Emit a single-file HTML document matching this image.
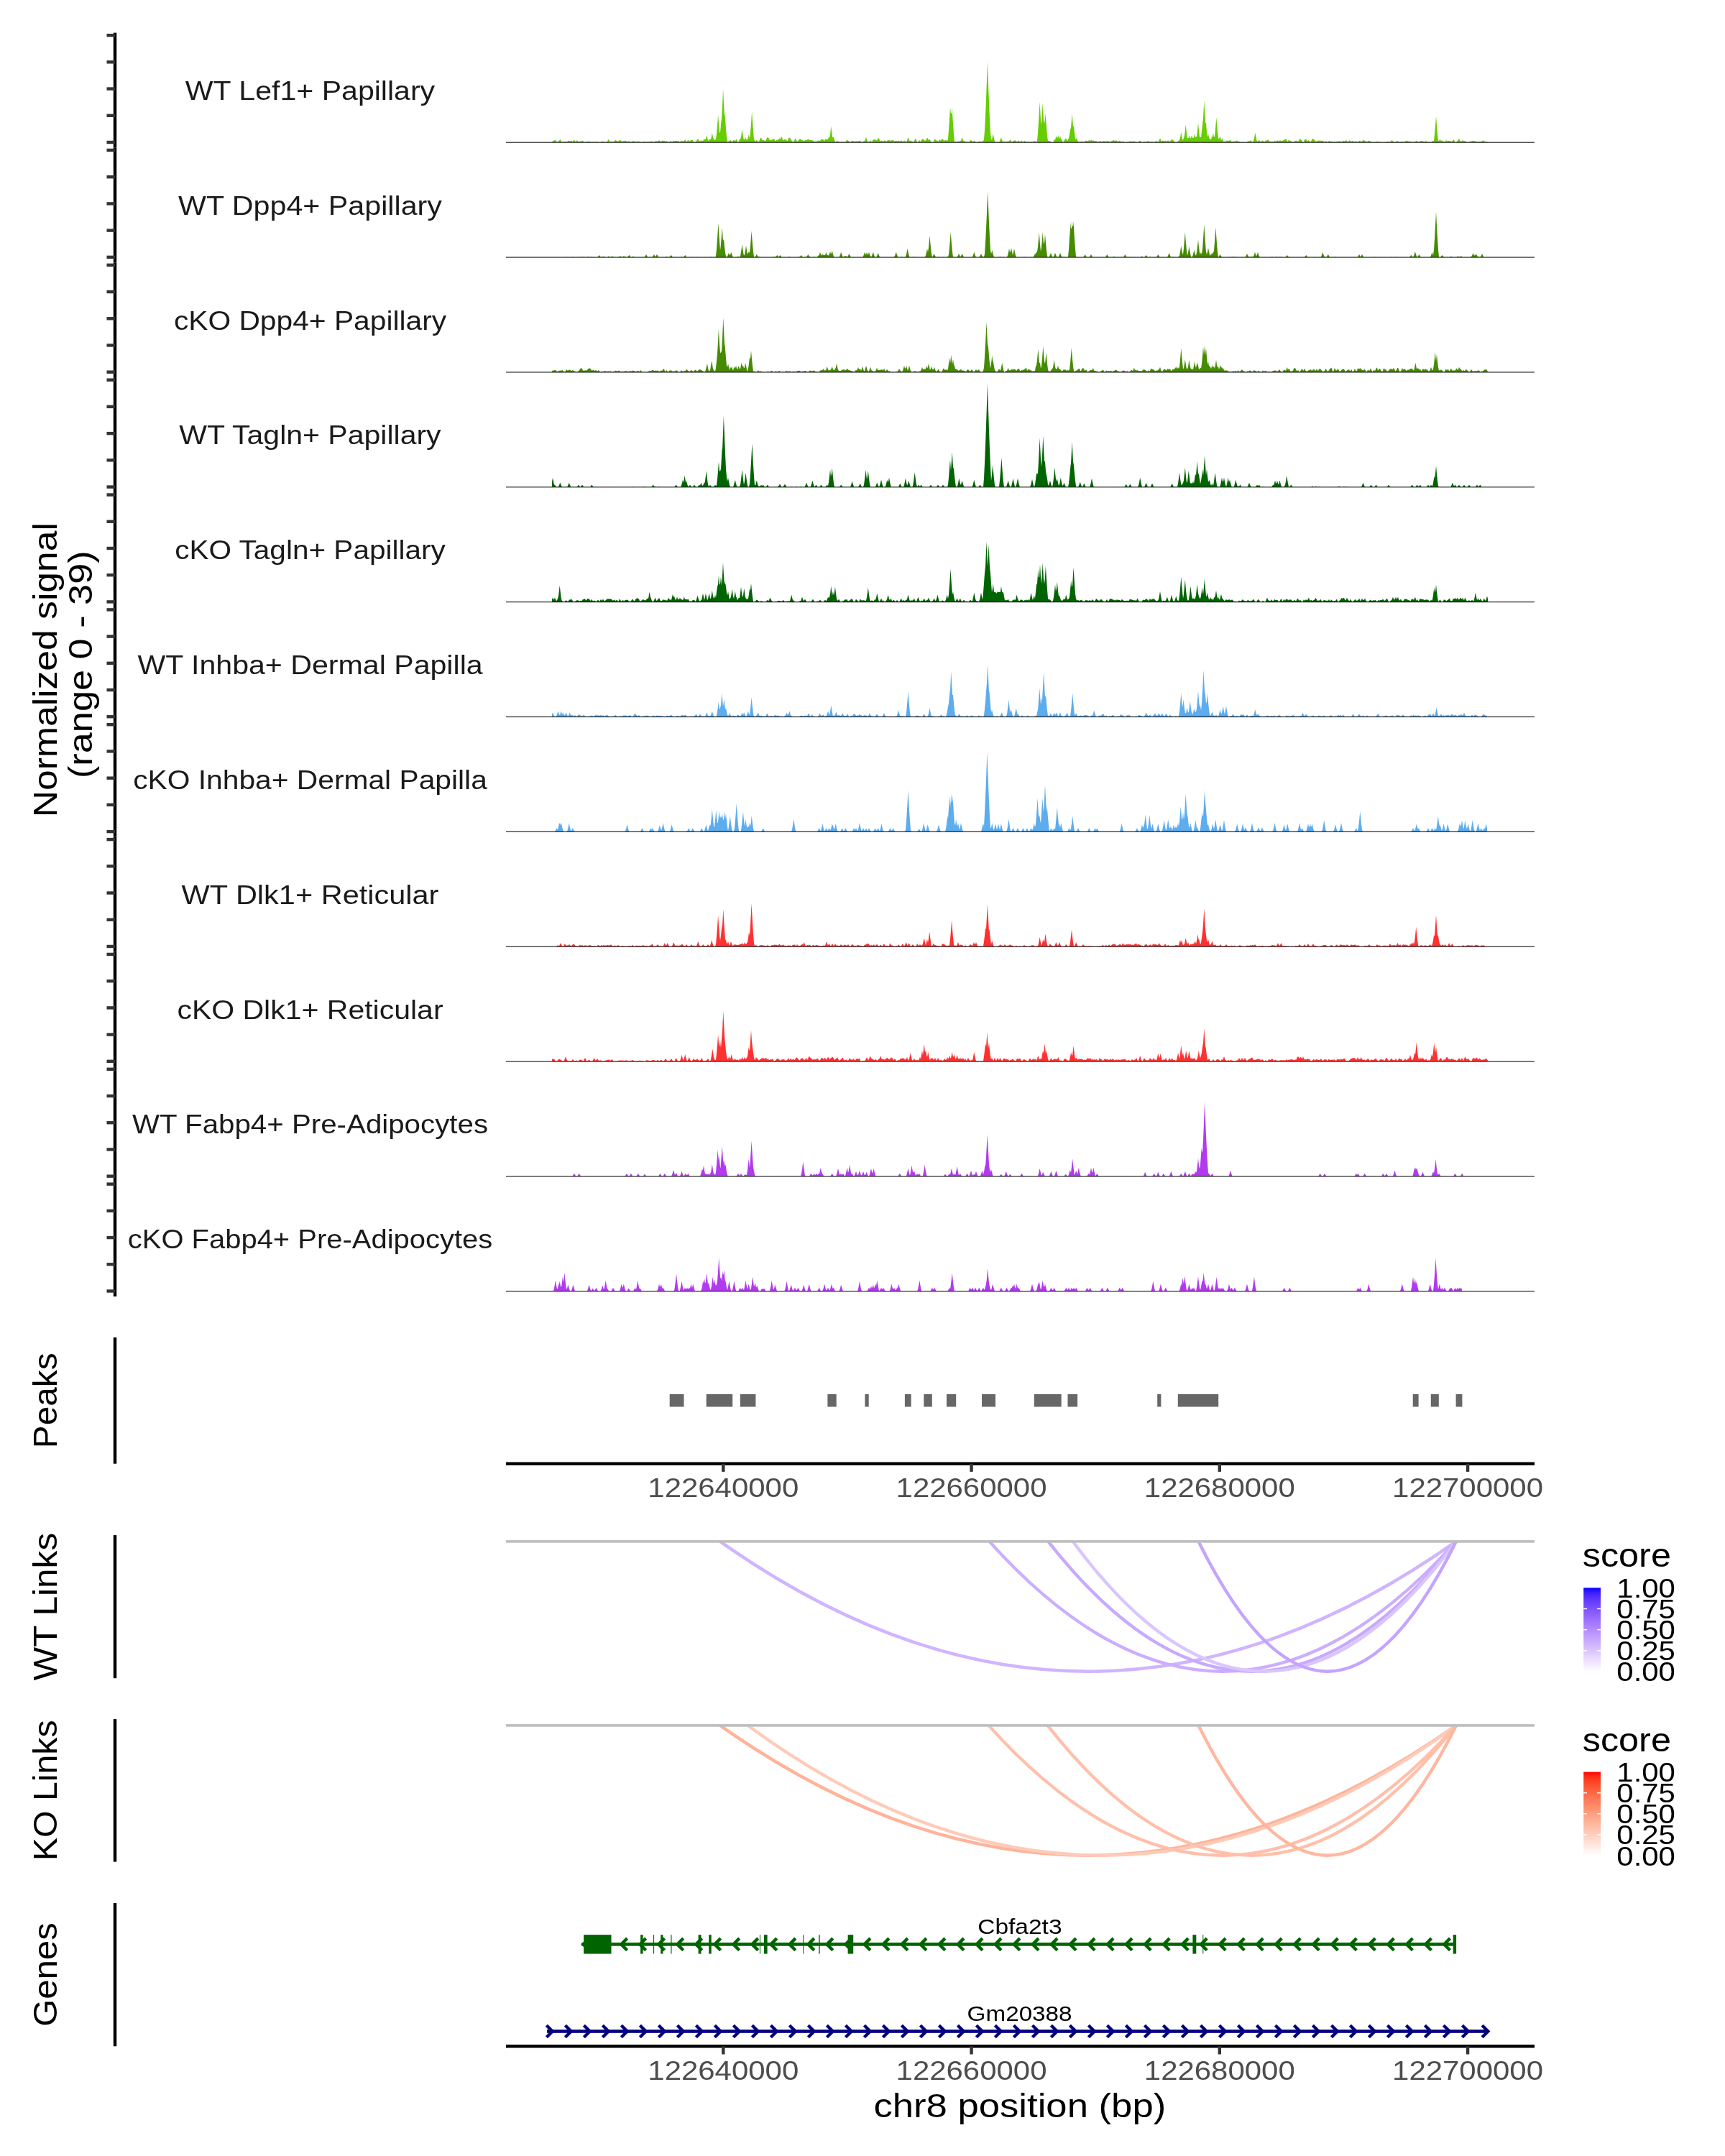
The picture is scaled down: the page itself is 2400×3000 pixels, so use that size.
<!DOCTYPE html><html><head><meta charset="utf-8"><style>html,body{margin:0;padding:0;background:#fff}svg{display:block;will-change:transform}text{font-family:"Liberation Sans", sans-serif}</style></head><body>
<svg width="2400" height="3000" viewBox="0 0 2400 3000">
<rect width="2400" height="3000" fill="#fff"/>
<defs>
<linearGradient id="gb" x1="0" y1="1" x2="0" y2="0">
<stop offset="0.000" stop-color="#FFFFFF"/>
<stop offset="0.050" stop-color="#F8F3FF"/>
<stop offset="0.100" stop-color="#F2E7FF"/>
<stop offset="0.150" stop-color="#EBDCFF"/>
<stop offset="0.200" stop-color="#E3D0FF"/>
<stop offset="0.250" stop-color="#DCC4FF"/>
<stop offset="0.300" stop-color="#D4B9FF"/>
<stop offset="0.350" stop-color="#CCADFF"/>
<stop offset="0.400" stop-color="#C4A2FF"/>
<stop offset="0.450" stop-color="#BC97FF"/>
<stop offset="0.500" stop-color="#B38BFF"/>
<stop offset="0.550" stop-color="#AA80FF"/>
<stop offset="0.600" stop-color="#A074FF"/>
<stop offset="0.650" stop-color="#9569FF"/>
<stop offset="0.700" stop-color="#8A5DFF"/>
<stop offset="0.750" stop-color="#7E52FF"/>
<stop offset="0.800" stop-color="#7145FF"/>
<stop offset="0.850" stop-color="#6239FF"/>
<stop offset="0.900" stop-color="#502BFF"/>
<stop offset="0.950" stop-color="#381BFF"/>
<stop offset="1.000" stop-color="#0000FF"/>
</linearGradient>
<linearGradient id="gr" x1="0" y1="1" x2="0" y2="0">
<stop offset="0.000" stop-color="#FFFFFF"/>
<stop offset="0.050" stop-color="#FFF5F2"/>
<stop offset="0.100" stop-color="#FFECE5"/>
<stop offset="0.150" stop-color="#FFE2D8"/>
<stop offset="0.200" stop-color="#FFD9CB"/>
<stop offset="0.250" stop-color="#FFCFBF"/>
<stop offset="0.300" stop-color="#FFC6B2"/>
<stop offset="0.350" stop-color="#FFBCA6"/>
<stop offset="0.400" stop-color="#FFB299"/>
<stop offset="0.450" stop-color="#FFA88D"/>
<stop offset="0.500" stop-color="#FF9E81"/>
<stop offset="0.550" stop-color="#FF9475"/>
<stop offset="0.600" stop-color="#FF8969"/>
<stop offset="0.650" stop-color="#FF7E5E"/>
<stop offset="0.700" stop-color="#FF7352"/>
<stop offset="0.750" stop-color="#FF6846"/>
<stop offset="0.800" stop-color="#FF5B3A"/>
<stop offset="0.850" stop-color="#FF4D2E"/>
<stop offset="0.900" stop-color="#FF3E22"/>
<stop offset="0.950" stop-color="#FF2913"/>
<stop offset="1.000" stop-color="#FF0000"/>
</linearGradient>
</defs>
<rect x="157.80" y="45.60" width="4.4" height="159.90" fill="#000"/>
<rect x="148.5" y="195.80" width="11.50" height="4.4" fill="#333333"/>
<rect x="148.5" y="158.58" width="11.50" height="4.4" fill="#333333"/>
<rect x="148.5" y="121.36" width="11.50" height="4.4" fill="#333333"/>
<rect x="148.5" y="84.14" width="11.50" height="4.4" fill="#333333"/>
<rect x="148.5" y="46.92" width="11.50" height="4.4" fill="#333333"/>
<text x="431.50" y="138.80" font-size="37.40" fill="#1A1A1A" text-anchor="middle" textLength="347.31" lengthAdjust="spacingAndGlyphs">WT Lef1+ Papillary</text>
<path d="M768.0,198.00 L768.0,197.70 L769.0,196.60 L770.0,195.70 L771.0,195.80 L772.0,194.40 L773.0,194.90 L774.0,197.00 L775.0,197.50 L776.0,197.40 L777.0,196.40 L778.0,196.10 L779.0,194.10 L779.3,193.50 L780.0,195.00 L781.0,196.80 L782.0,197.50 L783.0,197.20 L784.0,196.40 L785.0,197.40 L786.0,197.50 L787.0,196.60 L788.0,197.30 L789.0,197.20 L790.0,196.20 L791.0,195.60 L791.8,195.90 L792.0,195.90 L793.0,196.30 L794.0,196.30 L795.0,195.50 L796.0,196.70 L797.0,197.00 L798.0,195.00 L799.0,194.70 L800.0,196.60 L801.0,197.10 L802.0,195.70 L803.0,195.30 L804.0,196.50 L805.0,197.30 L806.0,196.90 L807.0,196.60 L808.0,196.50 L809.0,196.50 L810.0,195.70 L811.0,195.80 L812.0,197.30 L813.0,197.60 L814.0,197.40 L815.0,197.20 L816.0,197.00 L817.0,196.80 L818.0,197.00 L819.0,196.90 L820.0,196.50 L821.0,196.80 L822.0,197.40 L823.0,197.40 L824.0,197.20 L825.0,197.60 L826.0,197.40 L827.0,197.00 L828.0,197.50 L829.0,197.40 L830.0,196.70 L831.0,197.30 L832.0,197.60 L833.0,198.00 L834.0,198.00 L835.0,197.70 L836.0,197.60 L837.0,196.90 L838.0,196.50 L839.0,196.90 L840.0,197.00 L841.0,197.50 L842.0,197.60 L843.0,197.60 L844.0,197.50 L845.0,196.90 L846.0,194.60 L847.0,194.10 L848.0,196.50 L849.0,197.40 L850.0,196.60 L851.0,196.80 L852.0,197.70 L853.0,197.50 L854.0,196.60 L855.0,196.30 L856.0,195.10 L857.0,195.20 L858.0,196.00 L859.0,196.00 L860.0,196.70 L861.0,195.90 L862.0,195.30 L863.0,195.00 L864.0,195.50 L865.0,196.90 L866.0,197.00 L867.0,196.00 L868.0,196.40 L869.0,196.00 L870.0,195.60 L871.0,196.20 L872.0,196.50 L873.0,197.20 L874.0,196.80 L875.0,196.20 L876.0,196.50 L877.0,197.40 L878.0,197.50 L879.0,196.90 L880.0,196.50 L881.0,196.10 L882.0,196.40 L883.0,196.50 L884.0,197.00 L885.0,197.50 L886.0,197.10 L887.0,196.20 L888.0,196.60 L889.0,197.10 L890.0,196.70 L891.0,197.30 L892.0,198.00 L893.0,198.00 L894.0,197.60 L895.0,196.90 L896.0,197.10 L897.0,196.80 L898.0,197.20 L899.0,197.50 L900.0,197.60 L901.0,197.00 L902.0,197.00 L903.0,197.20 L904.0,196.90 L905.0,197.00 L906.0,196.60 L907.0,196.70 L908.0,197.00 L909.0,197.20 L910.0,197.40 L911.0,197.10 L912.0,196.30 L913.0,196.40 L914.0,196.60 L915.0,196.20 L916.0,195.90 L917.0,195.40 L918.0,195.60 L919.0,197.00 L920.0,196.70 L921.0,195.50 L922.0,195.80 L923.0,196.20 L924.0,195.50 L925.0,196.60 L926.0,197.00 L927.0,195.70 L928.0,196.30 L929.0,197.60 L930.0,197.70 L931.0,197.20 L932.0,197.10 L933.0,196.20 L934.0,196.60 L935.0,197.20 L936.0,196.80 L937.0,195.50 L938.0,196.00 L939.0,196.50 L940.0,195.80 L941.0,195.80 L942.0,196.00 L943.0,196.20 L944.0,195.80 L945.0,197.20 L946.0,197.40 L947.0,196.20 L948.0,196.20 L949.0,196.30 L950.0,196.20 L951.0,196.20 L952.0,196.10 L953.0,194.40 L953.2,194.00 L954.0,195.50 L955.0,197.10 L956.0,196.90 L957.0,194.50 L958.0,195.20 L959.0,196.70 L960.0,196.20 L961.0,195.10 L962.0,195.10 L963.0,194.70 L964.0,195.30 L965.0,197.20 L966.0,198.00 L967.0,197.60 L968.0,197.00 L969.0,196.30 L970.0,194.30 L971.0,193.70 L971.3,193.00 L972.0,194.60 L973.0,196.60 L974.0,196.70 L975.0,194.90 L976.0,195.70 L977.0,196.30 L978.0,195.80 L979.0,194.90 L980.0,193.30 L981.0,194.00 L982.0,193.50 L983.0,189.40 L983.3,188.00 L984.0,191.10 L985.0,195.00 L986.0,195.90 L987.0,194.40 L988.0,192.70 L989.0,194.20 L990.0,189.20 L990.8,184.60 L991.0,185.80 L992.0,191.30 L993.0,192.90 L994.0,194.80 L995.0,195.00 L996.0,192.90 L997.0,186.70 L998.0,174.70 L999.0,161.00 L999.1,159.60 L1000.0,172.10 L1001.0,184.50 L1002.0,184.50 L1003.0,173.80 L1003.5,168.00 L1004.0,165.50 L1005.0,147.50 L1006.0,125.70 L1006.1,123.40 L1007.0,143.30 L1008.0,161.90 L1008.5,158.00 L1009.0,165.30 L1010.0,178.80 L1011.0,190.30 L1012.0,197.50 L1013.0,197.00 L1014.0,196.50 L1015.0,196.10 L1016.0,194.80 L1017.0,195.60 L1018.0,197.20 L1019.0,196.80 L1020.0,195.50 L1021.0,194.70 L1022.0,195.60 L1023.0,196.30 L1024.0,194.10 L1025.0,193.90 L1026.0,196.80 L1027.0,198.00 L1028.0,196.80 L1029.0,193.50 L1030.0,193.80 L1031.0,190.70 L1032.0,183.80 L1032.5,180.00 L1033.0,183.80 L1034.0,190.70 L1035.0,194.60 L1036.0,193.80 L1037.0,192.60 L1037.5,191.00 L1038.0,192.60 L1039.0,195.30 L1040.0,193.80 L1041.0,190.40 L1041.7,187.00 L1042.0,188.50 L1043.0,193.00 L1044.0,184.80 L1045.0,171.80 L1046.0,157.00 L1046.1,155.40 L1047.0,168.90 L1048.0,182.40 L1049.0,193.40 L1050.0,195.80 L1051.0,197.10 L1052.0,196.10 L1053.0,194.30 L1054.0,196.60 L1055.0,198.00 L1056.0,197.10 L1057.0,194.60 L1058.0,192.20 L1059.0,191.30 L1060.0,193.80 L1061.0,195.40 L1062.0,194.60 L1063.0,195.00 L1064.0,196.20 L1065.0,196.00 L1066.0,194.00 L1067.0,191.90 L1068.0,191.30 L1069.0,191.50 L1070.0,192.80 L1071.0,195.30 L1072.0,195.10 L1073.0,195.30 L1074.0,193.70 L1075.0,194.60 L1076.0,193.70 L1077.0,192.60 L1078.0,195.20 L1079.0,196.50 L1080.0,195.40 L1081.0,193.80 L1082.0,195.50 L1083.0,194.20 L1084.0,192.30 L1085.0,192.90 L1086.0,192.90 L1087.0,190.40 L1088.0,190.80 L1089.0,194.60 L1090.0,195.70 L1091.0,193.60 L1092.0,194.80 L1093.0,193.50 L1094.0,194.30 L1095.0,196.20 L1096.0,195.70 L1097.0,192.40 L1098.0,191.00 L1099.0,192.10 L1100.0,193.00 L1101.0,194.60 L1102.0,196.50 L1103.0,197.30 L1104.0,197.00 L1105.0,196.30 L1106.0,193.20 L1107.0,192.40 L1108.0,195.30 L1109.0,197.00 L1110.0,196.20 L1111.0,195.30 L1112.0,193.70 L1113.0,193.40 L1114.0,193.40 L1115.0,193.80 L1116.0,195.60 L1117.0,194.80 L1118.0,195.90 L1119.0,196.60 L1120.0,194.50 L1121.0,194.70 L1122.0,195.60 L1123.0,194.20 L1124.0,194.00 L1125.0,193.60 L1126.0,194.40 L1127.0,195.20 L1128.0,194.30 L1129.0,195.30 L1130.0,195.30 L1131.0,195.50 L1132.0,195.90 L1133.0,197.20 L1134.0,196.90 L1135.0,196.20 L1136.0,197.00 L1137.0,196.60 L1138.0,195.30 L1138.2,195.00 L1139.0,196.00 L1140.0,196.10 L1141.0,195.70 L1142.0,194.60 L1143.0,193.20 L1144.0,194.40 L1145.0,193.20 L1146.0,195.20 L1147.0,196.50 L1148.0,193.10 L1149.0,193.60 L1150.0,194.30 L1151.0,193.80 L1152.0,193.50 L1153.0,190.00 L1154.0,192.40 L1155.0,186.90 L1156.0,178.30 L1156.3,175.50 L1157.0,181.90 L1158.0,190.00 L1159.0,191.80 L1159.5,190.00 L1160.0,191.80 L1161.0,195.10 L1162.0,197.20 L1163.0,197.00 L1164.0,197.00 L1165.0,196.60 L1166.0,196.20 L1167.0,196.60 L1168.0,197.60 L1169.0,198.00 L1170.0,197.50 L1171.0,196.70 L1172.0,197.40 L1173.0,197.50 L1174.0,197.00 L1175.0,197.50 L1176.0,197.50 L1177.0,196.40 L1178.0,195.10 L1179.0,195.00 L1180.0,196.20 L1181.0,196.30 L1182.0,196.90 L1183.0,197.40 L1184.0,197.30 L1185.0,196.10 L1186.0,195.70 L1187.0,196.30 L1188.0,196.40 L1189.0,196.90 L1190.0,196.50 L1191.0,196.50 L1192.0,196.40 L1193.0,196.50 L1194.0,196.50 L1195.0,196.30 L1196.0,195.90 L1197.0,195.80 L1198.0,197.20 L1199.0,197.70 L1200.0,197.60 L1201.0,196.90 L1202.0,196.30 L1203.0,196.20 L1204.0,194.10 L1205.0,191.00 L1206.0,194.10 L1207.0,196.70 L1208.0,197.30 L1209.0,197.50 L1210.0,196.20 L1211.0,195.20 L1212.0,196.70 L1213.0,197.50 L1214.0,196.00 L1215.0,194.20 L1216.0,194.30 L1217.0,193.90 L1218.0,194.00 L1219.0,195.10 L1220.0,195.70 L1221.0,193.50 L1221.2,193.00 L1222.0,192.20 L1223.0,192.60 L1224.0,195.40 L1225.0,196.80 L1226.0,195.80 L1227.0,195.60 L1228.0,196.40 L1229.0,197.00 L1230.0,195.80 L1231.0,195.30 L1232.0,196.30 L1233.0,196.70 L1234.0,196.20 L1235.0,195.00 L1236.0,195.30 L1237.0,195.20 L1238.0,195.30 L1239.0,196.10 L1240.0,195.20 L1241.0,195.30 L1242.0,195.30 L1243.0,194.80 L1244.0,196.60 L1245.0,196.50 L1246.0,195.50 L1247.0,196.10 L1248.0,196.20 L1249.0,196.20 L1250.0,195.40 L1251.0,196.30 L1252.0,196.80 L1253.0,196.00 L1254.0,194.90 L1255.0,196.60 L1256.0,197.00 L1257.0,196.60 L1258.0,195.80 L1259.0,195.70 L1260.0,197.30 L1261.0,197.50 L1262.0,195.50 L1263.0,192.60 L1263.5,191.00 L1264.0,192.60 L1265.0,195.20 L1266.0,196.30 L1267.0,195.60 L1268.0,195.90 L1269.0,196.70 L1270.0,197.10 L1271.0,197.50 L1272.0,196.30 L1273.0,193.50 L1274.0,193.10 L1275.0,195.30 L1276.0,197.40 L1277.0,198.00 L1278.0,196.60 L1279.0,194.40 L1280.0,196.60 L1281.0,197.20 L1282.0,195.10 L1283.0,193.80 L1284.0,193.10 L1285.0,194.20 L1286.0,194.80 L1287.0,195.90 L1288.0,195.30 L1289.0,193.40 L1290.0,191.70 L1291.0,192.40 L1292.0,195.30 L1293.0,194.60 L1293.5,193.50 L1294.0,194.60 L1295.0,196.40 L1296.0,197.70 L1297.0,197.40 L1298.0,197.70 L1299.0,197.10 L1300.0,194.20 L1301.0,193.00 L1302.0,195.20 L1303.0,195.80 L1304.0,195.10 L1305.0,197.00 L1306.0,196.70 L1307.0,194.00 L1308.0,195.00 L1309.0,195.60 L1310.0,193.80 L1311.0,193.30 L1312.0,193.40 L1313.0,195.70 L1314.0,195.70 L1315.0,194.50 L1316.0,195.50 L1317.0,194.90 L1318.0,196.30 L1319.0,192.90 L1320.0,180.90 L1321.0,166.10 L1322.0,150.00 L1323.0,158.40 L1324.0,157.00 L1324.5,148.50 L1325.0,157.00 L1326.0,172.20 L1327.0,186.60 L1328.0,197.00 L1329.0,197.30 L1330.0,197.00 L1331.0,197.40 L1332.0,196.80 L1333.0,196.60 L1334.0,197.00 L1335.0,196.20 L1336.0,196.30 L1337.0,195.70 L1338.0,192.90 L1338.6,191.00 L1339.0,192.30 L1340.0,195.20 L1341.0,196.00 L1342.0,196.30 L1343.0,197.10 L1344.0,197.00 L1345.0,196.90 L1346.0,197.50 L1347.0,197.60 L1348.0,197.50 L1349.0,197.00 L1350.0,195.10 L1351.0,195.10 L1352.0,196.20 L1353.0,196.70 L1354.0,196.90 L1355.0,195.80 L1356.0,196.00 L1357.0,197.20 L1358.0,198.00 L1359.0,198.00 L1360.0,197.60 L1361.0,197.20 L1362.0,196.60 L1363.0,196.70 L1364.0,197.00 L1365.0,197.20 L1366.0,196.90 L1367.0,196.50 L1368.0,196.70 L1369.0,193.50 L1370.0,181.40 L1371.0,160.90 L1371.5,149.40 L1372.0,137.20 L1373.0,111.20 L1373.9,86.00 L1374.0,88.90 L1375.0,116.50 L1376.0,142.20 L1376.5,154.10 L1377.0,165.30 L1378.0,184.50 L1379.0,193.50 L1380.0,194.30 L1381.0,189.70 L1381.7,186.00 L1382.0,187.60 L1383.0,192.50 L1384.0,196.50 L1385.0,197.30 L1386.0,197.50 L1387.0,197.70 L1388.0,198.00 L1389.0,197.60 L1390.0,197.50 L1391.0,196.50 L1392.0,193.80 L1392.9,191.00 L1393.0,191.30 L1394.0,194.40 L1395.0,196.90 L1396.0,197.20 L1397.0,196.60 L1398.0,197.30 L1399.0,197.20 L1400.0,197.00 L1401.0,196.90 L1402.0,196.30 L1403.0,196.70 L1404.0,196.50 L1405.0,194.80 L1405.4,194.00 L1406.0,195.10 L1407.0,196.80 L1408.0,197.60 L1409.0,197.00 L1410.0,195.80 L1411.0,195.90 L1412.0,195.20 L1413.0,195.60 L1414.0,196.70 L1415.0,197.10 L1416.0,196.80 L1417.0,195.30 L1418.0,196.20 L1419.0,197.50 L1420.0,196.80 L1421.0,195.60 L1422.0,196.60 L1423.0,198.00 L1424.0,197.30 L1425.0,195.80 L1426.0,196.20 L1427.0,197.20 L1428.0,197.40 L1429.0,197.10 L1430.0,197.10 L1431.0,197.60 L1432.0,197.40 L1433.0,196.90 L1434.0,197.40 L1435.0,197.30 L1436.0,197.30 L1437.0,197.40 L1438.0,196.80 L1439.0,196.10 L1440.0,196.50 L1441.0,196.80 L1442.0,196.90 L1443.0,196.40 L1444.0,185.00 L1445.0,169.90 L1446.0,152.70 L1446.6,141.50 L1447.0,149.00 L1448.0,166.60 L1448.5,173.00 L1449.0,170.60 L1450.0,155.80 L1450.7,143.00 L1451.0,148.60 L1452.0,166.00 L1453.0,172.60 L1454.0,165.90 L1454.6,157.00 L1455.0,163.00 L1456.0,176.90 L1457.0,188.90 L1458.0,196.10 L1459.0,196.00 L1460.0,196.20 L1461.0,196.40 L1462.0,197.10 L1463.0,198.00 L1465.0,198.00 L1466.0,196.40 L1467.0,193.70 L1468.0,194.70 L1469.0,191.00 L1469.5,189.00 L1470.0,191.00 L1471.0,192.60 L1472.0,188.90 L1472.2,188.00 L1473.0,191.50 L1474.0,192.90 L1475.0,189.00 L1476.0,192.70 L1477.0,194.00 L1478.0,196.40 L1479.0,197.20 L1480.0,197.40 L1481.0,194.80 L1482.0,193.80 L1483.0,192.20 L1484.0,194.10 L1485.0,196.50 L1486.0,193.00 L1487.0,192.80 L1488.0,187.40 L1489.0,180.00 L1490.0,178.10 L1491.0,166.50 L1491.6,157.70 L1492.0,163.60 L1493.0,175.70 L1494.0,175.60 L1495.0,184.70 L1496.0,193.70 L1497.0,193.20 L1498.0,191.80 L1499.0,195.70 L1500.0,196.80 L1501.0,196.90 L1502.0,197.20 L1503.0,197.40 L1504.0,196.70 L1505.0,196.50 L1506.0,196.90 L1507.0,197.20 L1508.0,197.50 L1509.0,197.10 L1510.0,195.80 L1511.0,195.80 L1512.0,196.00 L1513.0,196.50 L1514.0,195.90 L1515.0,195.20 L1516.0,195.60 L1517.0,196.10 L1518.0,194.50 L1519.0,195.30 L1520.0,196.10 L1521.0,195.40 L1522.0,195.70 L1523.0,196.20 L1524.0,196.50 L1525.0,195.60 L1526.0,196.90 L1527.0,197.20 L1528.0,196.50 L1529.0,197.00 L1530.0,196.90 L1531.0,196.00 L1532.0,196.60 L1533.0,197.40 L1534.0,197.20 L1535.0,196.00 L1536.0,195.90 L1537.0,196.80 L1538.0,196.60 L1539.0,196.80 L1540.0,196.30 L1541.0,196.10 L1542.0,196.50 L1543.0,196.80 L1544.0,197.20 L1545.0,197.20 L1546.0,196.40 L1547.0,195.90 L1548.0,195.90 L1549.0,194.90 L1550.0,194.90 L1551.0,196.30 L1552.0,195.80 L1553.0,195.00 L1554.0,196.10 L1555.0,197.10 L1556.0,196.90 L1557.0,195.80 L1558.0,196.10 L1559.0,196.50 L1560.0,196.80 L1561.0,197.20 L1562.0,196.50 L1563.0,196.60 L1564.0,197.40 L1565.0,198.00 L1566.0,198.00 L1567.0,197.70 L1568.0,197.20 L1569.0,197.20 L1570.0,197.40 L1571.0,196.90 L1572.0,196.00 L1573.0,196.70 L1574.0,197.00 L1575.0,196.70 L1576.0,196.40 L1577.0,196.60 L1578.0,196.80 L1579.0,196.60 L1580.0,197.50 L1581.0,198.00 L1582.0,197.60 L1583.0,198.00 L1584.0,197.40 L1585.0,195.90 L1586.0,195.40 L1587.0,196.40 L1588.0,197.50 L1589.0,198.00 L1590.0,197.40 L1591.0,197.00 L1592.0,197.40 L1593.0,197.10 L1594.0,197.30 L1595.0,197.30 L1596.0,196.50 L1597.0,196.20 L1598.0,196.70 L1599.0,197.00 L1600.0,196.80 L1601.0,197.40 L1602.0,197.30 L1603.0,196.80 L1604.0,197.40 L1605.0,198.00 L1606.0,197.60 L1607.0,196.70 L1608.0,196.60 L1609.0,196.10 L1610.0,196.90 L1611.0,197.40 L1612.0,196.70 L1613.0,194.70 L1614.0,192.00 L1615.0,194.70 L1616.0,196.70 L1617.0,195.90 L1618.0,195.40 L1619.0,196.60 L1620.0,196.20 L1621.0,195.60 L1622.0,196.10 L1623.0,197.10 L1624.0,196.20 L1625.0,195.00 L1626.0,196.20 L1627.0,197.10 L1628.0,196.60 L1629.0,195.30 L1630.0,194.60 L1630.7,193.00 L1631.0,193.70 L1632.0,195.40 L1633.0,195.60 L1634.0,197.30 L1635.0,198.00 L1636.0,197.70 L1637.0,198.00 L1638.0,197.50 L1639.0,196.20 L1640.0,196.00 L1641.0,194.80 L1642.0,191.50 L1643.0,185.80 L1643.3,184.00 L1644.0,188.20 L1645.0,193.50 L1646.0,195.10 L1647.0,191.50 L1648.0,188.90 L1649.0,180.00 L1649.7,173.00 L1650.0,176.00 L1651.0,185.50 L1652.0,193.10 L1653.0,191.20 L1654.0,192.30 L1655.0,188.00 L1656.0,192.30 L1657.0,192.30 L1658.0,188.00 L1659.0,191.60 L1660.0,192.20 L1661.0,191.10 L1662.0,186.00 L1663.0,191.10 L1664.0,189.90 L1665.0,190.50 L1666.0,181.40 L1667.0,171.00 L1668.0,181.40 L1669.0,190.50 L1670.0,190.40 L1671.0,191.30 L1672.0,182.80 L1673.0,173.00 L1674.0,163.90 L1675.0,145.80 L1675.3,140.00 L1676.0,153.20 L1677.0,170.60 L1678.0,171.60 L1679.0,183.70 L1680.0,191.10 L1681.0,186.00 L1682.0,191.10 L1683.0,193.20 L1684.0,193.40 L1685.0,194.20 L1686.0,189.50 L1687.0,190.50 L1688.0,185.00 L1689.0,190.50 L1690.0,190.20 L1691.0,179.60 L1692.0,167.20 L1692.3,163.20 L1693.0,172.30 L1694.0,184.10 L1695.0,192.30 L1696.0,193.60 L1697.0,190.30 L1698.0,190.80 L1699.0,195.40 L1700.0,192.80 L1700.3,192.00 L1701.0,193.90 L1702.0,196.30 L1703.0,197.60 L1704.0,196.60 L1705.0,196.50 L1706.0,196.50 L1707.0,195.80 L1708.0,195.40 L1709.0,196.00 L1710.0,195.90 L1711.0,194.70 L1712.0,195.00 L1713.0,196.20 L1714.0,197.40 L1715.0,197.10 L1716.0,196.40 L1717.0,196.60 L1718.0,196.50 L1719.0,196.90 L1720.0,195.80 L1721.0,195.60 L1722.0,196.80 L1723.0,196.60 L1724.0,196.40 L1725.0,197.50 L1726.0,198.00 L1727.0,197.40 L1728.0,197.70 L1729.0,197.50 L1730.0,197.20 L1731.0,197.70 L1732.0,198.00 L1734.0,198.00 L1735.0,197.30 L1736.0,196.80 L1737.0,196.20 L1738.0,196.40 L1739.0,195.90 L1740.0,195.10 L1741.0,196.40 L1742.0,197.40 L1743.0,197.20 L1744.0,196.30 L1745.0,191.80 L1746.0,186.40 L1746.3,184.60 L1747.0,188.60 L1748.0,193.80 L1749.0,197.10 L1750.0,196.40 L1751.0,195.20 L1752.0,195.40 L1753.0,196.10 L1754.0,197.40 L1755.0,197.10 L1756.0,195.40 L1757.0,195.70 L1758.0,196.40 L1759.0,197.20 L1760.0,196.80 L1761.0,195.30 L1762.0,196.10 L1763.0,195.10 L1764.0,194.30 L1765.0,195.10 L1766.0,196.40 L1767.0,196.80 L1768.0,197.20 L1769.0,197.00 L1770.0,196.60 L1771.0,197.50 L1772.0,197.30 L1773.0,195.80 L1774.0,196.10 L1775.0,196.90 L1776.0,196.20 L1777.0,195.10 L1778.0,196.00 L1779.0,196.50 L1780.0,195.70 L1781.0,195.50 L1782.0,195.50 L1783.0,196.20 L1784.0,196.30 L1785.0,195.20 L1786.0,194.50 L1787.0,194.60 L1788.0,194.00 L1789.0,193.30 L1790.0,194.30 L1791.0,196.60 L1792.0,196.70 L1793.0,194.30 L1794.0,194.70 L1795.0,196.20 L1796.0,195.70 L1797.0,196.90 L1798.0,197.40 L1799.0,198.00 L1800.0,197.20 L1801.0,196.10 L1802.0,196.30 L1803.0,195.50 L1804.0,196.10 L1805.0,196.60 L1806.0,196.80 L1807.0,196.00 L1808.0,193.70 L1809.0,193.20 L1810.0,194.00 L1811.0,194.90 L1812.0,197.10 L1813.0,198.00 L1814.0,197.00 L1815.0,194.60 L1816.0,193.70 L1817.0,193.70 L1818.0,194.50 L1819.0,196.30 L1820.0,195.50 L1821.0,194.70 L1822.0,196.40 L1823.0,197.50 L1824.0,196.70 L1825.0,194.60 L1826.0,193.10 L1827.0,193.30 L1828.0,193.80 L1829.0,194.70 L1830.0,196.40 L1831.0,196.40 L1832.0,196.70 L1833.0,196.20 L1834.0,195.00 L1835.0,196.20 L1836.0,195.30 L1837.0,195.60 L1838.0,196.30 L1839.0,195.70 L1840.0,195.80 L1841.0,195.90 L1842.0,197.00 L1843.0,197.50 L1844.0,196.50 L1845.0,196.10 L1846.0,197.20 L1847.0,197.70 L1848.0,197.10 L1849.0,195.90 L1850.0,195.80 L1851.0,197.10 L1852.0,196.80 L1853.0,196.50 L1854.0,197.20 L1855.0,197.10 L1856.0,197.20 L1857.0,196.70 L1858.0,197.20 L1859.0,197.20 L1860.0,196.20 L1861.0,197.20 L1862.0,196.90 L1863.0,196.10 L1864.0,196.70 L1865.0,196.40 L1866.0,197.10 L1867.0,197.00 L1868.0,196.40 L1869.0,195.80 L1870.0,196.30 L1871.0,196.50 L1872.0,195.70 L1873.0,195.10 L1874.0,196.30 L1875.0,197.40 L1876.0,196.80 L1877.0,195.50 L1878.0,195.50 L1879.0,196.60 L1880.0,196.80 L1881.0,196.20 L1882.0,195.80 L1883.0,196.40 L1884.0,197.60 L1885.0,197.20 L1886.0,195.80 L1887.0,196.80 L1888.0,197.50 L1889.0,197.10 L1890.0,197.00 L1891.0,195.90 L1892.0,195.70 L1893.0,196.30 L1894.0,197.00 L1895.0,197.00 L1896.0,195.30 L1897.0,194.70 L1898.0,195.80 L1899.0,195.60 L1900.0,196.50 L1901.0,197.10 L1902.0,197.10 L1903.0,196.50 L1904.0,195.80 L1905.0,195.80 L1906.0,196.20 L1907.0,196.90 L1908.0,197.10 L1909.0,197.70 L1910.0,198.00 L1911.0,197.50 L1912.0,197.20 L1913.0,197.50 L1914.0,198.00 L1915.0,197.30 L1916.0,196.60 L1917.0,196.90 L1918.0,197.60 L1919.0,197.60 L1920.0,197.50 L1921.0,197.30 L1922.0,197.40 L1923.0,198.00 L1926.0,198.00 L1927.0,197.50 L1928.0,197.40 L1929.0,197.50 L1930.0,197.30 L1931.0,197.00 L1932.0,196.90 L1933.0,197.40 L1934.0,197.20 L1935.0,196.60 L1936.0,195.60 L1937.0,195.60 L1938.0,196.20 L1939.0,197.40 L1940.0,197.60 L1941.0,197.40 L1942.0,197.20 L1943.0,196.40 L1944.0,195.90 L1945.0,196.60 L1946.0,197.30 L1947.0,197.60 L1948.0,197.50 L1949.0,196.80 L1950.0,196.90 L1951.0,197.40 L1952.0,196.90 L1953.0,197.10 L1954.0,197.20 L1955.0,196.60 L1956.0,196.20 L1957.0,195.60 L1958.0,195.90 L1959.0,196.40 L1960.0,196.60 L1961.0,196.70 L1962.0,197.00 L1963.0,196.80 L1964.0,196.90 L1965.0,197.70 L1966.0,198.00 L1967.0,197.60 L1968.0,196.80 L1969.0,196.90 L1970.0,196.50 L1971.0,195.50 L1972.0,196.40 L1973.0,197.50 L1974.0,197.40 L1975.0,196.80 L1976.0,196.30 L1977.0,196.50 L1978.0,195.90 L1979.0,196.20 L1980.0,196.60 L1981.0,196.70 L1982.0,197.30 L1983.0,196.90 L1984.0,195.60 L1985.0,197.10 L1986.0,198.00 L1987.0,197.20 L1988.0,196.90 L1989.0,197.50 L1990.0,197.70 L1991.0,197.70 L1992.0,196.90 L1993.0,196.10 L1994.0,196.40 L1995.0,195.50 L1996.0,186.50 L1997.0,174.80 L1998.0,161.50 L1999.0,174.80 L2000.0,186.50 L2001.0,195.70 L2002.0,196.10 L2003.0,194.20 L2003.6,194.50 L2004.0,194.50 L2005.0,196.10 L2006.0,195.40 L2007.0,195.40 L2008.0,196.80 L2009.0,197.50 L2010.0,197.10 L2011.0,196.40 L2012.0,194.90 L2013.0,196.00 L2014.0,196.70 L2015.0,195.60 L2016.0,196.30 L2017.0,195.80 L2018.0,196.30 L2019.0,196.70 L2020.0,196.80 L2021.0,195.90 L2022.0,194.60 L2023.0,194.80 L2024.0,197.10 L2025.0,198.00 L2026.0,197.50 L2027.0,197.00 L2028.0,195.60 L2029.0,195.00 L2030.0,192.50 L2031.0,195.00 L2032.0,196.50 L2033.0,196.80 L2034.0,196.20 L2035.0,195.10 L2036.0,195.80 L2037.0,196.60 L2038.0,195.90 L2039.0,196.00 L2040.0,197.50 L2041.0,198.00 L2042.0,197.60 L2043.0,197.70 L2044.0,197.60 L2045.0,197.00 L2046.0,196.20 L2047.0,196.70 L2048.0,196.40 L2049.0,195.40 L2050.0,196.40 L2051.0,196.10 L2052.0,196.10 L2053.0,196.50 L2054.0,197.30 L2055.0,197.30 L2056.0,197.10 L2057.0,196.70 L2058.0,196.90 L2059.0,197.30 L2060.0,196.90 L2061.0,196.60 L2062.0,196.40 L2063.0,195.80 L2064.0,195.60 L2065.0,195.90 L2066.0,197.20 L2067.0,197.50 L2068.0,196.80 L2069.0,197.30 L2070.0,198.00 L2070.0,198.00 Z" fill="#66CD00"/>
<rect x="704.0" y="197.55" width="1431.0" height="1.3" fill="#000" fill-opacity="0.8"/>
<rect x="157.80" y="205.45" width="4.4" height="159.90" fill="#000"/>
<rect x="148.5" y="355.65" width="11.50" height="4.4" fill="#333333"/>
<rect x="148.5" y="318.43" width="11.50" height="4.4" fill="#333333"/>
<rect x="148.5" y="281.21" width="11.50" height="4.4" fill="#333333"/>
<rect x="148.5" y="243.99" width="11.50" height="4.4" fill="#333333"/>
<rect x="148.5" y="206.77" width="11.50" height="4.4" fill="#333333"/>
<text x="431.50" y="298.65" font-size="37.40" fill="#1A1A1A" text-anchor="middle" textLength="366.84" lengthAdjust="spacingAndGlyphs">WT Dpp4+ Papillary</text>
<path d="M768.0,357.85 L768.0,357.85 L786.0,357.85 L787.0,357.15 L788.0,357.45 L789.0,357.85 L795.0,357.85 L796.0,357.55 L797.0,357.15 L798.0,357.55 L799.0,357.85 L802.0,357.85 L803.0,357.55 L804.0,357.85 L805.0,357.55 L806.0,357.85 L807.0,357.85 L808.0,357.15 L809.0,357.05 L810.0,357.85 L811.0,357.55 L812.0,357.15 L813.0,357.55 L814.0,357.85 L815.0,357.85 L816.0,357.55 L817.0,357.15 L818.0,357.25 L819.0,357.05 L820.0,357.55 L821.0,357.85 L822.0,357.45 L823.0,356.95 L824.0,357.45 L825.0,357.85 L826.0,357.55 L827.0,357.85 L831.0,357.85 L832.0,356.95 L833.0,355.65 L833.6,354.85 L834.0,355.45 L835.0,356.75 L836.0,357.55 L837.0,357.55 L838.0,357.05 L839.0,356.95 L840.0,356.45 L841.0,357.25 L842.0,357.85 L845.0,357.85 L846.0,357.25 L847.0,356.35 L848.0,357.25 L849.0,357.85 L850.0,357.55 L851.0,356.75 L852.0,356.55 L853.0,357.15 L854.0,357.45 L855.0,357.35 L856.0,357.85 L859.0,357.85 L860.0,357.55 L861.0,357.05 L862.0,356.95 L863.0,356.15 L864.0,356.75 L865.0,357.85 L866.0,357.45 L867.0,356.55 L868.0,356.45 L869.0,357.05 L870.0,356.75 L871.0,357.45 L872.0,357.85 L873.0,357.85 L874.0,356.55 L875.0,355.25 L875.3,354.85 L876.0,355.85 L877.0,357.05 L878.0,357.85 L879.0,357.85 L880.0,357.05 L881.0,356.45 L882.0,357.15 L883.0,357.85 L894.0,357.85 L895.0,357.45 L896.0,357.85 L897.0,357.15 L898.0,355.65 L899.0,353.85 L900.0,355.65 L901.0,357.15 L902.0,357.85 L904.0,357.85 L905.0,357.25 L906.0,357.85 L907.0,357.45 L908.0,356.95 L909.0,355.65 L910.0,353.85 L911.0,355.65 L912.0,357.15 L913.0,355.65 L914.0,353.85 L915.0,355.65 L916.0,357.15 L917.0,357.85 L919.0,357.85 L920.0,357.55 L921.0,357.85 L925.0,357.85 L926.0,357.45 L927.0,356.75 L928.0,356.95 L929.0,357.85 L930.0,357.55 L931.0,357.25 L932.0,357.05 L933.0,355.85 L933.7,354.85 L934.0,355.25 L935.0,356.55 L936.0,357.85 L939.0,357.85 L940.0,357.45 L941.0,357.85 L946.0,357.85 L947.0,357.55 L948.0,357.05 L949.0,357.25 L950.0,357.85 L951.0,357.55 L952.0,356.45 L953.0,355.15 L953.2,354.85 L954.0,355.95 L955.0,357.15 L956.0,357.85 L962.0,357.85 L963.0,357.55 L964.0,357.55 L965.0,357.85 L968.0,357.85 L969.0,357.45 L970.0,357.45 L971.0,357.85 L987.0,357.85 L988.0,357.55 L989.0,357.25 L990.0,357.55 L991.0,357.85 L992.0,357.55 L993.0,357.55 L994.0,357.45 L995.0,357.85 L996.0,356.45 L997.0,346.15 L998.0,332.65 L999.0,317.15 L999.4,310.55 L1000.0,320.45 L1001.0,335.55 L1002.0,348.55 L1003.0,340.15 L1004.0,326.55 L1004.7,316.15 L1005.0,320.75 L1006.0,334.95 L1007.0,332.85 L1008.0,342.65 L1009.0,351.15 L1010.0,356.25 L1011.0,357.85 L1012.0,356.55 L1013.0,354.25 L1013.9,351.85 L1014.0,352.15 L1015.0,354.75 L1016.0,354.55 L1017.0,351.55 L1017.2,350.85 L1018.0,353.35 L1019.0,356.05 L1020.0,357.85 L1025.0,357.85 L1026.0,357.25 L1027.0,356.45 L1028.0,357.25 L1029.0,357.85 L1030.0,356.25 L1031.0,350.75 L1032.0,344.05 L1032.5,340.35 L1033.0,344.05 L1034.0,350.75 L1035.0,355.45 L1036.0,354.15 L1037.0,348.55 L1038.0,341.85 L1039.0,348.55 L1040.0,353.85 L1041.0,352.35 L1041.7,349.85 L1042.0,350.95 L1043.0,351.55 L1044.0,341.85 L1045.0,329.45 L1045.6,321.35 L1046.0,326.85 L1047.0,339.55 L1048.0,350.35 L1049.0,357.35 L1050.0,357.85 L1051.0,356.95 L1052.0,355.35 L1052.8,353.85 L1053.0,354.25 L1054.0,355.95 L1055.0,357.45 L1056.0,356.85 L1057.0,357.45 L1058.0,357.85 L1059.0,357.85 L1060.0,357.45 L1061.0,357.85 L1075.0,357.85 L1076.0,357.55 L1077.0,356.95 L1078.0,357.25 L1079.0,357.55 L1080.0,356.45 L1081.0,355.15 L1081.2,354.85 L1082.0,355.95 L1083.0,357.15 L1084.0,356.75 L1085.0,355.45 L1085.4,354.85 L1086.0,355.65 L1087.0,356.95 L1088.0,357.85 L1096.0,357.85 L1097.0,357.45 L1098.0,356.75 L1099.0,357.45 L1100.0,357.85 L1110.0,357.85 L1111.0,357.55 L1112.0,356.95 L1113.0,356.95 L1114.0,355.65 L1114.6,354.85 L1115.0,355.45 L1116.0,356.75 L1117.0,357.85 L1118.0,357.85 L1119.0,357.55 L1120.0,357.85 L1121.0,357.55 L1122.0,357.05 L1123.0,356.15 L1124.0,354.45 L1124.3,353.85 L1125.0,355.15 L1126.0,356.55 L1127.0,357.35 L1128.0,357.85 L1131.0,357.85 L1132.0,357.55 L1133.0,356.95 L1134.0,357.55 L1135.0,357.85 L1136.0,357.85 L1137.0,357.25 L1138.0,356.35 L1139.0,355.45 L1140.0,353.95 L1141.0,350.85 L1142.0,353.95 L1143.0,355.85 L1144.0,353.15 L1145.0,354.55 L1146.0,355.05 L1147.0,354.85 L1148.0,355.05 L1149.0,352.15 L1149.4,350.85 L1150.0,352.75 L1151.0,355.35 L1152.0,354.95 L1153.0,355.45 L1154.0,353.35 L1155.0,349.85 L1156.0,353.35 L1157.0,351.65 L1157.7,348.85 L1158.0,350.05 L1159.0,353.85 L1160.0,356.85 L1161.0,357.85 L1167.0,357.85 L1168.0,356.95 L1169.0,354.55 L1170.0,351.55 L1170.2,350.85 L1171.0,353.35 L1172.0,356.05 L1173.0,357.45 L1174.0,357.35 L1175.0,356.25 L1176.0,356.25 L1177.0,356.35 L1178.0,356.95 L1179.0,357.25 L1180.0,355.95 L1181.0,353.75 L1181.4,352.85 L1182.0,354.25 L1183.0,356.25 L1184.0,357.85 L1195.0,357.85 L1196.0,357.55 L1197.0,357.85 L1200.0,357.85 L1201.0,356.55 L1202.0,353.95 L1203.0,350.85 L1204.0,353.95 L1205.0,353.95 L1206.0,350.85 L1207.0,353.95 L1208.0,353.95 L1209.0,350.85 L1210.0,353.95 L1211.0,356.55 L1212.0,357.25 L1213.0,356.05 L1214.0,353.35 L1214.8,350.85 L1215.0,351.55 L1216.0,354.55 L1217.0,356.95 L1218.0,357.85 L1219.0,357.85 L1220.0,356.15 L1221.0,353.75 L1221.7,351.85 L1222.0,352.65 L1223.0,355.25 L1224.0,357.35 L1225.0,357.85 L1242.0,357.85 L1243.0,357.55 L1244.0,357.25 L1245.0,356.05 L1246.0,353.35 L1246.8,350.85 L1247.0,351.55 L1248.0,354.55 L1249.0,356.95 L1250.0,357.85 L1252.0,357.85 L1253.0,357.55 L1254.0,356.95 L1255.0,357.55 L1256.0,357.85 L1259.0,357.85 L1260.0,357.35 L1261.0,353.75 L1262.0,349.05 L1262.6,345.85 L1263.0,347.95 L1264.0,352.85 L1265.0,356.75 L1266.0,357.45 L1267.0,357.85 L1269.0,357.85 L1270.0,357.55 L1271.0,357.25 L1272.0,357.45 L1273.0,357.85 L1274.0,357.45 L1275.0,357.85 L1284.0,357.85 L1285.0,357.55 L1286.0,357.85 L1287.0,357.85 L1288.0,355.35 L1289.0,350.95 L1290.0,345.85 L1291.0,350.95 L1292.0,344.35 L1293.0,333.65 L1293.5,327.85 L1294.0,333.65 L1295.0,344.35 L1296.0,353.35 L1297.0,357.85 L1298.0,356.25 L1299.0,354.25 L1299.6,352.85 L1300.0,353.75 L1301.0,355.95 L1302.0,357.55 L1303.0,357.85 L1304.0,357.85 L1305.0,357.55 L1306.0,357.15 L1307.0,357.55 L1308.0,357.85 L1312.0,357.85 L1313.0,357.25 L1314.0,357.85 L1316.0,357.85 L1317.0,357.45 L1318.0,356.85 L1319.0,357.45 L1320.0,353.65 L1321.0,343.95 L1322.0,332.15 L1322.7,323.05 L1323.0,327.05 L1324.0,339.45 L1325.0,350.05 L1326.0,357.85 L1327.0,357.55 L1328.0,357.55 L1329.0,357.85 L1331.0,357.85 L1332.0,356.95 L1333.0,355.15 L1334.0,352.85 L1335.0,355.15 L1336.0,356.95 L1337.0,356.25 L1338.0,354.25 L1338.6,352.85 L1339.0,353.75 L1340.0,355.95 L1341.0,357.55 L1342.0,357.85 L1352.0,357.85 L1353.0,357.15 L1354.0,354.75 L1355.0,351.85 L1355.3,350.85 L1356.0,353.05 L1357.0,355.85 L1358.0,357.85 L1362.0,357.85 L1363.0,356.95 L1364.0,355.15 L1365.0,352.85 L1366.0,355.15 L1367.0,356.95 L1368.0,356.65 L1369.0,357.35 L1370.0,353.75 L1371.0,337.95 L1372.0,318.15 L1373.0,295.55 L1374.0,270.95 L1374.2,265.85 L1375.0,285.95 L1376.0,309.35 L1377.0,330.35 L1378.0,348.05 L1379.0,353.35 L1380.0,349.25 L1380.3,347.85 L1381.0,350.95 L1382.0,354.85 L1383.0,357.45 L1384.0,357.85 L1389.0,357.85 L1390.0,357.55 L1391.0,357.35 L1392.0,356.95 L1393.0,357.45 L1394.0,357.85 L1395.0,357.85 L1396.0,357.35 L1397.0,357.85 L1401.0,357.85 L1402.0,355.35 L1403.0,350.95 L1404.0,345.85 L1405.0,350.95 L1406.0,350.35 L1407.0,344.85 L1408.0,350.35 L1409.0,355.05 L1410.0,350.95 L1411.0,345.85 L1412.0,350.95 L1413.0,355.35 L1414.0,357.85 L1423.0,357.85 L1424.0,357.55 L1425.0,357.45 L1426.0,357.35 L1427.0,357.85 L1437.0,357.85 L1438.0,356.95 L1439.0,355.15 L1440.0,352.85 L1441.0,353.45 L1442.0,350.95 L1443.0,350.15 L1444.0,343.95 L1445.0,332.15 L1445.7,323.05 L1446.0,327.05 L1447.0,339.45 L1448.0,350.05 L1449.0,343.95 L1450.0,332.15 L1450.7,323.05 L1451.0,327.05 L1452.0,339.45 L1453.0,337.85 L1454.0,325.85 L1455.0,337.85 L1456.0,348.25 L1457.0,356.45 L1458.0,357.85 L1459.0,357.85 L1460.0,356.75 L1461.0,354.55 L1462.0,351.85 L1463.0,354.55 L1464.0,356.75 L1465.0,357.85 L1466.0,356.75 L1467.0,354.55 L1468.0,351.85 L1469.0,354.55 L1470.0,356.75 L1471.0,357.85 L1472.0,357.85 L1473.0,356.75 L1474.0,354.55 L1475.0,351.85 L1476.0,354.55 L1477.0,356.75 L1478.0,357.55 L1479.0,357.25 L1480.0,357.45 L1481.0,357.35 L1482.0,357.85 L1485.0,357.85 L1486.0,357.05 L1487.0,347.15 L1488.0,331.85 L1489.0,318.25 L1489.5,309.85 L1490.0,318.25 L1491.0,317.25 L1491.6,306.85 L1492.0,313.85 L1493.0,315.75 L1493.5,307.85 L1494.0,316.15 L1495.0,332.45 L1496.0,346.25 L1497.0,356.75 L1498.0,357.85 L1499.0,357.45 L1500.0,357.85 L1507.0,357.85 L1508.0,356.75 L1509.0,355.15 L1509.7,353.85 L1510.0,354.45 L1511.0,356.15 L1512.0,357.55 L1513.0,357.85 L1515.0,357.85 L1516.0,357.15 L1517.0,355.65 L1518.0,353.85 L1519.0,355.65 L1520.0,357.15 L1521.0,357.85 L1522.0,357.85 L1523.0,357.55 L1524.0,357.85 L1528.0,357.85 L1529.0,357.55 L1530.0,357.85 L1537.0,357.85 L1538.0,357.55 L1539.0,356.15 L1540.0,354.45 L1540.3,353.85 L1541.0,355.15 L1542.0,356.75 L1543.0,357.85 L1546.0,357.85 L1547.0,357.55 L1548.0,357.85 L1549.0,357.35 L1550.0,356.85 L1551.0,357.35 L1552.0,357.85 L1555.0,357.85 L1556.0,357.55 L1557.0,357.85 L1559.0,357.85 L1560.0,357.35 L1561.0,357.25 L1562.0,357.85 L1563.0,357.85 L1564.0,356.35 L1565.0,354.65 L1565.4,353.85 L1566.0,354.95 L1567.0,356.65 L1568.0,357.85 L1569.0,357.15 L1570.0,357.25 L1571.0,357.85 L1573.0,357.85 L1574.0,357.55 L1575.0,357.85 L1577.0,357.85 L1578.0,357.55 L1579.0,357.85 L1587.0,357.85 L1588.0,356.85 L1589.0,356.55 L1590.0,357.45 L1591.0,357.85 L1592.0,357.85 L1593.0,356.95 L1594.0,355.65 L1594.6,354.85 L1595.0,355.45 L1596.0,356.75 L1597.0,357.85 L1598.0,357.85 L1599.0,357.45 L1600.0,356.95 L1601.0,357.45 L1602.0,357.85 L1606.0,357.85 L1607.0,357.55 L1608.0,357.85 L1609.0,357.55 L1610.0,356.15 L1611.0,354.45 L1611.3,353.85 L1612.0,355.15 L1613.0,356.75 L1614.0,357.85 L1624.0,357.85 L1625.0,355.95 L1626.0,353.55 L1626.6,351.85 L1627.0,352.95 L1628.0,355.45 L1629.0,357.45 L1630.0,357.85 L1631.0,357.55 L1632.0,357.15 L1633.0,357.55 L1634.0,357.85 L1635.0,357.85 L1636.0,357.45 L1637.0,357.85 L1639.0,357.85 L1640.0,356.65 L1641.0,355.65 L1642.0,350.35 L1643.0,343.95 L1643.3,341.85 L1644.0,346.55 L1645.0,352.35 L1646.0,353.75 L1647.0,344.95 L1648.0,333.35 L1648.8,323.05 L1649.0,325.75 L1650.0,338.25 L1651.0,349.05 L1652.0,355.45 L1653.0,351.45 L1654.0,345.45 L1654.4,342.85 L1655.0,346.75 L1656.0,352.45 L1657.0,356.95 L1658.0,357.85 L1659.0,357.05 L1660.0,353.75 L1661.0,349.65 L1661.4,347.85 L1662.0,350.55 L1663.0,354.45 L1664.0,355.45 L1665.0,351.45 L1666.0,343.35 L1667.0,333.85 L1668.0,343.35 L1669.0,351.45 L1670.0,353.65 L1671.0,350.85 L1672.0,354.25 L1673.0,345.75 L1674.0,332.45 L1675.0,317.35 L1675.3,312.45 L1676.0,323.55 L1677.0,338.05 L1678.0,350.35 L1679.0,354.05 L1680.0,350.35 L1681.0,344.85 L1682.0,350.35 L1683.0,353.95 L1684.0,355.65 L1685.0,353.35 L1686.0,353.75 L1686.4,352.85 L1687.0,352.55 L1688.0,351.65 L1689.0,348.45 L1690.0,336.25 L1691.0,322.25 L1691.4,316.15 L1692.0,325.15 L1693.0,338.95 L1694.0,350.55 L1695.0,357.55 L1696.0,356.65 L1697.0,354.95 L1697.6,353.85 L1698.0,354.65 L1699.0,356.35 L1700.0,357.55 L1701.0,357.85 L1710.0,357.85 L1711.0,357.55 L1712.0,357.15 L1713.0,357.55 L1714.0,357.85 L1715.0,357.25 L1716.0,356.95 L1717.0,357.25 L1718.0,357.15 L1719.0,357.55 L1720.0,357.85 L1721.0,357.55 L1722.0,357.85 L1732.0,357.85 L1733.0,356.95 L1734.0,355.15 L1735.0,352.85 L1736.0,355.15 L1737.0,356.95 L1738.0,357.25 L1739.0,357.25 L1740.0,357.05 L1741.0,357.25 L1742.0,357.05 L1743.0,357.35 L1744.0,356.55 L1745.0,353.95 L1746.0,350.85 L1747.0,353.95 L1748.0,356.55 L1749.0,353.95 L1750.0,350.85 L1751.0,353.95 L1752.0,356.55 L1753.0,357.85 L1754.0,357.45 L1755.0,357.85 L1768.0,357.85 L1769.0,357.35 L1770.0,357.15 L1771.0,357.55 L1772.0,357.85 L1774.0,357.85 L1775.0,357.25 L1776.0,357.05 L1777.0,357.35 L1778.0,357.85 L1779.0,357.85 L1780.0,357.35 L1781.0,357.35 L1782.0,357.15 L1783.0,357.55 L1784.0,357.85 L1788.0,357.85 L1789.0,357.15 L1790.0,355.95 L1790.8,354.85 L1791.0,355.15 L1792.0,356.45 L1793.0,357.55 L1794.0,357.45 L1795.0,357.85 L1806.0,357.85 L1807.0,357.45 L1808.0,357.85 L1814.0,357.85 L1815.0,357.55 L1816.0,356.45 L1817.0,355.15 L1817.2,354.85 L1818.0,355.95 L1819.0,357.15 L1820.0,357.45 L1821.0,357.85 L1828.0,357.85 L1829.0,357.55 L1830.0,357.45 L1831.0,357.85 L1835.0,357.85 L1836.0,357.45 L1837.0,357.85 L1838.0,357.15 L1839.0,354.75 L1840.0,351.85 L1840.3,350.85 L1841.0,353.05 L1842.0,355.85 L1843.0,357.45 L1844.0,357.55 L1845.0,357.55 L1846.0,356.95 L1847.0,355.35 L1847.8,353.85 L1848.0,354.25 L1849.0,355.95 L1850.0,357.45 L1851.0,357.85 L1852.0,357.45 L1853.0,357.85 L1855.0,357.85 L1856.0,357.55 L1857.0,357.05 L1858.0,357.55 L1859.0,357.85 L1864.0,357.85 L1865.0,357.45 L1866.0,357.85 L1877.0,357.85 L1878.0,357.45 L1879.0,357.85 L1888.0,357.85 L1889.0,357.15 L1890.0,355.65 L1891.0,353.85 L1892.0,355.65 L1893.0,357.15 L1894.0,355.65 L1895.0,353.85 L1896.0,355.65 L1897.0,357.15 L1898.0,357.85 L1910.0,357.85 L1911.0,357.55 L1912.0,357.55 L1913.0,357.45 L1914.0,357.85 L1919.0,357.85 L1920.0,357.45 L1921.0,357.85 L1934.0,357.85 L1935.0,357.55 L1936.0,357.35 L1937.0,357.85 L1940.0,357.85 L1941.0,357.55 L1942.0,357.15 L1943.0,357.55 L1944.0,357.85 L1957.0,357.85 L1958.0,357.55 L1959.0,357.85 L1961.0,357.85 L1962.0,356.55 L1963.0,355.25 L1963.3,354.85 L1964.0,355.85 L1965.0,357.05 L1966.0,357.55 L1967.0,355.75 L1968.0,352.75 L1968.8,349.85 L1969.0,350.55 L1970.0,354.05 L1971.0,356.85 L1972.0,357.85 L1973.0,356.35 L1974.0,354.65 L1974.4,353.85 L1975.0,354.95 L1976.0,356.65 L1977.0,357.85 L1989.0,357.85 L1990.0,357.55 L1991.0,355.35 L1992.0,352.45 L1992.5,350.85 L1993.0,352.45 L1994.0,355.35 L1995.0,347.45 L1996.0,332.15 L1997.0,314.25 L1998.0,294.45 L1999.0,314.25 L2000.0,332.15 L2001.0,347.45 L2002.0,357.35 L2003.0,357.85 L2004.0,357.85 L2005.0,356.75 L2006.0,355.45 L2006.4,354.85 L2007.0,355.65 L2008.0,356.75 L2009.0,357.45 L2010.0,357.85 L2013.0,357.85 L2014.0,357.55 L2015.0,357.85 L2017.0,357.85 L2018.0,357.35 L2019.0,356.45 L2020.0,357.35 L2021.0,357.85 L2026.0,357.85 L2027.0,357.35 L2028.0,356.55 L2029.0,356.95 L2030.0,356.75 L2031.0,357.45 L2032.0,357.15 L2033.0,356.05 L2034.0,357.15 L2035.0,357.85 L2045.0,357.85 L2046.0,357.25 L2047.0,357.05 L2048.0,355.75 L2049.0,353.25 L2049.5,351.85 L2050.0,353.25 L2051.0,355.55 L2052.0,355.25 L2053.0,354.45 L2053.7,352.85 L2054.0,353.55 L2055.0,355.75 L2056.0,357.35 L2057.0,356.65 L2058.0,357.35 L2059.0,357.85 L2060.0,356.95 L2061.0,355.15 L2062.0,352.85 L2063.0,355.15 L2064.0,356.95 L2064.0,357.85 Z" fill="#458B00"/>
<rect x="704.0" y="357.40" width="1431.0" height="1.3" fill="#000" fill-opacity="0.8"/>
<rect x="157.80" y="365.30" width="4.4" height="159.90" fill="#000"/>
<rect x="148.5" y="515.50" width="11.50" height="4.4" fill="#333333"/>
<rect x="148.5" y="478.28" width="11.50" height="4.4" fill="#333333"/>
<rect x="148.5" y="441.06" width="11.50" height="4.4" fill="#333333"/>
<rect x="148.5" y="403.84" width="11.50" height="4.4" fill="#333333"/>
<rect x="148.5" y="366.62" width="11.50" height="4.4" fill="#333333"/>
<text x="431.50" y="458.50" font-size="37.40" fill="#1A1A1A" text-anchor="middle" textLength="379.25" lengthAdjust="spacingAndGlyphs">cKO Dpp4+ Papillary</text>
<path d="M768.0,517.70 L768.0,516.70 L769.0,515.10 L770.0,515.90 L771.0,515.20 L772.0,514.90 L773.0,514.90 L774.0,516.40 L775.0,516.60 L776.0,516.80 L777.0,516.40 L778.0,515.60 L779.0,516.00 L780.0,515.50 L781.0,515.60 L782.0,515.30 L783.0,515.20 L784.0,516.70 L785.0,517.20 L786.0,517.20 L787.0,516.10 L788.0,514.30 L789.0,514.80 L790.0,515.90 L791.0,514.70 L792.0,514.70 L793.0,514.60 L794.0,515.30 L795.0,515.90 L796.0,515.70 L797.0,514.80 L798.0,515.90 L799.0,516.40 L800.0,516.70 L801.0,517.10 L802.0,517.70 L803.0,517.40 L804.0,516.80 L805.0,516.20 L806.0,515.00 L807.0,513.40 L808.0,512.40 L809.0,511.90 L810.0,513.40 L811.0,515.40 L812.0,515.70 L813.0,515.40 L814.0,515.60 L815.0,515.20 L816.0,515.80 L817.0,514.80 L818.0,513.30 L819.0,513.10 L820.0,512.30 L821.0,512.70 L822.0,513.50 L823.0,515.30 L824.0,515.80 L825.0,514.50 L826.0,514.80 L827.0,516.00 L828.0,515.80 L829.0,514.80 L830.0,516.00 L831.0,516.40 L832.0,515.70 L833.0,515.10 L834.0,516.40 L835.0,517.30 L836.0,517.10 L837.0,516.90 L838.0,516.50 L839.0,516.90 L840.0,516.70 L841.0,516.10 L842.0,516.20 L843.0,516.60 L844.0,516.80 L845.0,516.90 L846.0,516.30 L847.0,516.80 L848.0,516.90 L849.0,516.00 L850.0,516.70 L851.0,517.30 L852.0,517.70 L853.0,517.10 L854.0,516.80 L855.0,516.80 L856.0,516.10 L857.0,515.60 L858.0,516.40 L859.0,516.60 L860.0,516.30 L861.0,515.60 L862.0,516.10 L863.0,517.00 L864.0,517.10 L865.0,516.80 L866.0,516.90 L867.0,516.70 L868.0,516.70 L869.0,516.60 L870.0,516.30 L871.0,516.10 L872.0,516.30 L873.0,517.00 L874.0,516.70 L875.0,516.40 L876.0,516.70 L877.0,516.00 L878.0,516.40 L879.0,516.30 L880.0,515.80 L881.0,515.70 L882.0,515.90 L883.0,516.30 L884.0,516.90 L885.0,516.90 L886.0,516.40 L887.0,515.80 L888.0,516.00 L889.0,517.10 L890.0,516.60 L891.0,515.20 L892.0,515.70 L893.0,517.00 L894.0,517.70 L895.0,517.70 L896.0,517.00 L897.0,517.20 L898.0,517.70 L899.0,517.70 L900.0,517.20 L901.0,517.20 L902.0,516.90 L903.0,515.80 L904.0,516.10 L905.0,516.20 L906.0,516.40 L907.0,515.20 L908.0,514.70 L909.0,515.10 L910.0,516.30 L911.0,516.10 L912.0,515.20 L913.0,516.00 L914.0,515.80 L915.0,515.60 L916.0,516.20 L917.0,516.70 L918.0,516.40 L919.0,515.80 L920.0,515.40 L921.0,516.00 L922.0,515.10 L923.0,513.20 L924.0,513.60 L925.0,516.50 L926.0,516.90 L927.0,515.10 L928.0,515.70 L929.0,517.20 L930.0,517.20 L931.0,515.90 L932.0,515.50 L933.0,515.80 L934.0,515.30 L935.0,516.20 L936.0,516.70 L937.0,516.60 L938.0,516.60 L939.0,516.60 L940.0,516.00 L941.0,515.10 L942.0,516.10 L943.0,516.60 L944.0,517.40 L945.0,517.70 L946.0,517.40 L947.0,516.30 L948.0,515.30 L949.0,515.90 L950.0,516.90 L951.0,516.80 L952.0,515.80 L953.0,516.30 L954.0,515.60 L955.0,514.00 L956.0,514.20 L957.0,515.70 L958.0,516.20 L959.0,516.70 L960.0,516.70 L961.0,515.20 L962.0,514.90 L963.0,516.00 L964.0,516.50 L965.0,516.60 L966.0,515.90 L967.0,514.70 L968.0,514.70 L969.0,515.80 L970.0,516.70 L971.0,515.70 L972.0,514.70 L973.0,513.90 L974.0,514.30 L975.0,514.80 L976.0,514.70 L977.0,516.00 L978.0,515.90 L979.0,516.90 L980.0,517.20 L981.0,516.80 L982.0,514.40 L983.0,509.90 L983.8,505.70 L984.0,506.80 L985.0,511.80 L986.0,515.90 L987.0,516.30 L988.0,515.00 L989.0,509.60 L990.0,503.10 L990.2,501.70 L991.0,507.10 L992.0,513.00 L993.0,515.30 L994.0,515.80 L995.0,516.90 L996.0,511.90 L997.0,502.80 L998.0,492.40 L999.0,475.00 L999.9,457.70 L1000.0,459.70 L1001.0,478.60 L1002.0,489.90 L1003.0,491.70 L1003.3,488.20 L1004.0,490.20 L1005.0,470.70 L1006.0,449.10 L1006.3,442.30 L1007.0,458.00 L1008.0,478.80 L1008.8,482.70 L1009.0,485.40 L1010.0,498.00 L1011.0,508.90 L1012.0,510.80 L1013.0,505.70 L1014.0,510.80 L1015.0,515.20 L1016.0,510.30 L1017.0,512.70 L1018.0,509.70 L1019.0,513.10 L1020.0,515.70 L1021.0,511.70 L1022.0,510.60 L1023.0,512.60 L1024.0,508.70 L1025.0,512.60 L1026.0,514.40 L1027.0,510.00 L1028.0,509.70 L1029.0,513.20 L1030.0,512.90 L1031.0,508.60 L1031.7,504.70 L1032.0,506.40 L1033.0,510.00 L1034.0,508.70 L1035.0,512.60 L1036.0,511.20 L1037.0,505.90 L1037.2,504.70 L1038.0,509.20 L1039.0,514.10 L1040.0,517.20 L1041.0,512.70 L1042.0,505.80 L1043.0,497.70 L1044.0,499.10 L1045.0,487.70 L1046.0,499.10 L1047.0,509.00 L1048.0,516.60 L1049.0,516.80 L1050.0,516.50 L1051.0,516.90 L1052.0,517.40 L1053.0,517.20 L1054.0,515.90 L1055.0,515.30 L1056.0,516.40 L1057.0,516.70 L1058.0,516.30 L1059.0,516.40 L1060.0,517.30 L1061.0,517.70 L1062.0,517.20 L1063.0,517.40 L1064.0,517.70 L1066.0,517.70 L1067.0,517.30 L1068.0,516.60 L1069.0,517.00 L1070.0,517.20 L1071.0,517.30 L1072.0,517.10 L1073.0,515.90 L1074.0,515.70 L1075.0,516.90 L1076.0,517.20 L1077.0,517.20 L1078.0,517.00 L1079.0,516.40 L1080.0,516.40 L1081.0,516.90 L1082.0,517.10 L1083.0,516.70 L1084.0,516.10 L1085.0,516.30 L1086.0,516.90 L1087.0,517.40 L1088.0,517.30 L1089.0,517.10 L1090.0,517.00 L1091.0,517.20 L1092.0,517.40 L1093.0,516.60 L1094.0,515.70 L1095.0,516.60 L1096.0,516.60 L1097.0,516.80 L1098.0,516.40 L1099.0,516.20 L1100.0,517.00 L1101.0,517.30 L1102.0,517.10 L1103.0,516.80 L1104.0,516.90 L1105.0,516.50 L1106.0,517.10 L1107.0,517.40 L1108.0,517.10 L1109.0,516.10 L1110.0,516.10 L1111.0,515.90 L1112.0,515.80 L1113.0,516.10 L1114.0,517.10 L1115.0,517.20 L1116.0,516.50 L1117.0,516.80 L1118.0,516.70 L1119.0,516.00 L1120.0,515.90 L1121.0,516.00 L1122.0,517.00 L1123.0,517.40 L1124.0,517.30 L1125.0,517.00 L1126.0,516.60 L1127.0,515.20 L1128.0,515.90 L1129.0,516.40 L1130.0,515.90 L1131.0,516.30 L1132.0,515.70 L1133.0,515.50 L1134.0,516.80 L1135.0,516.90 L1136.0,516.90 L1137.0,517.10 L1138.0,517.20 L1139.0,517.70 L1140.0,516.70 L1141.0,516.10 L1142.0,515.10 L1143.0,515.00 L1144.0,515.70 L1145.0,513.40 L1146.0,513.40 L1147.0,515.80 L1148.0,514.90 L1149.0,515.40 L1150.0,512.20 L1150.7,509.70 L1151.0,510.80 L1152.0,514.20 L1153.0,515.50 L1154.0,514.60 L1155.0,515.40 L1156.0,513.80 L1157.0,512.20 L1157.7,509.70 L1158.0,510.80 L1159.0,514.20 L1160.0,514.50 L1161.0,515.00 L1162.0,513.10 L1163.0,510.80 L1164.0,505.70 L1165.0,510.80 L1166.0,514.60 L1167.0,515.70 L1168.0,516.30 L1169.0,516.00 L1170.0,515.90 L1171.0,515.10 L1172.0,514.50 L1173.0,514.30 L1174.0,514.00 L1175.0,514.60 L1176.0,515.60 L1177.0,514.80 L1178.0,513.60 L1179.0,513.20 L1180.0,514.20 L1181.0,515.30 L1182.0,514.80 L1183.0,515.80 L1184.0,515.90 L1185.0,516.00 L1186.0,516.20 L1187.0,517.00 L1188.0,516.90 L1189.0,516.80 L1190.0,516.00 L1191.0,514.50 L1192.0,515.70 L1193.0,513.80 L1194.0,510.70 L1195.0,513.80 L1196.0,513.60 L1197.0,513.60 L1198.0,515.80 L1199.0,513.20 L1200.0,509.70 L1201.0,513.20 L1202.0,516.20 L1203.0,515.90 L1204.0,512.60 L1205.0,508.70 L1206.0,512.60 L1207.0,515.60 L1208.0,516.40 L1209.0,516.40 L1210.0,513.80 L1211.0,510.70 L1212.0,513.80 L1213.0,515.80 L1214.0,515.90 L1215.0,516.30 L1216.0,516.90 L1217.0,516.60 L1218.0,516.50 L1219.0,514.40 L1220.0,511.70 L1221.0,514.40 L1222.0,514.80 L1223.0,515.00 L1224.0,514.80 L1225.0,514.70 L1226.0,514.50 L1227.0,513.70 L1228.0,515.30 L1229.0,514.80 L1230.0,513.10 L1231.0,514.80 L1232.0,516.70 L1233.0,515.70 L1234.0,513.80 L1235.0,515.10 L1236.0,516.80 L1237.0,516.30 L1238.0,516.00 L1239.0,517.20 L1240.0,517.70 L1241.0,517.70 L1242.0,517.10 L1243.0,517.00 L1244.0,517.70 L1245.0,517.70 L1246.0,517.20 L1247.0,516.50 L1248.0,517.00 L1249.0,516.80 L1250.0,515.00 L1251.0,512.70 L1252.0,515.00 L1253.0,516.10 L1254.0,516.50 L1255.0,517.20 L1256.0,515.90 L1257.0,512.60 L1258.0,508.70 L1259.0,512.60 L1260.0,512.60 L1261.0,508.70 L1262.0,512.60 L1263.0,515.90 L1264.0,512.60 L1265.0,508.70 L1266.0,512.60 L1267.0,515.90 L1268.0,517.10 L1269.0,517.30 L1270.0,517.40 L1271.0,516.70 L1272.0,516.40 L1273.0,516.60 L1274.0,516.30 L1275.0,517.10 L1276.0,517.20 L1277.0,517.10 L1278.0,516.90 L1279.0,516.60 L1280.0,516.70 L1281.0,515.80 L1282.0,513.80 L1283.0,510.70 L1284.0,513.80 L1285.0,514.10 L1286.0,512.50 L1287.0,514.60 L1288.0,512.60 L1289.0,508.70 L1290.0,512.60 L1291.0,510.80 L1292.0,505.70 L1293.0,510.80 L1294.0,515.10 L1295.0,512.50 L1296.0,509.70 L1297.0,513.20 L1298.0,514.20 L1299.0,513.80 L1300.0,510.70 L1301.0,513.80 L1302.0,516.40 L1303.0,517.10 L1304.0,516.10 L1305.0,514.30 L1306.0,514.10 L1307.0,516.20 L1308.0,517.30 L1309.0,517.10 L1310.0,517.70 L1311.0,516.50 L1312.0,513.20 L1313.0,512.60 L1314.0,514.40 L1315.0,514.60 L1316.0,514.50 L1317.0,513.80 L1318.0,516.10 L1319.0,512.70 L1320.0,505.80 L1321.0,497.70 L1322.0,505.80 L1323.0,496.60 L1323.3,493.70 L1324.0,500.40 L1325.0,507.10 L1326.0,499.70 L1327.0,507.10 L1328.0,509.30 L1329.0,512.70 L1330.0,514.20 L1331.0,513.40 L1332.0,514.20 L1333.0,515.50 L1334.0,515.90 L1335.0,514.40 L1336.0,514.70 L1337.0,513.60 L1338.0,514.80 L1339.0,516.10 L1340.0,515.30 L1341.0,516.10 L1342.0,515.80 L1343.0,516.50 L1344.0,516.90 L1345.0,515.50 L1346.0,514.60 L1347.0,513.70 L1348.0,515.50 L1349.0,515.70 L1350.0,516.60 L1351.0,515.50 L1352.0,513.70 L1353.0,515.20 L1354.0,516.70 L1355.0,517.00 L1356.0,516.80 L1357.0,515.50 L1358.0,513.70 L1359.0,515.50 L1360.0,516.10 L1361.0,514.50 L1362.0,514.10 L1363.0,516.10 L1364.0,517.00 L1365.0,517.70 L1366.0,517.70 L1367.0,517.10 L1368.0,516.00 L1369.0,511.50 L1370.0,496.70 L1371.0,478.70 L1372.0,458.50 L1372.5,447.70 L1373.0,458.50 L1374.0,478.70 L1375.0,482.70 L1376.0,495.60 L1377.0,505.70 L1378.0,512.60 L1379.0,506.30 L1380.0,497.50 L1380.3,494.70 L1381.0,501.20 L1382.0,503.90 L1383.0,509.60 L1384.0,514.90 L1385.0,515.90 L1386.0,517.10 L1387.0,517.20 L1388.0,516.60 L1389.0,514.40 L1390.0,513.50 L1391.0,514.50 L1392.0,515.70 L1393.0,511.20 L1394.0,505.90 L1394.2,504.70 L1395.0,509.20 L1396.0,514.10 L1397.0,517.70 L1398.0,517.40 L1399.0,516.60 L1400.0,515.90 L1401.0,515.80 L1402.0,513.40 L1402.6,511.70 L1403.0,512.80 L1404.0,515.30 L1405.0,515.40 L1406.0,514.80 L1407.0,515.00 L1408.0,512.70 L1409.0,515.00 L1410.0,513.60 L1411.0,513.50 L1412.0,513.90 L1413.0,514.60 L1414.0,515.90 L1415.0,515.00 L1416.0,512.70 L1417.0,513.60 L1418.0,513.30 L1419.0,515.90 L1420.0,516.20 L1421.0,514.50 L1422.0,515.40 L1423.0,515.10 L1424.0,515.00 L1425.0,512.70 L1426.0,514.50 L1427.0,511.80 L1428.0,511.80 L1429.0,515.50 L1430.0,515.30 L1431.0,513.30 L1432.0,513.90 L1433.0,514.70 L1434.0,515.50 L1435.0,515.40 L1436.0,516.50 L1437.0,516.40 L1438.0,515.90 L1439.0,516.30 L1440.0,516.30 L1441.0,509.70 L1442.0,508.30 L1443.0,501.00 L1444.0,489.40 L1444.3,485.70 L1445.0,494.20 L1446.0,505.20 L1447.0,504.60 L1448.0,512.40 L1449.0,509.50 L1450.0,498.50 L1451.0,485.80 L1451.3,481.70 L1452.0,491.00 L1453.0,503.10 L1454.0,505.90 L1455.0,496.10 L1455.5,490.70 L1456.0,496.10 L1457.0,505.90 L1458.0,514.00 L1459.0,517.00 L1460.0,516.00 L1461.0,516.70 L1462.0,515.80 L1463.0,514.00 L1464.0,513.30 L1465.0,511.50 L1466.0,505.00 L1466.6,500.70 L1467.0,503.60 L1468.0,510.30 L1469.0,513.40 L1470.0,514.10 L1471.0,512.60 L1472.0,508.70 L1473.0,512.60 L1474.0,513.80 L1475.0,513.60 L1476.0,515.30 L1477.0,516.10 L1478.0,516.50 L1479.0,515.00 L1480.0,513.90 L1481.0,514.70 L1482.0,513.70 L1483.0,515.50 L1484.0,515.60 L1485.0,515.10 L1486.0,515.50 L1487.0,515.60 L1488.0,514.50 L1489.0,505.40 L1490.0,494.10 L1490.8,484.00 L1491.0,486.60 L1492.0,498.80 L1493.0,509.40 L1494.0,515.90 L1495.0,517.10 L1496.0,516.60 L1497.0,515.40 L1498.0,515.80 L1499.0,514.90 L1500.0,513.50 L1501.0,513.00 L1502.0,513.10 L1503.0,516.10 L1504.0,516.20 L1505.0,513.80 L1506.0,512.40 L1507.0,511.90 L1508.0,513.20 L1509.0,515.70 L1510.0,515.50 L1511.0,513.90 L1512.0,515.80 L1513.0,517.30 L1514.0,516.90 L1515.0,516.50 L1516.0,515.70 L1517.0,514.90 L1518.0,515.00 L1519.0,515.30 L1520.0,513.90 L1520.8,511.70 L1521.0,512.30 L1522.0,514.90 L1523.0,516.30 L1524.0,515.90 L1525.0,516.50 L1526.0,516.80 L1527.0,516.80 L1528.0,517.40 L1529.0,517.70 L1530.0,517.70 L1531.0,516.80 L1532.0,516.30 L1533.0,516.10 L1534.0,514.70 L1535.0,514.70 L1536.0,516.40 L1537.0,517.70 L1538.0,516.90 L1539.0,515.50 L1540.0,516.20 L1541.0,516.30 L1542.0,516.10 L1543.0,516.60 L1544.0,516.50 L1545.0,515.80 L1546.0,516.10 L1547.0,516.70 L1548.0,517.00 L1549.0,516.00 L1550.0,515.80 L1551.0,515.70 L1552.0,514.60 L1553.0,514.80 L1554.0,515.40 L1555.0,516.50 L1556.0,516.50 L1557.0,516.80 L1558.0,517.10 L1559.0,516.90 L1560.0,517.10 L1561.0,516.70 L1562.0,515.60 L1563.0,515.60 L1564.0,515.90 L1565.0,516.00 L1566.0,516.80 L1567.0,516.90 L1568.0,516.60 L1569.0,516.20 L1570.0,517.20 L1571.0,517.70 L1572.0,516.70 L1573.0,515.70 L1574.0,514.90 L1575.0,515.00 L1576.0,516.40 L1577.0,514.10 L1577.9,511.70 L1578.0,512.00 L1579.0,514.50 L1580.0,514.70 L1581.0,515.70 L1582.0,515.00 L1583.0,515.50 L1584.0,516.10 L1585.0,516.10 L1586.0,516.30 L1587.0,516.20 L1588.0,516.50 L1589.0,516.20 L1590.0,514.60 L1591.0,514.30 L1592.0,514.50 L1593.0,514.50 L1594.0,515.20 L1595.0,516.00 L1596.0,516.90 L1597.0,516.10 L1598.0,515.30 L1599.0,516.70 L1600.0,515.90 L1601.0,513.40 L1602.0,512.80 L1603.0,513.70 L1604.0,514.10 L1605.0,514.00 L1606.0,515.30 L1607.0,516.20 L1608.0,516.00 L1609.0,515.40 L1610.0,515.60 L1611.0,515.30 L1612.0,513.90 L1613.0,513.30 L1614.0,510.70 L1615.0,513.80 L1616.0,516.40 L1617.0,517.00 L1618.0,515.60 L1619.0,514.60 L1620.0,513.10 L1621.0,514.20 L1622.0,514.50 L1623.0,515.50 L1624.0,513.60 L1625.0,513.00 L1626.0,514.50 L1627.0,513.10 L1628.0,513.40 L1629.0,515.40 L1630.0,516.30 L1631.0,514.30 L1632.0,513.60 L1633.0,514.50 L1634.0,512.90 L1635.0,512.40 L1636.0,510.80 L1636.3,509.70 L1637.0,512.20 L1638.0,512.90 L1639.0,510.90 L1640.0,513.00 L1641.0,510.30 L1642.0,499.90 L1643.0,487.90 L1643.3,484.00 L1644.0,492.90 L1645.0,504.30 L1646.0,513.20 L1647.0,512.20 L1648.0,505.70 L1648.8,499.70 L1649.0,501.20 L1650.0,508.40 L1651.0,513.10 L1652.0,513.20 L1653.0,510.30 L1654.0,503.60 L1654.4,500.70 L1655.0,505.00 L1656.0,510.80 L1657.0,513.60 L1658.0,513.30 L1659.0,513.40 L1660.0,514.30 L1661.0,509.00 L1662.0,502.70 L1663.0,509.00 L1664.0,511.70 L1665.0,507.30 L1665.6,503.70 L1666.0,506.20 L1667.0,508.40 L1668.0,514.00 L1669.0,512.90 L1670.0,511.80 L1671.0,512.60 L1672.0,506.80 L1673.0,495.60 L1674.0,482.70 L1675.0,494.10 L1676.0,480.70 L1677.0,494.10 L1678.0,484.70 L1679.0,497.00 L1680.0,507.70 L1681.0,502.70 L1682.0,509.00 L1683.0,509.60 L1684.0,510.50 L1685.0,513.60 L1686.0,509.50 L1686.4,507.70 L1687.0,510.20 L1688.0,511.60 L1689.0,509.30 L1690.0,513.30 L1691.0,507.70 L1692.0,500.70 L1693.0,507.70 L1694.0,511.10 L1695.0,510.50 L1696.0,514.30 L1697.0,510.40 L1697.6,507.70 L1698.0,508.70 L1699.0,511.70 L1700.0,510.80 L1701.0,513.60 L1701.7,511.70 L1702.0,512.50 L1703.0,515.10 L1704.0,516.00 L1705.0,515.30 L1706.0,515.40 L1707.0,515.60 L1708.0,515.80 L1709.0,516.50 L1710.0,517.00 L1711.0,517.30 L1712.0,517.30 L1713.0,516.70 L1714.0,516.90 L1715.0,516.40 L1716.0,516.00 L1717.0,516.90 L1718.0,516.50 L1719.0,515.80 L1720.0,516.70 L1721.0,517.10 L1722.0,515.90 L1723.0,515.50 L1724.0,516.90 L1725.0,517.00 L1726.0,515.80 L1727.0,515.40 L1728.0,513.70 L1729.0,515.50 L1730.0,516.00 L1731.0,516.70 L1732.0,517.00 L1733.0,517.10 L1734.0,517.30 L1735.0,516.90 L1736.0,516.00 L1737.0,516.70 L1738.0,516.00 L1739.0,515.20 L1740.0,516.30 L1741.0,516.80 L1742.0,516.70 L1743.0,517.10 L1744.0,516.10 L1745.0,514.70 L1746.0,516.10 L1747.0,516.10 L1748.0,516.70 L1749.0,517.10 L1750.0,516.50 L1751.0,515.70 L1752.0,516.50 L1753.0,517.10 L1754.0,517.40 L1755.0,517.30 L1756.0,516.70 L1757.0,515.30 L1758.0,516.40 L1759.0,516.90 L1760.0,515.70 L1761.0,515.90 L1762.0,516.60 L1763.0,517.30 L1764.0,517.20 L1765.0,516.80 L1766.0,517.00 L1767.0,517.20 L1768.0,517.40 L1769.0,517.20 L1770.0,516.80 L1771.0,516.30 L1772.0,515.80 L1773.0,515.70 L1774.0,515.50 L1775.0,515.50 L1776.0,516.40 L1777.0,516.70 L1778.0,515.90 L1779.0,515.50 L1780.0,513.70 L1781.0,515.50 L1782.0,516.80 L1783.0,517.30 L1784.0,517.30 L1785.0,516.60 L1786.0,515.10 L1787.0,514.40 L1788.0,515.00 L1789.0,515.90 L1790.0,513.20 L1790.8,510.70 L1791.0,511.40 L1792.0,514.40 L1793.0,512.70 L1794.0,513.50 L1795.0,516.00 L1796.0,516.60 L1797.0,516.30 L1798.0,516.50 L1799.0,515.50 L1800.0,512.90 L1801.0,511.90 L1802.0,512.00 L1803.0,514.20 L1804.0,515.80 L1805.0,516.20 L1806.0,514.90 L1807.0,516.20 L1808.0,517.70 L1809.0,516.70 L1810.0,514.70 L1811.0,514.10 L1812.0,513.20 L1813.0,515.70 L1814.0,515.00 L1815.0,512.50 L1816.0,514.90 L1817.0,516.40 L1818.0,516.60 L1819.0,516.50 L1820.0,515.20 L1821.0,515.60 L1822.0,515.00 L1823.0,514.00 L1824.0,514.30 L1825.0,515.80 L1826.0,515.50 L1827.0,513.70 L1828.0,513.80 L1829.0,514.80 L1830.0,516.00 L1831.0,515.10 L1832.0,513.10 L1833.0,515.20 L1834.0,516.10 L1835.0,513.80 L1836.0,513.30 L1837.0,513.00 L1838.0,514.50 L1839.0,515.60 L1840.0,516.80 L1841.0,516.70 L1842.0,516.40 L1843.0,516.10 L1844.0,513.70 L1845.0,513.20 L1846.0,515.40 L1847.0,516.50 L1848.0,516.50 L1849.0,515.20 L1850.0,513.30 L1851.0,513.00 L1852.0,511.50 L1853.0,512.50 L1854.0,516.30 L1855.0,517.20 L1856.0,514.70 L1857.0,512.10 L1858.0,514.10 L1859.0,516.10 L1860.0,514.70 L1861.0,513.90 L1862.0,513.20 L1863.0,515.70 L1864.0,517.00 L1865.0,516.30 L1866.0,515.50 L1867.0,514.10 L1868.0,514.10 L1869.0,513.20 L1870.0,513.70 L1871.0,515.50 L1872.0,516.90 L1873.0,516.30 L1874.0,515.50 L1875.0,515.00 L1876.0,514.30 L1877.0,514.30 L1878.0,515.90 L1879.0,515.90 L1880.0,513.60 L1881.0,515.50 L1882.0,517.20 L1883.0,516.80 L1884.0,514.90 L1885.0,513.10 L1886.0,515.50 L1887.0,516.30 L1888.0,515.50 L1889.0,512.70 L1890.0,512.50 L1891.0,513.40 L1892.0,512.50 L1892.3,511.70 L1893.0,513.60 L1894.0,513.30 L1895.0,514.70 L1896.0,514.90 L1897.0,515.60 L1898.0,513.80 L1899.0,513.70 L1900.0,515.90 L1901.0,517.40 L1902.0,516.70 L1903.0,514.50 L1904.0,515.00 L1905.0,516.30 L1906.0,514.30 L1907.0,512.40 L1908.0,514.50 L1909.0,517.00 L1910.0,516.90 L1911.0,515.20 L1911.8,514.70 L1912.0,515.00 L1913.0,516.30 L1914.0,514.00 L1915.0,511.40 L1916.0,512.00 L1917.0,514.90 L1918.0,514.80 L1919.0,513.00 L1920.0,513.00 L1921.0,515.10 L1922.0,515.90 L1923.0,517.10 L1924.0,516.10 L1925.0,512.50 L1926.0,512.70 L1927.0,514.50 L1928.0,513.70 L1929.0,515.50 L1930.0,516.50 L1931.0,516.50 L1932.0,515.40 L1933.0,514.50 L1934.0,513.10 L1935.0,513.70 L1936.0,512.70 L1937.0,514.50 L1938.0,512.90 L1939.0,512.10 L1940.0,513.50 L1941.0,515.70 L1942.0,516.40 L1943.0,514.40 L1944.0,511.70 L1945.0,511.90 L1946.0,513.80 L1947.0,516.50 L1948.0,516.90 L1949.0,516.60 L1950.0,514.40 L1951.0,511.70 L1952.0,514.40 L1953.0,513.60 L1954.0,513.60 L1955.0,513.40 L1956.0,515.40 L1957.0,516.10 L1958.0,514.30 L1959.0,515.50 L1960.0,513.70 L1961.0,514.40 L1962.0,513.00 L1963.0,513.10 L1964.0,512.90 L1965.0,512.80 L1966.0,515.30 L1967.0,515.30 L1968.0,512.20 L1969.0,507.00 L1969.4,504.70 L1970.0,508.10 L1971.0,513.20 L1972.0,512.60 L1973.0,512.30 L1974.0,514.10 L1975.0,513.80 L1976.0,513.70 L1977.0,515.80 L1978.0,516.30 L1979.0,513.40 L1980.0,513.70 L1981.0,513.60 L1982.0,515.10 L1983.0,513.10 L1984.0,514.10 L1985.0,514.60 L1985.5,513.70 L1986.0,514.60 L1987.0,516.20 L1988.0,516.50 L1989.0,516.10 L1990.0,513.80 L1991.0,510.70 L1992.0,513.80 L1993.0,515.70 L1994.0,512.90 L1995.0,507.20 L1996.0,497.30 L1996.7,489.70 L1997.0,493.00 L1998.0,502.50 L1999.0,492.70 L2000.0,502.50 L2001.0,511.00 L2002.0,515.50 L2003.0,515.20 L2004.0,514.40 L2005.0,515.00 L2006.0,514.60 L2007.0,516.00 L2008.0,517.00 L2009.0,517.70 L2010.0,516.40 L2011.0,514.10 L2012.0,514.60 L2013.0,514.50 L2014.0,514.60 L2015.0,513.80 L2016.0,515.90 L2017.0,516.10 L2018.0,513.80 L2019.0,512.80 L2020.0,514.80 L2021.0,515.60 L2022.0,516.00 L2023.0,515.00 L2024.0,515.80 L2025.0,515.20 L2026.0,512.60 L2027.0,513.00 L2028.0,514.90 L2029.0,513.80 L2030.0,510.70 L2031.0,512.80 L2032.0,513.80 L2033.0,513.90 L2034.0,515.90 L2035.0,516.20 L2036.0,514.50 L2037.0,516.00 L2038.0,516.00 L2039.0,514.70 L2040.0,513.90 L2041.0,514.60 L2042.0,516.30 L2043.0,516.40 L2044.0,517.20 L2045.0,517.30 L2046.0,515.70 L2047.0,514.10 L2048.0,515.30 L2049.0,516.90 L2050.0,516.50 L2051.0,515.90 L2052.0,516.70 L2053.0,516.10 L2054.0,516.00 L2055.0,516.50 L2056.0,515.60 L2057.0,515.60 L2058.0,515.60 L2059.0,517.00 L2060.0,517.20 L2061.0,516.40 L2062.0,516.80 L2063.0,516.50 L2064.0,515.70 L2065.0,514.30 L2066.0,514.40 L2067.0,514.20 L2068.0,513.80 L2069.0,515.30 L2070.0,517.20 L2070.0,517.70 Z" fill="#458B00"/>
<rect x="704.0" y="517.25" width="1431.0" height="1.3" fill="#000" fill-opacity="0.8"/>
<rect x="157.80" y="525.15" width="4.4" height="159.90" fill="#000"/>
<rect x="148.5" y="675.35" width="11.50" height="4.4" fill="#333333"/>
<rect x="148.5" y="638.13" width="11.50" height="4.4" fill="#333333"/>
<rect x="148.5" y="600.91" width="11.50" height="4.4" fill="#333333"/>
<rect x="148.5" y="563.69" width="11.50" height="4.4" fill="#333333"/>
<rect x="148.5" y="526.47" width="11.50" height="4.4" fill="#333333"/>
<text x="431.50" y="618.35" font-size="37.40" fill="#1A1A1A" text-anchor="middle" textLength="364.23" lengthAdjust="spacingAndGlyphs">WT Tagln+ Papillary</text>
<path d="M768.0,677.55 L768.0,670.15 L769.0,664.75 L770.0,670.15 L771.0,674.85 L771.8,674.55 L772.0,674.85 L773.0,676.15 L774.0,677.25 L775.0,677.55 L776.0,677.55 L777.0,677.05 L778.0,674.95 L779.0,672.35 L779.3,671.55 L780.0,673.45 L781.0,675.85 L782.0,677.55 L787.0,677.55 L788.0,677.15 L789.0,677.55 L790.0,676.05 L791.0,673.75 L791.8,671.55 L792.0,672.15 L793.0,674.75 L794.0,676.85 L795.0,677.55 L801.0,677.55 L802.0,676.95 L803.0,677.05 L804.0,675.95 L805.0,674.55 L806.0,675.95 L807.0,677.05 L808.0,677.05 L809.0,675.95 L810.0,674.55 L811.0,675.95 L812.0,677.05 L813.0,677.55 L821.0,677.55 L822.0,676.25 L823.0,674.95 L823.3,674.55 L824.0,675.55 L825.0,676.75 L826.0,677.55 L829.0,677.55 L830.0,677.05 L831.0,677.55 L836.0,677.55 L837.0,677.25 L838.0,677.55 L848.0,677.55 L849.0,677.25 L850.0,677.55 L851.0,677.25 L852.0,677.55 L879.0,677.55 L880.0,677.25 L881.0,676.85 L882.0,677.25 L883.0,677.55 L888.0,677.55 L889.0,677.25 L890.0,677.55 L892.0,677.55 L893.0,676.95 L894.0,677.55 L895.0,677.25 L896.0,676.85 L897.0,677.25 L898.0,677.55 L906.0,677.55 L907.0,676.75 L908.0,675.55 L908.7,674.55 L909.0,674.95 L910.0,676.25 L911.0,677.05 L912.0,676.75 L913.0,677.25 L914.0,677.55 L915.0,677.55 L916.0,677.25 L917.0,676.75 L918.0,677.25 L919.0,677.55 L926.0,677.55 L927.0,677.15 L928.0,677.55 L929.0,677.55 L930.0,677.25 L931.0,677.55 L938.0,677.55 L939.0,676.75 L940.0,675.55 L940.7,674.55 L941.0,674.95 L942.0,676.25 L943.0,677.55 L947.0,677.55 L948.0,675.55 L949.0,671.85 L950.0,667.55 L951.0,671.75 L952.0,665.65 L952.6,661.55 L953.0,664.35 L954.0,670.65 L955.0,669.55 L956.0,673.05 L957.0,676.05 L958.0,677.05 L959.0,675.95 L960.0,674.55 L961.0,675.95 L962.0,677.05 L963.0,677.55 L964.0,677.05 L965.0,675.95 L966.0,674.55 L967.0,675.95 L968.0,677.05 L969.0,677.55 L970.0,677.55 L971.0,676.75 L972.0,675.55 L972.7,674.55 L973.0,674.95 L974.0,675.45 L975.0,672.95 L975.5,671.55 L976.0,672.95 L977.0,675.45 L978.0,675.65 L979.0,673.25 L979.6,671.55 L980.0,672.65 L981.0,669.55 L982.0,661.45 L982.7,655.05 L983.0,657.85 L984.0,666.45 L985.0,673.75 L986.0,677.05 L987.0,675.95 L988.0,674.55 L989.0,675.95 L990.0,677.05 L991.0,676.75 L992.0,677.25 L993.0,677.05 L994.0,675.95 L995.0,674.55 L996.0,675.95 L997.0,675.55 L998.0,666.65 L999.0,655.45 L1000.0,642.55 L1001.0,655.45 L1002.0,655.75 L1003.0,652.35 L1004.0,635.75 L1004.7,623.05 L1005.0,626.35 L1006.0,602.05 L1006.9,578.55 L1007.0,581.25 L1008.0,607.05 L1009.0,630.95 L1009.5,641.85 L1010.0,652.15 L1011.0,664.05 L1012.0,670.05 L1013.0,664.55 L1014.0,670.05 L1015.0,674.75 L1016.0,677.55 L1020.0,677.55 L1021.0,674.85 L1022.0,671.05 L1022.8,667.55 L1023.0,668.45 L1024.0,672.65 L1025.0,676.15 L1026.0,677.55 L1027.0,676.95 L1028.0,676.75 L1029.0,677.25 L1030.0,674.55 L1031.0,667.25 L1032.0,658.45 L1032.5,653.55 L1033.0,658.45 L1034.0,667.25 L1035.0,674.55 L1036.0,669.25 L1037.0,661.75 L1037.5,657.55 L1038.0,661.75 L1039.0,669.25 L1040.0,675.45 L1041.0,677.55 L1042.0,677.55 L1043.0,673.05 L1044.0,659.65 L1045.0,643.25 L1046.0,624.75 L1046.4,616.85 L1047.0,628.55 L1048.0,646.75 L1049.0,662.65 L1050.0,675.05 L1051.0,675.15 L1052.0,671.75 L1052.8,668.55 L1053.0,669.35 L1054.0,673.25 L1055.0,676.35 L1056.0,676.35 L1057.0,677.05 L1058.0,675.95 L1059.0,674.55 L1060.0,675.95 L1061.0,675.55 L1061.7,674.55 L1062.0,674.95 L1063.0,676.25 L1064.0,677.55 L1065.0,677.55 L1066.0,676.85 L1067.0,675.65 L1067.8,674.55 L1068.0,674.85 L1069.0,676.15 L1070.0,677.25 L1071.0,677.55 L1081.0,677.55 L1082.0,677.05 L1083.0,676.35 L1084.0,675.35 L1085.0,673.55 L1086.0,675.35 L1087.0,676.85 L1088.0,677.55 L1089.0,677.15 L1090.0,676.55 L1091.0,675.35 L1092.0,673.55 L1093.0,675.35 L1094.0,676.85 L1095.0,677.55 L1099.0,677.55 L1100.0,677.25 L1101.0,676.85 L1102.0,677.15 L1103.0,677.15 L1104.0,677.55 L1106.0,677.55 L1107.0,677.15 L1108.0,676.55 L1109.0,677.15 L1110.0,677.55 L1112.0,677.55 L1113.0,677.15 L1114.0,676.45 L1115.0,677.15 L1116.0,677.55 L1117.0,677.55 L1118.0,677.25 L1119.0,677.55 L1120.0,676.45 L1121.0,674.25 L1122.0,671.55 L1123.0,674.25 L1124.0,676.45 L1125.0,677.55 L1127.0,677.55 L1128.0,676.85 L1129.0,673.85 L1130.0,670.15 L1130.4,668.55 L1131.0,670.95 L1132.0,674.55 L1133.0,677.25 L1134.0,676.45 L1135.0,675.15 L1135.4,674.55 L1136.0,675.35 L1137.0,676.65 L1138.0,677.55 L1140.0,677.55 L1141.0,676.45 L1142.0,675.15 L1142.4,674.55 L1143.0,675.35 L1144.0,676.65 L1145.0,677.55 L1146.0,677.15 L1147.0,677.15 L1148.0,677.55 L1149.0,676.75 L1150.0,675.55 L1150.7,674.55 L1151.0,674.95 L1152.0,676.25 L1153.0,671.15 L1154.0,663.05 L1155.0,653.55 L1156.0,663.05 L1157.0,658.25 L1157.7,650.85 L1158.0,654.05 L1159.0,664.05 L1160.0,672.45 L1161.0,677.15 L1162.0,677.55 L1167.0,677.55 L1168.0,677.25 L1169.0,676.15 L1170.0,674.85 L1170.2,674.55 L1171.0,675.65 L1172.0,676.85 L1173.0,677.55 L1183.0,677.55 L1184.0,674.95 L1185.0,671.75 L1185.6,669.55 L1186.0,671.05 L1187.0,674.35 L1188.0,676.95 L1189.0,677.55 L1193.0,677.55 L1194.0,677.25 L1195.0,676.15 L1196.0,674.15 L1196.7,672.55 L1197.0,673.25 L1198.0,675.45 L1199.0,677.15 L1200.0,677.55 L1201.0,677.55 L1202.0,674.55 L1203.0,667.25 L1204.0,658.45 L1204.5,653.55 L1205.0,658.45 L1206.0,667.25 L1207.0,661.95 L1207.8,654.55 L1208.0,656.45 L1209.0,665.35 L1210.0,672.95 L1211.0,677.55 L1217.0,677.55 L1218.0,677.05 L1219.0,674.95 L1220.0,672.35 L1220.3,671.55 L1221.0,673.45 L1222.0,675.85 L1223.0,677.55 L1224.0,675.55 L1225.0,671.85 L1226.0,667.55 L1227.0,671.85 L1228.0,675.55 L1229.0,677.55 L1231.0,677.55 L1232.0,676.45 L1233.0,673.05 L1234.0,668.95 L1234.3,667.55 L1235.0,670.65 L1236.0,670.05 L1237.0,664.55 L1238.0,670.05 L1239.0,674.75 L1240.0,677.55 L1244.0,677.55 L1245.0,677.15 L1246.0,677.55 L1249.0,677.55 L1250.0,677.15 L1251.0,675.45 L1252.0,673.25 L1252.3,672.55 L1253.0,674.15 L1254.0,676.15 L1255.0,677.55 L1257.0,677.55 L1258.0,674.65 L1259.0,670.25 L1259.9,665.55 L1260.0,666.05 L1261.0,671.15 L1262.0,675.35 L1263.0,673.55 L1264.0,669.75 L1264.3,668.55 L1265.0,671.35 L1266.0,674.85 L1267.0,677.55 L1268.0,677.25 L1269.0,677.25 L1270.0,676.35 L1271.0,670.35 L1272.0,662.85 L1272.7,656.95 L1273.0,659.55 L1274.0,667.55 L1275.0,674.25 L1276.0,677.05 L1277.0,675.95 L1278.0,674.55 L1279.0,675.95 L1280.0,676.65 L1281.0,675.35 L1281.6,674.55 L1282.0,675.15 L1283.0,676.45 L1284.0,677.55 L1285.0,677.55 L1286.0,677.25 L1287.0,677.55 L1292.0,677.55 L1293.0,677.05 L1294.0,675.95 L1295.0,674.55 L1296.0,675.95 L1297.0,677.05 L1298.0,677.55 L1302.0,677.55 L1303.0,677.05 L1304.0,675.95 L1305.0,674.55 L1306.0,675.95 L1307.0,677.05 L1308.0,677.55 L1309.0,677.55 L1310.0,677.05 L1311.0,675.95 L1312.0,674.55 L1313.0,675.95 L1314.0,677.05 L1315.0,677.55 L1318.0,677.55 L1319.0,674.15 L1320.0,664.25 L1321.0,651.95 L1321.9,639.55 L1322.0,640.95 L1323.0,654.55 L1324.0,640.35 L1324.7,628.55 L1325.0,633.65 L1326.0,649.75 L1327.0,652.55 L1328.0,662.35 L1329.0,670.85 L1330.0,677.05 L1331.0,677.55 L1332.0,676.45 L1333.0,672.55 L1334.0,667.65 L1334.4,665.55 L1335.0,668.75 L1336.0,673.45 L1337.0,674.55 L1338.0,670.95 L1338.6,668.55 L1339.0,670.15 L1340.0,673.85 L1341.0,676.85 L1342.0,677.55 L1352.0,677.55 L1353.0,676.45 L1354.0,673.05 L1355.0,668.95 L1355.3,667.55 L1356.0,670.65 L1357.0,674.55 L1358.0,677.55 L1361.0,677.55 L1362.0,676.65 L1363.0,675.35 L1363.6,674.55 L1364.0,675.15 L1365.0,676.45 L1366.0,677.55 L1368.0,677.55 L1369.0,665.45 L1370.0,644.55 L1371.0,619.75 L1371.5,606.25 L1372.0,592.25 L1373.0,562.45 L1373.9,533.95 L1374.0,537.15 L1375.0,568.55 L1376.0,597.95 L1376.3,606.25 L1377.0,624.95 L1378.0,649.05 L1379.0,668.95 L1380.0,660.35 L1381.0,648.95 L1381.2,646.55 L1382.0,655.95 L1383.0,666.55 L1384.0,674.95 L1385.0,677.55 L1389.0,677.55 L1390.0,677.15 L1391.0,668.55 L1392.0,656.65 L1393.0,642.85 L1393.4,636.95 L1394.0,645.75 L1395.0,659.25 L1396.0,670.65 L1397.0,677.55 L1399.0,677.55 L1400.0,677.25 L1401.0,674.55 L1402.0,670.95 L1402.6,668.55 L1403.0,670.15 L1404.0,673.85 L1405.0,676.85 L1406.0,677.55 L1407.0,676.75 L1408.0,672.95 L1409.0,668.15 L1409.5,665.55 L1410.0,668.15 L1411.0,672.95 L1412.0,676.75 L1413.0,677.55 L1414.0,675.05 L1415.0,670.65 L1416.0,665.55 L1417.0,670.65 L1418.0,675.05 L1419.0,677.55 L1428.0,677.55 L1429.0,677.15 L1430.0,677.55 L1432.0,677.55 L1433.0,677.25 L1434.0,675.25 L1435.0,671.25 L1436.0,666.55 L1437.0,671.25 L1438.0,675.25 L1439.0,677.55 L1440.0,673.95 L1441.0,667.05 L1442.0,659.05 L1443.0,658.65 L1444.0,659.15 L1445.0,641.85 L1446.0,622.25 L1446.6,609.55 L1447.0,618.05 L1448.0,638.05 L1448.8,647.55 L1449.0,649.95 L1450.0,633.95 L1451.0,613.15 L1451.3,606.55 L1452.0,621.65 L1453.0,641.65 L1454.0,642.55 L1455.0,655.45 L1456.0,661.15 L1457.0,665.95 L1458.0,673.95 L1459.0,675.75 L1460.0,672.45 L1461.0,668.55 L1462.0,672.45 L1463.0,675.75 L1464.0,677.55 L1465.0,673.15 L1466.0,664.75 L1467.0,654.85 L1467.4,650.55 L1468.0,656.95 L1469.0,666.65 L1470.0,669.75 L1470.8,665.55 L1471.0,666.65 L1472.0,671.65 L1473.0,675.75 L1474.0,673.95 L1475.0,669.05 L1475.8,664.55 L1476.0,665.75 L1477.0,671.05 L1478.0,675.55 L1479.0,675.45 L1480.0,672.95 L1480.5,671.55 L1481.0,672.95 L1482.0,675.45 L1483.0,677.55 L1484.0,677.05 L1485.0,677.55 L1486.0,677.55 L1487.0,673.05 L1488.0,664.05 L1489.0,653.35 L1489.5,647.55 L1490.0,645.25 L1491.0,626.55 L1491.6,614.55 L1492.0,622.65 L1493.0,641.65 L1494.0,647.55 L1495.0,658.95 L1496.0,668.85 L1497.0,676.45 L1498.0,677.55 L1500.0,677.55 L1501.0,675.75 L1502.0,673.05 L1502.8,670.55 L1503.0,671.25 L1504.0,674.25 L1505.0,676.65 L1506.0,677.15 L1507.0,675.45 L1508.0,673.25 L1508.3,672.55 L1509.0,674.15 L1510.0,676.15 L1511.0,677.55 L1516.0,677.55 L1517.0,675.05 L1518.0,670.65 L1519.0,665.55 L1520.0,670.65 L1521.0,675.05 L1522.0,677.55 L1548.0,677.55 L1549.0,677.25 L1550.0,677.55 L1564.0,677.55 L1565.0,676.65 L1566.0,675.05 L1566.8,673.55 L1567.0,673.95 L1568.0,675.65 L1569.0,677.15 L1570.0,677.25 L1571.0,675.85 L1572.0,674.15 L1572.3,673.55 L1573.0,674.85 L1574.0,676.45 L1575.0,677.55 L1583.0,677.55 L1584.0,675.55 L1585.0,671.05 L1586.0,665.75 L1586.2,664.55 L1587.0,669.05 L1588.0,673.95 L1589.0,677.55 L1592.0,677.55 L1593.0,675.65 L1594.0,673.25 L1594.6,671.55 L1595.0,672.65 L1596.0,675.15 L1597.0,677.15 L1598.0,677.55 L1600.0,677.55 L1601.0,676.65 L1602.0,674.85 L1603.0,672.55 L1604.0,674.85 L1605.0,676.65 L1606.0,677.55 L1628.0,677.55 L1629.0,676.15 L1630.0,674.15 L1630.7,672.55 L1631.0,673.25 L1632.0,675.45 L1633.0,677.15 L1634.0,677.55 L1638.0,677.55 L1639.0,672.55 L1640.0,665.65 L1641.0,657.55 L1642.0,665.65 L1643.0,672.55 L1644.0,675.65 L1645.0,673.15 L1646.0,671.95 L1647.0,668.35 L1648.0,658.95 L1648.8,650.55 L1649.0,652.75 L1650.0,662.95 L1651.0,671.65 L1652.0,670.05 L1653.0,661.95 L1653.8,654.55 L1654.0,656.45 L1655.0,665.35 L1656.0,672.95 L1657.0,671.65 L1658.0,673.25 L1658.6,671.55 L1659.0,672.65 L1660.0,669.55 L1661.0,673.05 L1662.0,666.95 L1663.0,659.55 L1664.0,661.85 L1665.0,649.55 L1665.6,641.55 L1666.0,646.95 L1667.0,659.55 L1668.0,659.55 L1669.0,666.95 L1670.0,673.25 L1671.0,668.95 L1672.0,662.35 L1673.0,652.55 L1674.0,662.35 L1675.0,650.35 L1676.0,635.15 L1676.1,633.55 L1677.0,647.35 L1678.0,661.15 L1679.0,652.55 L1680.0,662.35 L1681.0,670.85 L1682.0,668.75 L1683.0,668.35 L1684.0,673.15 L1685.0,675.65 L1686.0,673.45 L1686.4,672.55 L1687.0,673.95 L1688.0,675.95 L1689.0,669.95 L1690.0,662.55 L1690.6,657.55 L1691.0,660.95 L1692.0,668.55 L1693.0,674.95 L1694.0,677.55 L1695.0,677.25 L1696.0,677.55 L1697.0,677.55 L1698.0,674.75 L1699.0,670.05 L1700.0,664.55 L1701.0,670.05 L1702.0,670.05 L1703.0,664.55 L1704.0,670.05 L1705.0,674.75 L1706.0,677.15 L1707.0,673.45 L1708.0,668.45 L1708.7,664.55 L1709.0,666.25 L1710.0,671.55 L1711.0,667.55 L1712.0,671.85 L1713.0,675.55 L1714.0,677.55 L1716.0,677.55 L1717.0,676.45 L1718.0,673.05 L1719.0,668.95 L1719.3,667.55 L1720.0,670.65 L1721.0,674.55 L1722.0,677.05 L1723.0,676.15 L1724.0,676.45 L1725.0,675.15 L1725.4,674.55 L1726.0,675.35 L1727.0,676.65 L1728.0,677.55 L1735.0,677.55 L1736.0,676.45 L1737.0,674.25 L1738.0,671.55 L1739.0,674.25 L1740.0,676.45 L1741.0,677.05 L1742.0,677.55 L1745.0,677.55 L1746.0,677.15 L1747.0,677.05 L1748.0,675.95 L1749.0,674.55 L1750.0,675.95 L1751.0,675.65 L1751.8,674.55 L1752.0,674.85 L1753.0,676.15 L1754.0,677.25 L1755.0,677.55 L1756.0,677.25 L1757.0,676.65 L1758.0,677.25 L1759.0,677.55 L1769.0,677.55 L1770.0,676.25 L1771.0,674.95 L1771.3,674.55 L1772.0,675.55 L1773.0,672.45 L1774.0,668.55 L1775.0,672.45 L1776.0,672.45 L1777.0,668.55 L1778.0,672.45 L1779.0,674.25 L1780.0,670.55 L1780.5,668.55 L1781.0,670.55 L1782.0,674.25 L1783.0,677.05 L1784.0,677.55 L1785.0,677.55 L1786.0,677.25 L1787.0,676.85 L1788.0,674.85 L1789.0,669.45 L1790.0,662.95 L1790.2,661.55 L1791.0,666.95 L1792.0,672.85 L1793.0,677.25 L1794.0,677.55 L1795.0,676.25 L1796.0,674.95 L1796.3,674.55 L1797.0,675.55 L1798.0,676.75 L1799.0,677.55 L1802.0,677.55 L1803.0,676.95 L1804.0,677.55 L1824.0,677.55 L1825.0,677.05 L1826.0,676.35 L1827.0,677.05 L1828.0,677.55 L1829.0,677.05 L1830.0,676.95 L1831.0,676.55 L1832.0,677.15 L1833.0,677.55 L1834.0,677.25 L1835.0,676.85 L1836.0,677.25 L1837.0,677.55 L1858.0,677.55 L1859.0,677.05 L1860.0,677.55 L1861.0,677.55 L1862.0,677.05 L1863.0,676.35 L1864.0,677.05 L1865.0,677.55 L1866.0,676.95 L1867.0,677.55 L1868.0,677.55 L1869.0,677.15 L1870.0,676.55 L1871.0,677.15 L1872.0,677.55 L1873.0,677.25 L1874.0,676.75 L1875.0,677.25 L1876.0,677.55 L1894.0,677.55 L1895.0,675.45 L1896.0,672.95 L1896.5,671.55 L1897.0,672.95 L1898.0,675.45 L1899.0,677.55 L1900.0,677.05 L1901.0,677.55 L1905.0,677.55 L1906.0,676.65 L1907.0,675.35 L1907.6,674.55 L1908.0,675.15 L1909.0,676.45 L1910.0,677.55 L1912.0,677.55 L1913.0,676.65 L1914.0,675.35 L1914.6,674.55 L1915.0,675.15 L1916.0,676.45 L1917.0,677.55 L1929.0,677.55 L1930.0,677.05 L1931.0,675.95 L1932.0,674.55 L1933.0,675.95 L1934.0,677.05 L1935.0,677.55 L1962.0,677.55 L1963.0,676.75 L1964.0,675.55 L1964.7,674.55 L1965.0,674.95 L1966.0,676.25 L1967.0,677.55 L1969.0,677.55 L1970.0,676.65 L1971.0,675.35 L1971.6,674.55 L1972.0,675.15 L1973.0,676.45 L1974.0,676.85 L1975.0,675.65 L1975.8,674.55 L1976.0,674.85 L1977.0,676.15 L1978.0,677.25 L1979.0,677.55 L1984.0,677.55 L1985.0,677.05 L1986.0,675.95 L1987.0,674.55 L1988.0,675.95 L1989.0,677.05 L1990.0,675.95 L1991.0,674.55 L1992.0,675.95 L1993.0,676.35 L1994.0,671.65 L1995.0,665.75 L1995.5,662.55 L1996.0,665.75 L1997.0,659.25 L1998.0,648.05 L1999.0,659.25 L2000.0,669.05 L2001.0,676.55 L2002.0,677.15 L2003.0,677.55 L2007.0,677.55 L2008.0,677.05 L2009.0,677.55 L2018.0,677.55 L2019.0,676.25 L2020.0,673.95 L2020.9,671.55 L2021.0,671.85 L2022.0,674.45 L2023.0,676.55 L2024.0,675.25 L2024.5,674.55 L2025.0,675.25 L2026.0,676.55 L2027.0,677.55 L2028.0,677.05 L2029.0,675.95 L2030.0,674.55 L2031.0,675.95 L2032.0,677.05 L2033.0,677.55 L2034.0,677.55 L2035.0,677.05 L2036.0,675.95 L2037.0,674.55 L2038.0,675.95 L2039.0,677.05 L2040.0,677.55 L2041.0,677.55 L2042.0,677.05 L2043.0,675.95 L2044.0,674.55 L2045.0,675.95 L2046.0,677.05 L2047.0,677.55 L2048.0,677.55 L2049.0,677.25 L2050.0,676.85 L2051.0,677.25 L2052.0,677.55 L2053.0,677.05 L2054.0,675.95 L2055.0,674.55 L2056.0,675.95 L2057.0,677.05 L2058.0,676.25 L2059.0,674.95 L2059.3,674.55 L2060.0,675.55 L2061.0,676.75 L2061.0,677.55 Z" fill="#006400"/>
<rect x="704.0" y="677.10" width="1431.0" height="1.3" fill="#000" fill-opacity="0.8"/>
<rect x="157.80" y="685.00" width="4.4" height="159.90" fill="#000"/>
<rect x="148.5" y="835.20" width="11.50" height="4.4" fill="#333333"/>
<rect x="148.5" y="797.98" width="11.50" height="4.4" fill="#333333"/>
<rect x="148.5" y="760.76" width="11.50" height="4.4" fill="#333333"/>
<rect x="148.5" y="723.54" width="11.50" height="4.4" fill="#333333"/>
<rect x="148.5" y="686.32" width="11.50" height="4.4" fill="#333333"/>
<text x="431.50" y="778.20" font-size="37.40" fill="#1A1A1A" text-anchor="middle" textLength="376.64" lengthAdjust="spacingAndGlyphs">cKO Tagln+ Papillary</text>
<path d="M768.0,837.40 L768.0,834.10 L769.0,831.40 L770.0,834.10 L771.0,834.10 L772.0,831.40 L773.0,834.10 L774.0,836.20 L775.0,835.30 L776.0,832.80 L776.5,831.40 L777.0,829.20 L778.0,820.90 L778.7,814.40 L779.0,817.20 L780.0,826.00 L781.0,833.40 L782.0,836.30 L783.0,836.20 L784.0,837.00 L785.0,837.40 L786.0,836.50 L787.0,835.50 L788.0,835.50 L789.0,836.30 L790.0,836.90 L791.0,836.10 L792.0,834.80 L793.0,834.20 L794.0,834.20 L795.0,834.10 L796.0,834.50 L797.0,836.50 L798.0,837.40 L799.0,836.80 L800.0,836.60 L801.0,836.40 L802.0,835.80 L803.0,834.40 L804.0,835.80 L805.0,835.50 L806.0,836.60 L807.0,836.60 L808.0,835.50 L809.0,836.30 L810.0,835.40 L811.0,833.70 L812.0,834.30 L813.0,833.30 L814.0,833.10 L815.0,835.40 L816.0,835.00 L817.0,833.60 L818.0,832.40 L819.0,833.80 L820.0,833.40 L821.0,835.20 L822.0,836.00 L823.0,833.60 L824.0,835.10 L825.0,836.60 L826.0,835.90 L827.0,835.60 L828.0,836.00 L829.0,837.00 L830.0,836.90 L831.0,835.80 L832.0,834.40 L833.0,835.70 L834.0,836.90 L835.0,835.50 L836.0,833.80 L837.0,835.70 L838.0,835.30 L839.0,833.60 L840.0,835.30 L841.0,836.60 L842.0,835.80 L843.0,834.90 L844.0,833.90 L845.0,833.40 L846.0,832.90 L847.0,833.50 L848.0,833.40 L849.0,833.30 L850.0,833.40 L851.0,833.90 L852.0,835.20 L853.0,835.80 L854.0,834.80 L855.0,834.50 L856.0,836.10 L857.0,835.80 L858.0,834.40 L859.0,835.60 L860.0,836.90 L861.0,836.10 L862.0,833.40 L863.0,834.20 L864.0,836.40 L865.0,836.60 L866.0,835.60 L867.0,835.00 L868.0,836.60 L869.0,835.80 L870.0,834.40 L871.0,835.20 L872.0,834.30 L873.0,834.80 L874.0,835.20 L875.0,836.40 L876.0,836.80 L877.0,836.90 L878.0,836.20 L879.0,834.60 L880.0,833.40 L881.0,835.00 L882.0,836.00 L883.0,836.20 L884.0,834.30 L885.0,833.20 L886.0,832.50 L886.4,831.40 L887.0,833.10 L888.0,833.10 L889.0,833.40 L890.0,836.30 L891.0,836.70 L892.0,835.40 L893.0,835.40 L894.0,834.90 L894.8,833.40 L895.0,833.80 L896.0,835.00 L897.0,835.30 L898.0,835.40 L899.0,834.50 L900.0,833.50 L901.0,832.20 L902.0,832.90 L903.0,827.60 L903.7,823.40 L904.0,825.20 L905.0,830.90 L906.0,833.00 L907.0,836.10 L908.0,837.40 L909.0,836.70 L910.0,835.30 L911.0,832.80 L911.5,831.40 L912.0,832.80 L913.0,835.30 L914.0,836.00 L915.0,834.10 L916.0,834.10 L917.0,831.40 L918.0,834.10 L919.0,835.90 L920.0,836.10 L921.0,836.10 L922.0,834.50 L922.6,833.40 L923.0,834.20 L924.0,835.40 L925.0,834.20 L926.0,835.40 L927.0,835.00 L928.0,835.90 L929.0,834.10 L930.0,831.40 L931.0,834.10 L932.0,834.00 L933.0,835.10 L934.0,834.50 L935.0,831.10 L936.0,826.40 L937.0,831.10 L938.0,829.40 L939.0,832.90 L940.0,834.90 L941.0,833.50 L942.0,830.40 L943.0,833.50 L944.0,834.30 L945.0,834.10 L946.0,831.40 L947.0,834.10 L948.0,833.80 L949.0,834.20 L950.0,835.60 L951.0,832.90 L951.8,830.40 L952.0,831.10 L953.0,834.10 L954.0,833.70 L955.0,834.00 L956.0,834.20 L957.0,833.90 L958.0,834.10 L959.0,836.30 L960.0,836.90 L961.0,836.10 L962.0,836.90 L963.0,836.10 L964.0,834.80 L964.3,834.40 L965.0,835.30 L966.0,834.40 L967.0,836.30 L968.0,836.90 L969.0,834.10 L970.0,830.40 L970.5,828.40 L971.0,830.40 L972.0,833.80 L973.0,836.00 L974.0,836.80 L975.0,835.20 L976.0,834.90 L977.0,830.50 L978.0,825.40 L979.0,830.50 L980.0,834.90 L981.0,830.50 L982.0,825.40 L983.0,830.50 L984.0,834.90 L985.0,833.30 L986.0,828.60 L986.6,825.40 L987.0,827.50 L988.0,832.40 L989.0,832.70 L990.0,826.80 L990.8,821.40 L991.0,822.80 L992.0,829.30 L993.0,832.60 L994.0,831.70 L995.0,827.40 L996.0,831.70 L997.0,823.40 L998.0,816.10 L999.0,813.80 L1000.0,800.40 L1001.0,813.80 L1002.0,812.50 L1003.0,802.40 L1004.0,815.30 L1005.0,800.80 L1006.0,782.90 L1007.0,800.80 L1008.0,813.30 L1008.8,809.40 L1009.0,811.60 L1010.0,815.70 L1011.0,824.70 L1012.0,828.70 L1013.0,822.40 L1014.0,828.70 L1015.0,833.90 L1016.0,832.50 L1017.0,830.70 L1018.0,823.90 L1018.6,819.40 L1019.0,822.50 L1020.0,829.50 L1021.0,833.10 L1022.0,827.50 L1022.8,822.40 L1023.0,823.70 L1024.0,829.80 L1025.0,831.90 L1026.0,835.50 L1027.0,832.50 L1028.0,832.30 L1029.0,832.10 L1030.0,824.80 L1031.0,816.40 L1032.0,824.80 L1033.0,831.30 L1034.0,828.30 L1035.0,820.80 L1035.3,818.40 L1036.0,823.90 L1037.0,830.90 L1038.0,832.90 L1039.0,833.50 L1040.0,833.60 L1041.0,833.10 L1042.0,826.80 L1043.0,819.40 L1044.0,821.50 L1045.0,811.40 L1046.0,821.50 L1047.0,830.30 L1048.0,836.80 L1049.0,837.40 L1050.0,837.40 L1051.0,836.50 L1052.0,835.20 L1053.0,834.60 L1054.0,835.30 L1055.0,836.10 L1056.0,836.60 L1057.0,837.40 L1058.0,836.70 L1059.0,835.70 L1060.0,836.40 L1061.0,836.70 L1062.0,837.10 L1063.0,837.40 L1064.0,836.80 L1065.0,837.40 L1066.0,837.00 L1067.0,835.50 L1068.0,834.70 L1069.0,836.50 L1070.0,835.00 L1071.0,832.50 L1071.4,831.40 L1072.0,833.10 L1073.0,834.70 L1074.0,836.40 L1075.0,836.80 L1076.0,837.40 L1077.0,837.40 L1078.0,836.80 L1079.0,837.00 L1080.0,837.00 L1081.0,836.80 L1082.0,836.20 L1083.0,836.00 L1084.0,835.70 L1085.0,836.30 L1086.0,836.20 L1087.0,836.80 L1088.0,836.60 L1089.0,835.50 L1090.0,835.00 L1091.0,836.40 L1092.0,837.00 L1093.0,836.60 L1094.0,836.70 L1095.0,836.70 L1096.0,836.30 L1097.0,836.20 L1098.0,836.80 L1099.0,836.00 L1100.0,832.50 L1101.0,828.30 L1101.2,827.40 L1102.0,830.90 L1103.0,834.70 L1104.0,835.40 L1105.0,836.20 L1106.0,837.10 L1107.0,837.40 L1110.0,837.40 L1111.0,837.10 L1112.0,836.70 L1113.0,836.20 L1114.0,836.10 L1115.0,833.50 L1116.0,830.40 L1117.0,833.50 L1118.0,836.10 L1119.0,835.20 L1120.0,833.40 L1121.0,835.20 L1122.0,836.70 L1123.0,837.40 L1124.0,837.00 L1125.0,837.00 L1126.0,836.80 L1127.0,836.90 L1128.0,837.10 L1129.0,836.50 L1130.0,835.20 L1131.0,833.40 L1132.0,835.20 L1133.0,836.70 L1134.0,837.40 L1135.0,837.40 L1136.0,836.90 L1137.0,836.50 L1138.0,836.60 L1139.0,836.60 L1140.0,835.80 L1141.0,834.40 L1142.0,835.80 L1143.0,836.90 L1144.0,837.40 L1145.0,837.40 L1146.0,836.90 L1147.0,835.70 L1148.0,834.40 L1149.0,835.80 L1150.0,836.10 L1151.0,833.50 L1152.0,830.40 L1153.0,832.20 L1154.0,831.00 L1155.0,826.60 L1156.0,818.10 L1156.3,815.40 L1157.0,821.70 L1158.0,828.70 L1159.0,822.40 L1160.0,828.70 L1161.0,824.00 L1161.9,816.40 L1162.0,817.30 L1163.0,825.60 L1164.0,832.70 L1165.0,835.70 L1166.0,835.20 L1167.0,833.40 L1168.0,835.20 L1169.0,836.70 L1170.0,837.00 L1171.0,837.40 L1172.0,836.80 L1173.0,835.80 L1174.0,835.90 L1175.0,834.40 L1176.0,833.90 L1177.0,834.80 L1178.0,833.40 L1179.0,835.20 L1180.0,836.40 L1181.0,836.10 L1182.0,835.40 L1183.0,835.10 L1184.0,833.50 L1185.0,833.30 L1185.6,833.70 L1186.0,833.70 L1187.0,836.00 L1188.0,836.90 L1189.0,837.40 L1190.0,835.90 L1191.0,833.50 L1192.0,835.10 L1193.0,835.40 L1194.0,836.60 L1195.0,837.40 L1196.0,835.40 L1197.0,833.50 L1198.0,834.40 L1199.0,835.80 L1200.0,835.30 L1201.0,835.40 L1202.0,835.10 L1203.0,835.70 L1204.0,836.20 L1205.0,835.40 L1206.0,831.20 L1207.0,824.00 L1207.8,817.40 L1208.0,819.10 L1209.0,827.00 L1210.0,833.60 L1211.0,836.20 L1212.0,835.80 L1213.0,835.60 L1214.0,835.80 L1215.0,836.50 L1216.0,835.90 L1217.0,834.00 L1218.0,834.70 L1219.0,831.90 L1220.0,827.00 L1220.3,825.40 L1221.0,829.10 L1222.0,833.70 L1223.0,837.00 L1224.0,836.50 L1225.0,834.70 L1226.0,832.40 L1227.0,834.70 L1228.0,836.50 L1229.0,835.20 L1230.0,836.40 L1231.0,836.90 L1232.0,836.70 L1233.0,835.70 L1234.0,834.00 L1235.0,830.10 L1235.6,827.40 L1236.0,829.20 L1237.0,833.30 L1238.0,835.20 L1239.0,833.00 L1240.0,833.40 L1241.0,836.00 L1242.0,836.10 L1243.0,835.00 L1244.0,834.90 L1245.0,836.60 L1246.0,837.10 L1247.0,835.90 L1248.0,834.90 L1249.0,835.90 L1250.0,837.10 L1251.0,837.40 L1252.0,836.00 L1253.0,834.00 L1253.7,832.40 L1254.0,833.10 L1255.0,835.30 L1256.0,836.20 L1257.0,834.70 L1258.0,835.80 L1259.0,836.30 L1260.0,834.90 L1261.0,835.00 L1262.0,833.70 L1263.0,829.60 L1263.5,827.40 L1264.0,829.60 L1265.0,833.70 L1266.0,836.10 L1267.0,835.40 L1268.0,835.40 L1269.0,835.40 L1270.0,835.60 L1271.0,834.20 L1271.8,832.40 L1272.0,832.90 L1273.0,835.10 L1274.0,836.80 L1275.0,836.80 L1276.0,834.60 L1277.0,831.70 L1277.4,830.40 L1278.0,832.30 L1279.0,835.10 L1280.0,836.90 L1281.0,836.00 L1282.0,835.50 L1283.0,836.00 L1284.0,835.80 L1285.0,834.00 L1285.7,832.40 L1286.0,833.10 L1287.0,835.30 L1288.0,836.50 L1289.0,835.20 L1290.0,835.10 L1291.0,834.10 L1292.0,831.40 L1293.0,834.10 L1294.0,836.30 L1295.0,836.70 L1296.0,836.80 L1297.0,836.50 L1298.0,835.80 L1299.0,833.80 L1299.6,832.40 L1300.0,833.30 L1301.0,835.50 L1302.0,836.10 L1303.0,833.30 L1304.0,829.20 L1304.4,827.40 L1305.0,830.10 L1306.0,834.00 L1307.0,837.00 L1308.0,836.50 L1309.0,836.60 L1310.0,836.40 L1311.0,835.50 L1312.0,835.40 L1313.0,836.80 L1314.0,837.00 L1315.0,836.20 L1316.0,834.40 L1317.0,830.50 L1317.7,827.40 L1318.0,828.80 L1319.0,832.90 L1320.0,827.50 L1321.0,814.50 L1322.0,799.50 L1322.5,791.40 L1323.0,799.50 L1324.0,814.50 L1325.0,827.50 L1326.0,823.40 L1327.0,829.30 L1328.0,834.30 L1329.0,836.80 L1330.0,835.80 L1331.0,833.80 L1331.6,832.40 L1332.0,833.30 L1333.0,835.50 L1334.0,836.20 L1335.0,834.20 L1335.8,832.40 L1336.0,832.90 L1337.0,835.10 L1338.0,836.80 L1339.0,836.90 L1340.0,835.80 L1341.0,834.40 L1342.0,835.80 L1343.0,836.90 L1344.0,836.70 L1345.0,836.60 L1346.0,837.10 L1347.0,837.40 L1348.0,836.90 L1349.0,835.80 L1350.0,834.40 L1351.0,835.80 L1352.0,836.60 L1353.0,835.80 L1354.0,831.40 L1355.0,826.10 L1355.3,824.40 L1356.0,828.30 L1357.0,833.30 L1358.0,835.80 L1359.0,836.20 L1360.0,836.20 L1361.0,836.80 L1362.0,836.90 L1363.0,834.60 L1364.0,829.90 L1365.0,824.40 L1366.0,829.90 L1367.0,834.40 L1368.0,824.20 L1369.0,811.60 L1370.0,797.40 L1371.0,788.20 L1372.0,765.50 L1372.5,753.40 L1373.0,765.50 L1374.0,788.20 L1375.0,771.40 L1375.6,757.40 L1376.0,766.80 L1377.0,789.00 L1378.0,797.40 L1379.0,811.60 L1380.0,824.20 L1381.0,818.60 L1381.7,811.40 L1382.0,814.60 L1383.0,823.50 L1384.0,824.10 L1385.0,823.40 L1386.0,825.50 L1387.0,825.20 L1387.3,824.30 L1388.0,822.90 L1389.0,824.00 L1390.0,823.90 L1391.0,824.10 L1392.0,823.40 L1392.9,815.40 L1393.0,816.30 L1394.0,822.90 L1395.0,824.50 L1395.6,824.30 L1396.0,823.90 L1397.0,829.90 L1398.0,835.00 L1399.0,835.20 L1400.0,835.20 L1401.0,835.30 L1402.0,834.50 L1402.6,833.40 L1403.0,834.20 L1404.0,835.90 L1405.0,836.70 L1406.0,836.50 L1407.0,836.80 L1408.0,836.50 L1409.0,835.10 L1410.0,835.20 L1411.0,833.40 L1412.0,835.20 L1413.0,834.00 L1414.0,830.10 L1414.6,827.40 L1415.0,829.20 L1416.0,833.30 L1417.0,835.80 L1418.0,835.90 L1419.0,836.10 L1420.0,834.30 L1421.0,834.20 L1422.0,835.20 L1423.0,835.10 L1424.0,836.60 L1425.0,835.80 L1426.0,834.40 L1427.0,835.80 L1428.0,834.10 L1429.0,835.60 L1430.0,834.40 L1431.0,834.20 L1432.0,835.90 L1433.0,832.90 L1434.0,827.80 L1434.6,824.40 L1435.0,826.70 L1436.0,831.90 L1437.0,835.00 L1438.0,831.60 L1438.8,828.40 L1439.0,829.20 L1440.0,833.10 L1441.0,824.00 L1442.0,813.80 L1443.0,812.30 L1444.0,797.20 L1444.3,792.40 L1445.0,803.50 L1446.0,802.70 L1447.0,785.40 L1448.0,802.70 L1449.0,812.20 L1450.0,795.60 L1450.7,782.90 L1451.0,788.40 L1452.0,805.80 L1453.0,812.80 L1454.0,802.60 L1454.9,787.40 L1455.0,789.10 L1456.0,805.80 L1457.0,820.60 L1458.0,832.60 L1459.0,834.50 L1459.6,833.40 L1460.0,834.20 L1461.0,834.30 L1462.0,835.70 L1463.0,837.40 L1464.0,837.00 L1465.0,835.90 L1466.0,831.00 L1467.0,822.90 L1468.0,813.40 L1469.0,822.90 L1470.0,818.10 L1470.8,809.40 L1471.0,811.60 L1472.0,822.10 L1473.0,829.60 L1473.5,827.40 L1474.0,829.60 L1475.0,831.60 L1476.0,835.20 L1477.0,835.40 L1478.0,836.00 L1479.0,834.50 L1480.0,833.70 L1481.0,834.00 L1482.0,832.90 L1483.0,828.80 L1483.3,827.40 L1484.0,830.50 L1485.0,834.40 L1486.0,833.40 L1487.0,833.50 L1488.0,830.40 L1489.0,820.90 L1490.0,809.80 L1490.2,807.40 L1491.0,816.60 L1492.0,814.70 L1493.0,799.40 L1493.6,789.40 L1494.0,796.10 L1495.0,811.80 L1496.0,825.40 L1497.0,833.50 L1498.0,834.70 L1499.0,835.80 L1500.0,834.40 L1501.0,835.80 L1502.0,836.00 L1503.0,835.10 L1504.0,835.30 L1505.0,834.20 L1506.0,836.10 L1507.0,836.90 L1508.0,836.20 L1509.0,836.70 L1510.0,835.80 L1511.0,834.40 L1512.0,835.80 L1513.0,835.30 L1514.0,835.80 L1515.0,836.10 L1516.0,834.80 L1517.0,835.50 L1518.0,836.40 L1519.0,835.00 L1520.0,834.10 L1521.0,835.30 L1522.0,836.70 L1523.0,836.40 L1524.0,835.20 L1525.0,833.10 L1526.0,833.30 L1527.0,835.20 L1528.0,834.80 L1529.0,836.40 L1530.0,835.20 L1530.6,834.10 L1531.0,834.10 L1532.0,834.70 L1533.0,833.80 L1534.0,835.70 L1535.0,836.50 L1536.0,836.50 L1537.0,837.10 L1538.0,836.90 L1539.0,835.50 L1540.0,833.80 L1541.0,835.80 L1542.0,836.90 L1543.0,835.20 L1544.0,833.40 L1545.0,832.80 L1546.0,833.60 L1547.0,833.60 L1548.0,834.60 L1549.0,834.60 L1550.0,834.40 L1551.0,835.80 L1552.0,834.90 L1553.0,834.40 L1554.0,834.40 L1555.0,834.70 L1556.0,834.70 L1557.0,834.70 L1558.0,835.10 L1559.0,836.10 L1560.0,835.20 L1561.0,833.40 L1562.0,835.10 L1563.0,835.70 L1564.0,835.70 L1565.0,836.10 L1566.0,836.20 L1567.0,836.10 L1568.0,835.50 L1569.0,836.10 L1570.0,836.30 L1571.0,835.20 L1572.0,833.40 L1573.0,834.20 L1574.0,834.00 L1575.0,834.50 L1576.0,835.10 L1577.0,835.00 L1578.0,835.70 L1579.0,835.00 L1580.0,835.70 L1581.0,835.80 L1582.0,833.80 L1582.6,832.40 L1583.0,833.30 L1584.0,835.50 L1585.0,837.10 L1586.0,837.00 L1587.0,837.10 L1588.0,837.00 L1589.0,836.40 L1590.0,834.70 L1591.0,834.60 L1592.0,835.20 L1593.0,834.70 L1594.0,833.80 L1594.6,832.40 L1595.0,833.30 L1596.0,834.20 L1597.0,834.40 L1598.0,836.30 L1599.0,834.70 L1600.0,832.40 L1601.0,834.70 L1602.0,834.20 L1603.0,833.70 L1604.0,833.30 L1605.0,834.00 L1605.7,832.40 L1606.0,833.10 L1607.0,835.10 L1608.0,835.60 L1609.0,836.60 L1610.0,835.90 L1611.0,835.80 L1612.0,834.00 L1613.0,828.70 L1614.0,822.40 L1615.0,828.70 L1616.0,834.00 L1617.0,836.90 L1618.0,835.80 L1619.0,835.70 L1620.0,835.90 L1621.0,836.00 L1622.0,835.60 L1623.0,832.90 L1623.8,830.40 L1624.0,831.10 L1625.0,834.10 L1626.0,836.50 L1627.0,837.40 L1628.0,835.40 L1629.0,831.70 L1630.0,827.40 L1631.0,831.70 L1632.0,835.40 L1633.0,836.80 L1634.0,836.40 L1635.0,833.90 L1636.0,830.50 L1636.3,829.40 L1637.0,831.90 L1638.0,834.90 L1639.0,835.90 L1640.0,835.60 L1641.0,829.50 L1642.0,818.80 L1643.0,806.40 L1643.3,802.40 L1644.0,811.50 L1645.0,823.30 L1646.0,833.10 L1647.0,826.40 L1648.0,815.80 L1648.8,806.40 L1649.0,808.80 L1650.0,820.20 L1651.0,830.10 L1652.0,834.50 L1653.0,836.10 L1654.0,834.30 L1655.0,827.40 L1656.0,819.00 L1656.4,815.40 L1657.0,820.80 L1658.0,828.90 L1659.0,834.10 L1660.0,831.40 L1661.0,833.80 L1662.0,832.70 L1663.0,832.80 L1664.0,827.70 L1665.0,818.80 L1665.6,812.90 L1666.0,816.90 L1667.0,826.00 L1668.0,829.40 L1669.0,832.30 L1670.0,832.90 L1671.0,829.10 L1672.0,821.60 L1672.5,817.40 L1673.0,821.60 L1674.0,826.90 L1675.0,816.20 L1675.9,805.40 L1676.0,806.70 L1677.0,818.50 L1678.0,828.80 L1679.0,829.90 L1680.0,824.40 L1681.0,829.90 L1682.0,834.60 L1683.0,833.30 L1684.0,830.70 L1685.0,833.50 L1686.0,833.30 L1687.0,833.80 L1688.0,835.10 L1689.0,831.30 L1690.0,831.60 L1691.0,828.10 L1692.0,821.40 L1693.0,828.10 L1694.0,833.60 L1695.0,830.40 L1696.0,833.40 L1697.0,834.50 L1698.0,831.10 L1699.0,826.40 L1700.0,831.10 L1701.0,833.60 L1701.7,833.40 L1702.0,834.00 L1703.0,835.70 L1704.0,835.90 L1705.0,834.40 L1706.0,834.40 L1707.0,834.30 L1708.0,835.20 L1709.0,834.70 L1710.0,834.10 L1711.0,834.50 L1712.0,835.40 L1713.0,834.90 L1714.0,834.20 L1715.0,834.90 L1716.0,836.20 L1717.0,836.60 L1718.0,837.40 L1719.0,837.10 L1720.0,836.70 L1721.0,837.10 L1722.0,837.40 L1723.0,836.30 L1724.0,835.60 L1725.0,836.40 L1726.0,836.20 L1727.0,835.90 L1728.0,835.10 L1729.0,834.00 L1730.0,834.90 L1731.0,836.20 L1732.0,835.80 L1733.0,836.60 L1734.0,836.80 L1735.0,836.00 L1736.0,834.90 L1736.5,834.90 L1737.0,835.60 L1738.0,836.00 L1739.0,836.50 L1740.0,836.10 L1740.7,835.40 L1741.0,835.70 L1742.0,836.00 L1743.0,834.30 L1743.5,833.40 L1744.0,834.30 L1745.0,835.20 L1746.0,836.70 L1747.0,837.40 L1748.0,837.40 L1749.0,835.90 L1750.0,834.20 L1750.4,833.40 L1751.0,834.50 L1752.0,835.30 L1753.0,836.70 L1754.0,837.00 L1755.0,837.40 L1756.0,836.80 L1757.0,835.70 L1758.0,836.20 L1759.0,837.40 L1760.0,837.40 L1761.0,836.30 L1762.0,834.10 L1763.0,831.40 L1764.0,834.10 L1765.0,835.40 L1766.0,835.70 L1767.0,836.10 L1768.0,835.70 L1769.0,833.90 L1770.0,835.50 L1771.0,836.20 L1772.0,835.70 L1773.0,833.90 L1774.0,834.40 L1775.0,835.20 L1776.0,834.90 L1777.0,834.40 L1778.0,835.80 L1779.0,836.90 L1780.0,837.10 L1781.0,835.50 L1782.0,833.20 L1783.0,833.90 L1784.0,836.50 L1785.0,836.20 L1786.0,834.50 L1786.6,833.40 L1787.0,834.20 L1788.0,835.90 L1789.0,834.10 L1790.0,833.60 L1790.8,833.40 L1791.0,833.50 L1792.0,835.50 L1793.0,834.90 L1794.0,833.70 L1795.0,834.90 L1796.0,834.00 L1797.0,835.10 L1798.0,836.20 L1799.0,836.00 L1800.0,835.70 L1801.0,834.90 L1802.0,835.60 L1803.0,836.20 L1804.0,835.20 L1805.0,832.80 L1806.0,833.10 L1807.0,835.40 L1808.0,835.80 L1809.0,834.30 L1810.0,836.00 L1811.0,836.80 L1812.0,837.40 L1813.0,836.20 L1814.0,834.10 L1815.0,835.40 L1816.0,835.50 L1817.0,834.00 L1818.0,834.90 L1819.0,835.10 L1820.0,833.60 L1820.8,831.40 L1821.0,832.00 L1822.0,834.60 L1823.0,835.70 L1824.0,835.30 L1825.0,835.10 L1826.0,836.30 L1827.0,835.60 L1828.0,834.70 L1829.0,834.80 L1830.0,832.20 L1830.3,831.40 L1831.0,833.30 L1832.0,834.00 L1833.0,836.00 L1834.0,835.80 L1835.0,835.60 L1836.0,835.50 L1837.0,833.80 L1837.2,833.40 L1838.0,834.90 L1839.0,836.50 L1840.0,836.90 L1841.0,835.90 L1842.0,834.80 L1843.0,835.60 L1844.0,835.30 L1845.0,835.90 L1846.0,835.50 L1847.0,836.10 L1848.0,835.70 L1849.0,833.80 L1850.0,836.00 L1851.0,836.30 L1852.0,834.30 L1853.0,835.20 L1854.0,836.00 L1855.0,836.50 L1856.0,835.90 L1857.0,836.20 L1858.0,836.20 L1859.0,834.20 L1860.0,833.90 L1861.0,836.40 L1862.0,837.40 L1863.0,836.60 L1864.0,835.20 L1865.0,834.70 L1866.0,832.70 L1867.0,832.10 L1868.0,833.30 L1868.7,831.40 L1869.0,832.20 L1870.0,832.30 L1871.0,834.10 L1872.0,835.50 L1873.0,834.10 L1874.0,831.40 L1875.0,834.10 L1876.0,834.90 L1877.0,835.90 L1878.0,835.70 L1879.0,833.50 L1880.0,835.20 L1881.0,837.10 L1882.0,837.10 L1883.0,836.30 L1884.0,835.60 L1885.0,834.20 L1885.4,833.40 L1886.0,834.50 L1887.0,836.10 L1888.0,835.40 L1889.0,835.60 L1890.0,834.70 L1891.0,832.40 L1892.0,834.70 L1893.0,836.50 L1894.0,834.70 L1895.0,832.40 L1896.0,834.70 L1897.0,834.80 L1898.0,834.70 L1899.0,832.40 L1900.0,834.70 L1901.0,836.50 L1902.0,836.90 L1903.0,837.00 L1904.0,836.80 L1905.0,836.20 L1906.0,834.80 L1907.0,834.80 L1908.0,836.00 L1909.0,835.80 L1910.0,835.70 L1911.0,835.10 L1911.8,835.40 L1912.0,835.60 L1913.0,835.40 L1914.0,834.70 L1915.0,836.50 L1916.0,837.10 L1917.0,835.80 L1918.0,834.90 L1918.8,835.40 L1919.0,835.60 L1920.0,835.40 L1921.0,834.80 L1922.0,835.30 L1923.0,834.70 L1924.0,833.60 L1925.0,834.80 L1926.0,836.00 L1926.6,835.40 L1927.0,835.80 L1928.0,834.60 L1929.0,833.10 L1930.0,833.10 L1931.0,835.20 L1932.0,837.00 L1933.0,837.40 L1934.0,836.50 L1935.0,835.40 L1936.0,835.30 L1937.0,833.50 L1938.0,830.40 L1939.0,833.50 L1940.0,834.60 L1941.0,833.50 L1942.0,830.40 L1943.0,833.10 L1944.0,833.50 L1945.0,830.40 L1946.0,833.50 L1947.0,835.70 L1948.0,834.80 L1949.0,833.50 L1950.0,835.30 L1951.0,836.40 L1952.0,835.80 L1953.0,835.70 L1954.0,833.40 L1955.0,833.40 L1956.0,833.40 L1957.0,833.70 L1958.0,833.80 L1959.0,835.50 L1960.0,834.40 L1961.0,835.60 L1962.0,836.30 L1963.0,835.50 L1964.0,833.60 L1965.0,833.80 L1966.0,833.40 L1967.0,835.10 L1968.0,832.90 L1968.8,830.40 L1969.0,831.10 L1970.0,834.10 L1971.0,836.00 L1972.0,833.80 L1973.0,836.00 L1974.0,836.30 L1975.0,833.90 L1976.0,833.50 L1977.0,833.10 L1978.0,834.10 L1979.0,834.20 L1980.0,833.40 L1981.0,834.70 L1982.0,834.90 L1983.0,835.20 L1984.0,833.40 L1985.0,835.20 L1986.0,834.30 L1987.0,834.50 L1988.0,835.80 L1989.0,836.90 L1990.0,835.80 L1991.0,834.40 L1992.0,835.80 L1993.0,834.20 L1994.0,827.70 L1995.0,819.90 L1995.3,817.40 L1996.0,823.20 L1997.0,822.90 L1998.0,813.40 L1999.0,822.90 L2000.0,831.00 L2001.0,837.00 L2002.0,836.40 L2003.0,834.80 L2003.6,834.40 L2004.0,835.00 L2005.0,836.30 L2006.0,837.40 L2007.0,837.40 L2008.0,836.30 L2009.0,834.20 L2010.0,834.80 L2010.6,834.40 L2011.0,835.00 L2012.0,836.30 L2013.0,836.00 L2014.0,834.70 L2015.0,834.70 L2016.0,832.80 L2017.0,833.00 L2018.0,835.70 L2019.0,836.10 L2020.0,836.50 L2021.0,835.10 L2021.7,832.70 L2022.0,832.70 L2023.0,833.60 L2024.0,832.80 L2024.5,831.40 L2025.0,832.80 L2026.0,833.50 L2027.0,833.60 L2028.0,831.40 L2029.0,834.10 L2030.0,834.30 L2031.0,833.20 L2032.0,831.40 L2033.0,832.50 L2034.0,834.00 L2035.0,831.40 L2036.0,834.10 L2037.0,835.00 L2038.0,832.50 L2038.4,831.40 L2039.0,833.10 L2040.0,835.50 L2041.0,836.10 L2042.0,836.40 L2043.0,835.70 L2044.0,835.00 L2045.0,836.10 L2046.0,836.20 L2047.0,835.80 L2048.0,834.40 L2049.0,835.80 L2050.0,836.80 L2051.0,834.20 L2052.0,829.40 L2052.9,824.40 L2053.0,825.00 L2054.0,830.40 L2055.0,835.00 L2056.0,833.60 L2056.5,832.40 L2057.0,833.60 L2058.0,835.10 L2059.0,834.70 L2060.0,832.40 L2061.0,834.70 L2062.0,836.50 L2063.0,836.20 L2064.0,834.20 L2064.8,832.40 L2065.0,832.90 L2066.0,835.10 L2067.0,835.90 L2068.0,832.90 L2069.0,829.40 L2070.0,832.90 L2070.0,837.40 Z" fill="#006400"/>
<rect x="704.0" y="836.95" width="1431.0" height="1.3" fill="#000" fill-opacity="0.8"/>
<rect x="157.80" y="844.85" width="4.4" height="159.90" fill="#000"/>
<rect x="148.5" y="995.05" width="11.50" height="4.4" fill="#333333"/>
<rect x="148.5" y="957.83" width="11.50" height="4.4" fill="#333333"/>
<rect x="148.5" y="920.61" width="11.50" height="4.4" fill="#333333"/>
<rect x="148.5" y="883.39" width="11.50" height="4.4" fill="#333333"/>
<rect x="148.5" y="846.17" width="11.50" height="4.4" fill="#333333"/>
<text x="431.50" y="938.05" font-size="37.40" fill="#1A1A1A" text-anchor="middle" textLength="480.25" lengthAdjust="spacingAndGlyphs">WT Inhba+ Dermal Papilla</text>
<path d="M768.0,997.25 L768.0,993.95 L769.0,991.25 L770.0,993.95 L771.0,996.15 L772.0,997.25 L773.0,997.25 L774.0,996.85 L775.0,994.35 L776.0,991.05 L776.5,989.25 L777.0,991.05 L778.0,994.35 L779.0,994.95 L780.0,991.75 L780.7,989.25 L781.0,990.35 L782.0,993.75 L783.0,992.65 L783.5,991.25 L784.0,992.65 L785.0,995.15 L786.0,995.35 L787.0,992.95 L787.6,991.25 L788.0,992.35 L789.0,994.85 L790.0,996.75 L791.0,995.55 L792.0,993.15 L792.7,991.25 L793.0,992.05 L794.0,994.65 L795.0,995.65 L796.0,994.25 L797.0,995.65 L798.0,996.75 L799.0,996.25 L800.0,994.85 L801.0,996.25 L802.0,997.25 L803.0,996.45 L804.0,995.45 L805.0,994.25 L806.0,994.35 L807.0,995.45 L808.0,995.15 L809.0,996.45 L810.0,996.75 L811.0,995.65 L812.0,994.25 L813.0,995.65 L814.0,996.45 L815.0,996.65 L816.0,997.25 L817.0,997.25 L818.0,996.85 L819.0,996.85 L820.0,996.75 L821.0,996.55 L822.0,995.95 L823.0,995.65 L824.0,995.55 L825.0,996.65 L826.0,996.85 L827.0,995.95 L828.0,995.65 L829.0,994.25 L830.0,995.65 L831.0,995.55 L832.0,995.25 L833.0,995.05 L834.0,996.15 L835.0,995.65 L836.0,994.25 L837.0,995.65 L838.0,996.15 L839.0,995.15 L840.0,995.55 L841.0,996.85 L842.0,996.55 L843.0,995.35 L844.0,995.25 L844.7,994.25 L845.0,994.65 L846.0,995.95 L847.0,996.75 L848.0,997.25 L850.0,997.25 L851.0,996.75 L852.0,996.75 L853.0,996.95 L854.0,996.65 L855.0,996.05 L856.0,995.05 L857.0,995.25 L858.0,996.65 L859.0,997.25 L860.0,997.25 L861.0,996.95 L862.0,996.35 L863.0,996.55 L864.0,996.45 L865.0,996.65 L866.0,996.35 L867.0,995.85 L868.0,995.25 L869.0,995.55 L870.0,995.95 L871.0,995.05 L872.0,996.15 L873.0,996.45 L874.0,995.95 L875.0,996.05 L876.0,995.25 L877.0,995.05 L878.0,996.45 L879.0,997.25 L880.0,997.25 L881.0,996.55 L882.0,994.55 L883.0,993.25 L884.0,993.85 L885.0,994.25 L886.0,995.65 L887.0,996.55 L888.0,995.75 L889.0,994.85 L890.0,996.35 L891.0,997.25 L894.0,997.25 L895.0,996.45 L896.0,995.65 L897.0,996.45 L898.0,996.15 L899.0,995.25 L900.0,996.15 L901.0,995.55 L902.0,995.95 L903.0,996.75 L904.0,996.95 L905.0,997.25 L906.0,997.25 L907.0,996.75 L908.0,995.95 L908.7,995.25 L909.0,995.55 L910.0,996.05 L911.0,996.45 L912.0,996.65 L913.0,995.85 L914.0,995.65 L914.8,995.25 L915.0,995.45 L916.0,996.35 L917.0,995.95 L918.0,995.75 L919.0,995.95 L920.0,995.85 L921.0,996.55 L922.0,996.65 L923.0,996.85 L924.0,996.65 L925.0,997.25 L926.0,997.25 L927.0,996.45 L928.0,995.75 L929.0,995.75 L930.0,996.55 L931.0,996.15 L932.0,995.95 L933.0,995.25 L933.7,994.25 L934.0,994.65 L935.0,995.85 L936.0,996.75 L937.0,997.25 L939.0,997.25 L940.0,996.65 L941.0,996.65 L942.0,996.05 L943.0,996.05 L944.0,996.75 L945.0,996.85 L946.0,996.75 L947.0,996.45 L948.0,995.65 L949.0,994.25 L950.0,995.65 L951.0,995.55 L952.0,995.85 L953.0,994.55 L953.2,994.25 L954.0,995.35 L955.0,996.55 L956.0,997.25 L957.0,996.95 L958.0,997.25 L960.0,997.25 L961.0,996.85 L962.0,996.15 L963.0,996.85 L964.0,997.25 L965.0,996.55 L966.0,996.25 L967.0,995.85 L968.0,994.15 L968.5,993.25 L969.0,994.15 L970.0,995.85 L971.0,997.25 L972.0,996.35 L973.0,995.05 L974.0,993.25 L975.0,995.05 L976.0,996.55 L977.0,996.85 L978.0,996.15 L979.0,996.85 L980.0,997.25 L981.0,996.65 L982.0,994.65 L983.0,992.05 L983.3,991.25 L984.0,993.15 L985.0,995.55 L986.0,996.55 L987.0,996.25 L988.0,995.95 L989.0,995.15 L990.0,992.15 L990.8,989.25 L991.0,989.95 L992.0,993.45 L993.0,996.25 L994.0,997.25 L996.0,997.25 L997.0,996.05 L998.0,990.15 L999.0,982.65 L999.7,976.75 L1000.0,979.35 L1001.0,987.25 L1002.0,985.25 L1003.0,981.05 L1004.0,969.35 L1004.4,964.25 L1005.0,971.75 L1006.0,983.15 L1007.0,976.25 L1007.4,972.25 L1008.0,978.25 L1009.0,987.35 L1010.0,985.25 L1011.0,990.35 L1012.0,994.75 L1013.0,996.05 L1014.0,994.95 L1015.0,992.75 L1015.2,992.25 L1016.0,994.05 L1017.0,996.05 L1018.0,996.95 L1019.0,996.15 L1020.0,995.25 L1021.0,996.15 L1022.0,996.45 L1023.0,996.05 L1024.0,996.85 L1025.0,996.45 L1026.0,994.55 L1027.0,994.95 L1028.0,995.25 L1029.0,996.15 L1030.0,996.55 L1031.0,995.15 L1032.0,992.65 L1032.5,991.25 L1033.0,992.65 L1034.0,994.65 L1035.0,992.05 L1035.3,991.25 L1036.0,993.15 L1037.0,995.55 L1038.0,996.95 L1039.0,995.15 L1040.0,992.15 L1040.8,989.25 L1041.0,989.95 L1042.0,993.45 L1043.0,994.25 L1044.0,986.35 L1045.0,976.65 L1045.6,970.25 L1046.0,974.55 L1047.0,984.45 L1048.0,992.85 L1049.0,996.95 L1050.0,996.95 L1051.0,996.55 L1052.0,996.35 L1053.0,995.05 L1054.0,993.45 L1054.8,991.25 L1055.0,991.85 L1056.0,994.45 L1057.0,996.55 L1058.0,995.95 L1059.0,995.45 L1060.0,996.15 L1061.0,996.15 L1062.0,996.65 L1063.0,996.85 L1064.0,996.85 L1065.0,996.85 L1066.0,995.15 L1067.0,992.95 L1067.3,992.25 L1068.0,993.85 L1069.0,995.85 L1070.0,997.25 L1071.0,996.45 L1072.0,996.15 L1073.0,996.05 L1074.0,996.35 L1075.0,996.55 L1076.0,996.95 L1077.0,996.15 L1078.0,994.85 L1078.4,994.25 L1079.0,995.05 L1080.0,996.35 L1081.0,995.85 L1082.0,995.85 L1082.6,995.25 L1083.0,995.65 L1084.0,996.45 L1085.0,996.65 L1086.0,996.75 L1087.0,996.45 L1088.0,996.95 L1089.0,997.25 L1090.0,997.25 L1091.0,996.85 L1092.0,996.05 L1093.0,995.35 L1094.0,992.95 L1094.6,991.25 L1095.0,992.35 L1096.0,994.85 L1097.0,994.05 L1098.0,990.75 L1098.4,989.25 L1099.0,991.45 L1100.0,994.65 L1101.0,996.05 L1102.0,996.65 L1103.0,997.25 L1105.0,997.25 L1106.0,996.95 L1107.0,996.95 L1108.0,997.25 L1109.0,996.95 L1110.0,996.85 L1111.0,997.25 L1112.0,997.25 L1113.0,996.65 L1114.0,995.85 L1114.6,995.25 L1115.0,995.65 L1116.0,996.25 L1117.0,996.35 L1118.0,996.85 L1119.0,996.15 L1120.0,995.25 L1121.0,996.05 L1122.0,996.55 L1123.0,996.25 L1124.0,994.25 L1124.9,992.25 L1125.0,992.45 L1126.0,994.75 L1127.0,996.55 L1128.0,996.65 L1129.0,995.45 L1129.9,994.25 L1130.0,994.35 L1131.0,995.75 L1132.0,996.85 L1133.0,997.25 L1138.0,997.25 L1139.0,995.45 L1140.0,993.45 L1140.5,992.25 L1141.0,993.45 L1142.0,995.45 L1143.0,995.95 L1144.0,995.75 L1145.0,994.55 L1145.2,994.25 L1146.0,995.35 L1147.0,996.55 L1148.0,996.75 L1149.0,995.95 L1150.0,995.75 L1151.0,993.05 L1152.0,989.65 L1152.1,989.25 L1153.0,992.45 L1154.0,995.05 L1155.0,989.75 L1156.0,983.35 L1156.3,981.25 L1157.0,985.95 L1158.0,992.05 L1159.0,996.55 L1160.0,995.35 L1161.0,996.15 L1162.0,994.15 L1163.0,991.25 L1163.3,990.25 L1164.0,992.45 L1165.0,995.25 L1166.0,995.55 L1167.0,995.25 L1168.0,995.15 L1169.0,995.75 L1170.0,995.95 L1171.0,994.95 L1172.0,992.75 L1172.2,992.25 L1173.0,994.05 L1174.0,995.65 L1175.0,996.25 L1176.0,996.25 L1177.0,996.55 L1178.0,995.05 L1179.0,993.25 L1180.0,995.05 L1181.0,996.45 L1182.0,997.25 L1183.0,996.65 L1184.0,995.85 L1185.0,996.45 L1186.0,996.05 L1187.0,994.55 L1188.0,992.95 L1189.0,993.55 L1190.0,994.25 L1191.0,995.65 L1192.0,996.05 L1193.0,994.75 L1194.0,996.25 L1195.0,995.05 L1196.0,993.25 L1197.0,995.05 L1198.0,994.75 L1199.0,996.35 L1200.0,996.55 L1201.0,995.85 L1202.0,995.65 L1203.0,994.25 L1204.0,995.65 L1205.0,995.85 L1206.0,995.45 L1207.0,996.65 L1208.0,996.35 L1209.0,994.55 L1210.0,992.25 L1211.0,994.55 L1212.0,996.35 L1213.0,996.15 L1214.0,996.65 L1215.0,996.75 L1216.0,996.85 L1217.0,997.25 L1218.0,996.55 L1219.0,995.05 L1220.0,993.25 L1221.0,995.05 L1222.0,996.55 L1223.0,997.25 L1224.0,997.25 L1225.0,996.85 L1226.0,997.25 L1227.0,997.25 L1228.0,996.35 L1229.0,994.55 L1230.0,992.25 L1231.0,994.55 L1232.0,996.35 L1233.0,997.25 L1234.0,997.25 L1235.0,996.85 L1236.0,997.25 L1237.0,997.25 L1238.0,996.75 L1239.0,996.75 L1240.0,996.85 L1241.0,996.85 L1242.0,997.25 L1243.0,997.25 L1244.0,996.95 L1245.0,996.35 L1246.0,996.65 L1247.0,997.25 L1248.0,995.45 L1249.0,992.15 L1250.0,988.25 L1251.0,992.15 L1252.0,995.45 L1253.0,996.25 L1254.0,996.65 L1255.0,996.05 L1256.0,996.05 L1257.0,996.85 L1258.0,996.95 L1259.0,996.75 L1260.0,997.25 L1261.0,991.25 L1262.0,980.95 L1263.0,968.85 L1263.5,962.25 L1264.0,968.85 L1265.0,980.95 L1266.0,991.25 L1267.0,997.25 L1270.0,997.25 L1271.0,996.65 L1272.0,996.95 L1273.0,996.85 L1274.0,996.35 L1275.0,996.15 L1276.0,995.25 L1277.0,996.15 L1278.0,996.55 L1279.0,996.25 L1280.0,996.85 L1281.0,997.25 L1283.0,997.25 L1284.0,996.15 L1285.0,994.55 L1285.7,993.25 L1286.0,993.85 L1287.0,995.55 L1288.0,996.95 L1289.0,997.25 L1290.0,996.85 L1291.0,996.15 L1292.0,992.65 L1293.0,987.85 L1293.5,985.25 L1294.0,987.85 L1295.0,992.65 L1296.0,996.45 L1297.0,996.35 L1298.0,996.45 L1299.0,996.45 L1300.0,996.85 L1301.0,997.25 L1304.0,997.25 L1305.0,996.95 L1306.0,996.45 L1307.0,996.65 L1308.0,996.15 L1309.0,994.85 L1309.4,994.25 L1310.0,995.05 L1311.0,996.35 L1312.0,996.45 L1313.0,996.25 L1314.0,996.75 L1315.0,997.25 L1316.0,997.25 L1317.0,994.15 L1318.0,989.15 L1319.0,983.25 L1320.0,978.65 L1321.0,967.25 L1322.0,959.55 L1323.0,940.35 L1323.3,934.25 L1324.0,948.25 L1325.0,966.65 L1326.0,967.25 L1327.0,978.65 L1328.0,988.55 L1329.0,995.25 L1330.0,995.45 L1331.0,997.25 L1332.0,996.95 L1333.0,995.75 L1334.0,994.05 L1334.4,993.25 L1335.0,994.35 L1336.0,996.05 L1337.0,996.95 L1338.0,996.35 L1339.0,996.25 L1340.0,996.85 L1341.0,997.25 L1342.0,996.85 L1343.0,996.85 L1344.0,996.55 L1345.0,995.85 L1345.6,995.25 L1346.0,995.65 L1347.0,996.45 L1348.0,997.25 L1349.0,996.85 L1350.0,996.25 L1351.0,996.15 L1352.0,995.25 L1353.0,996.15 L1354.0,996.55 L1355.0,996.85 L1356.0,996.85 L1357.0,997.25 L1359.0,997.25 L1360.0,996.95 L1361.0,996.15 L1362.0,995.25 L1363.0,996.15 L1364.0,996.95 L1365.0,996.55 L1366.0,996.75 L1367.0,997.25 L1368.0,997.25 L1369.0,995.25 L1370.0,986.35 L1371.0,975.15 L1372.0,962.25 L1373.0,950.05 L1374.0,928.75 L1374.2,924.25 L1375.0,941.75 L1376.0,961.95 L1376.5,962.25 L1377.0,968.85 L1378.0,980.95 L1379.0,991.25 L1380.0,987.25 L1381.0,991.55 L1382.0,995.25 L1383.0,997.25 L1385.0,997.25 L1386.0,996.45 L1387.0,996.25 L1388.0,996.65 L1389.0,997.25 L1391.0,997.25 L1392.0,995.55 L1393.0,993.15 L1393.7,991.25 L1394.0,992.05 L1395.0,994.65 L1396.0,996.75 L1397.0,997.25 L1399.0,997.25 L1400.0,996.35 L1401.0,993.75 L1402.0,986.35 L1403.0,977.55 L1403.4,973.65 L1404.0,979.35 L1405.0,987.95 L1406.0,990.75 L1406.8,987.25 L1407.0,988.15 L1408.0,992.35 L1409.0,995.85 L1410.0,997.25 L1411.0,996.95 L1412.0,993.55 L1413.0,988.95 L1413.7,985.25 L1414.0,986.85 L1415.0,991.75 L1416.0,994.15 L1416.5,993.25 L1417.0,994.15 L1418.0,995.85 L1419.0,997.25 L1420.0,996.95 L1421.0,996.15 L1422.0,995.25 L1423.0,996.15 L1424.0,996.95 L1425.0,996.85 L1426.0,996.85 L1427.0,996.95 L1428.0,996.85 L1429.0,996.15 L1430.0,995.25 L1431.0,996.15 L1432.0,996.95 L1433.0,997.25 L1434.0,997.25 L1435.0,996.95 L1436.0,996.75 L1437.0,997.25 L1438.0,996.95 L1439.0,996.35 L1440.0,996.55 L1441.0,996.35 L1442.0,996.35 L1443.0,991.45 L1444.0,987.45 L1445.0,975.45 L1446.0,961.65 L1446.3,957.25 L1447.0,967.35 L1448.0,980.55 L1449.0,972.25 L1450.0,973.65 L1451.0,956.15 L1452.0,936.65 L1452.1,934.65 L1453.0,952.45 L1454.0,970.35 L1455.0,967.25 L1456.0,978.65 L1457.0,988.55 L1458.0,996.05 L1459.0,995.85 L1460.0,996.25 L1461.0,994.25 L1461.9,992.25 L1462.0,992.45 L1463.0,994.75 L1464.0,996.55 L1465.0,995.35 L1466.0,992.95 L1466.6,991.25 L1467.0,992.35 L1468.0,994.85 L1469.0,993.95 L1470.0,991.25 L1471.0,993.95 L1472.0,996.15 L1473.0,996.15 L1474.0,993.95 L1475.0,991.25 L1476.0,993.95 L1477.0,996.15 L1478.0,996.25 L1479.0,996.55 L1480.0,997.25 L1481.0,996.55 L1482.0,995.35 L1483.0,995.55 L1484.0,993.15 L1484.7,991.25 L1485.0,992.05 L1486.0,994.65 L1487.0,996.75 L1488.0,996.95 L1489.0,996.45 L1490.0,989.15 L1491.0,978.85 L1492.0,966.85 L1492.2,964.25 L1493.0,974.15 L1494.0,985.25 L1495.0,994.25 L1496.0,994.95 L1497.0,992.75 L1497.2,992.25 L1498.0,994.05 L1499.0,996.05 L1500.0,996.75 L1501.0,995.85 L1502.0,996.25 L1503.0,996.05 L1504.0,995.25 L1505.0,996.15 L1506.0,996.85 L1507.0,996.35 L1508.0,995.25 L1509.0,995.25 L1510.0,995.35 L1511.0,994.75 L1512.0,995.85 L1513.0,995.55 L1514.0,995.85 L1515.0,996.85 L1516.0,997.25 L1517.0,996.65 L1518.0,996.15 L1519.0,995.05 L1520.0,995.95 L1521.0,992.95 L1522.0,989.05 L1522.2,988.25 L1523.0,991.45 L1524.0,994.85 L1525.0,997.25 L1527.0,997.25 L1528.0,996.95 L1529.0,995.95 L1530.0,995.45 L1531.0,996.35 L1532.0,995.45 L1533.0,994.45 L1534.0,994.05 L1534.8,992.25 L1535.0,992.75 L1536.0,994.95 L1537.0,996.65 L1538.0,996.35 L1539.0,994.95 L1540.0,996.25 L1541.0,996.95 L1542.0,997.25 L1543.0,996.75 L1544.0,995.85 L1545.0,996.55 L1546.0,996.45 L1547.0,995.55 L1547.3,995.25 L1548.0,995.15 L1549.0,994.75 L1550.0,996.45 L1551.0,997.25 L1552.0,996.85 L1553.0,996.95 L1554.0,996.95 L1555.0,996.75 L1556.0,996.25 L1557.0,996.85 L1558.0,996.35 L1559.0,994.75 L1559.8,993.25 L1560.0,993.65 L1561.0,995.35 L1562.0,995.35 L1563.0,996.05 L1564.0,996.85 L1565.0,996.75 L1566.0,997.25 L1567.0,996.45 L1568.0,994.95 L1569.0,995.55 L1570.0,995.65 L1571.0,994.25 L1572.0,995.65 L1573.0,996.75 L1574.0,996.75 L1575.0,997.25 L1579.0,997.25 L1580.0,996.95 L1581.0,996.55 L1582.0,996.95 L1583.0,996.65 L1584.0,994.95 L1585.0,994.75 L1586.0,995.45 L1586.2,995.25 L1587.0,995.95 L1588.0,995.85 L1589.0,996.65 L1590.0,997.25 L1591.0,997.25 L1592.0,996.45 L1593.0,995.35 L1594.0,992.95 L1594.6,991.25 L1595.0,992.35 L1596.0,994.85 L1597.0,995.15 L1598.0,996.55 L1599.0,995.65 L1600.0,994.25 L1601.0,995.65 L1602.0,996.75 L1603.0,997.25 L1604.0,996.35 L1605.0,995.05 L1606.0,994.55 L1607.0,992.25 L1608.0,994.35 L1609.0,995.85 L1610.0,996.05 L1611.0,994.55 L1612.0,992.25 L1613.0,993.75 L1614.0,995.05 L1615.0,996.35 L1616.0,994.55 L1617.0,992.25 L1618.0,994.55 L1619.0,996.35 L1620.0,996.65 L1621.0,995.35 L1622.0,993.15 L1622.4,992.25 L1623.0,993.65 L1624.0,995.35 L1625.0,996.55 L1626.0,996.75 L1627.0,995.65 L1628.0,994.25 L1629.0,995.65 L1630.0,996.75 L1631.0,996.45 L1632.0,996.95 L1633.0,997.25 L1634.0,996.75 L1635.0,996.55 L1636.0,995.95 L1637.0,996.75 L1638.0,997.25 L1639.0,996.65 L1640.0,996.25 L1641.0,990.05 L1642.0,979.95 L1643.0,968.05 L1643.3,964.25 L1644.0,972.95 L1645.0,984.25 L1646.0,979.05 L1646.6,973.25 L1647.0,977.15 L1648.0,986.15 L1649.0,991.65 L1650.0,992.75 L1651.0,987.65 L1651.6,984.25 L1652.0,986.55 L1653.0,991.75 L1654.0,990.25 L1655.0,982.35 L1655.8,975.25 L1656.0,977.05 L1657.0,985.65 L1658.0,991.75 L1659.0,994.05 L1660.0,992.25 L1661.0,987.35 L1661.4,985.25 L1662.0,988.45 L1663.0,990.85 L1664.0,990.15 L1665.0,985.95 L1666.0,974.35 L1667.0,961.25 L1668.0,974.35 L1669.0,984.55 L1669.7,979.25 L1670.0,981.55 L1671.0,988.65 L1672.0,978.75 L1673.0,961.75 L1674.0,942.55 L1674.5,932.25 L1675.0,942.55 L1676.0,961.75 L1677.0,967.25 L1678.0,978.65 L1679.0,976.55 L1680.0,964.25 L1681.0,976.55 L1682.0,987.25 L1683.0,993.75 L1684.0,996.15 L1685.0,994.45 L1686.0,991.55 L1686.4,990.25 L1687.0,992.15 L1688.0,994.95 L1689.0,995.75 L1690.0,996.15 L1691.0,995.65 L1692.0,994.25 L1693.0,995.65 L1694.0,996.75 L1695.0,996.85 L1696.0,993.85 L1697.0,989.95 L1697.6,987.25 L1698.0,989.05 L1699.0,993.15 L1700.0,992.35 L1701.0,986.75 L1701.7,982.25 L1702.0,984.25 L1703.0,990.25 L1704.0,993.85 L1705.0,988.55 L1706.0,982.25 L1707.0,988.55 L1708.0,993.85 L1709.0,997.25 L1710.0,997.25 L1711.0,996.85 L1712.0,996.65 L1713.0,996.05 L1714.0,996.05 L1715.0,994.35 L1715.6,993.25 L1716.0,994.05 L1717.0,995.75 L1718.0,996.95 L1719.0,996.45 L1720.0,996.35 L1721.0,996.25 L1722.0,996.15 L1723.0,996.85 L1724.0,997.25 L1725.0,996.35 L1726.0,994.75 L1726.8,993.25 L1727.0,993.65 L1728.0,995.35 L1729.0,994.35 L1729.6,993.25 L1730.0,994.05 L1731.0,995.65 L1732.0,996.65 L1733.0,996.75 L1734.0,995.65 L1735.0,994.25 L1736.0,995.65 L1737.0,996.75 L1738.0,997.25 L1739.0,996.55 L1740.0,995.75 L1741.0,995.95 L1742.0,995.85 L1743.0,995.95 L1744.0,995.85 L1745.0,992.75 L1746.0,988.65 L1746.3,987.25 L1747.0,990.35 L1748.0,994.25 L1749.0,994.95 L1750.0,994.05 L1750.4,993.25 L1751.0,994.35 L1752.0,996.05 L1753.0,996.35 L1754.0,996.85 L1755.0,997.25 L1757.0,997.25 L1758.0,996.95 L1759.0,996.55 L1760.0,996.95 L1761.0,996.95 L1762.0,996.15 L1763.0,995.25 L1764.0,996.15 L1765.0,996.35 L1766.0,996.15 L1767.0,996.85 L1768.0,996.75 L1769.0,995.75 L1770.0,995.95 L1771.0,996.75 L1772.0,995.95 L1772.7,995.25 L1773.0,995.55 L1774.0,996.45 L1775.0,997.25 L1776.0,996.75 L1777.0,995.95 L1778.0,995.95 L1779.0,995.65 L1780.0,994.25 L1781.0,995.65 L1782.0,996.75 L1783.0,997.25 L1787.0,997.25 L1788.0,996.95 L1789.0,996.15 L1790.0,995.25 L1791.0,996.15 L1792.0,996.15 L1793.0,996.05 L1794.0,996.65 L1795.0,996.45 L1796.0,996.25 L1797.0,996.05 L1798.0,995.65 L1799.0,994.25 L1800.0,995.65 L1801.0,995.85 L1802.0,996.75 L1803.0,996.95 L1804.0,996.55 L1805.0,996.85 L1806.0,996.65 L1807.0,996.35 L1808.0,996.65 L1809.0,996.25 L1810.0,996.35 L1811.0,995.15 L1812.0,992.65 L1812.5,991.25 L1813.0,992.65 L1814.0,995.15 L1815.0,996.25 L1816.0,995.35 L1817.0,993.65 L1817.2,993.25 L1818.0,994.75 L1819.0,996.25 L1820.0,996.75 L1821.0,997.25 L1823.0,997.25 L1824.0,996.85 L1825.0,996.45 L1826.0,996.15 L1827.0,995.25 L1828.0,996.15 L1829.0,996.75 L1830.0,996.75 L1831.0,996.95 L1832.0,996.85 L1833.0,996.85 L1834.0,996.15 L1835.0,995.25 L1836.0,996.15 L1837.0,996.35 L1838.0,996.55 L1839.0,996.35 L1840.0,996.75 L1841.0,996.15 L1842.0,995.25 L1843.0,996.15 L1844.0,996.95 L1845.0,996.95 L1846.0,996.75 L1847.0,996.65 L1848.0,996.95 L1849.0,996.75 L1850.0,996.05 L1851.0,995.85 L1852.0,995.25 L1853.0,995.95 L1854.0,996.75 L1855.0,997.25 L1856.0,997.25 L1857.0,996.75 L1858.0,996.35 L1859.0,996.85 L1860.0,996.45 L1861.0,995.25 L1861.7,994.25 L1862.0,994.65 L1863.0,995.95 L1864.0,995.65 L1865.0,994.25 L1866.0,995.65 L1867.0,996.45 L1868.0,995.25 L1868.7,994.25 L1869.0,994.65 L1870.0,995.95 L1871.0,997.25 L1873.0,997.25 L1874.0,996.85 L1875.0,996.85 L1876.0,997.25 L1879.0,997.25 L1880.0,996.95 L1881.0,996.05 L1882.0,994.35 L1882.6,993.25 L1883.0,994.05 L1884.0,995.75 L1885.0,997.25 L1886.0,996.95 L1887.0,996.75 L1888.0,996.65 L1889.0,996.35 L1890.0,995.05 L1891.0,993.25 L1892.0,995.05 L1893.0,996.55 L1894.0,996.55 L1895.0,996.55 L1896.0,995.75 L1896.5,995.25 L1897.0,995.75 L1898.0,996.55 L1899.0,996.95 L1900.0,996.95 L1901.0,996.15 L1902.0,995.25 L1903.0,996.15 L1904.0,996.95 L1905.0,996.85 L1906.0,996.65 L1907.0,996.95 L1908.0,996.95 L1909.0,996.95 L1910.0,996.55 L1911.0,996.65 L1912.0,997.25 L1913.0,997.25 L1914.0,996.35 L1915.0,995.85 L1916.0,995.35 L1917.0,993.15 L1917.4,992.25 L1918.0,993.65 L1919.0,995.65 L1920.0,997.25 L1922.0,997.25 L1923.0,996.95 L1924.0,996.45 L1925.0,996.75 L1926.0,996.65 L1927.0,995.95 L1928.0,995.45 L1928.5,995.25 L1929.0,995.75 L1930.0,996.15 L1931.0,996.85 L1932.0,997.25 L1933.0,996.95 L1934.0,996.15 L1935.0,996.25 L1936.0,995.95 L1936.8,995.25 L1937.0,995.45 L1938.0,995.75 L1939.0,996.65 L1940.0,997.25 L1941.0,997.25 L1942.0,996.55 L1943.0,995.35 L1943.8,994.25 L1944.0,994.55 L1945.0,995.15 L1946.0,995.25 L1947.0,995.45 L1948.0,996.55 L1949.0,996.85 L1950.0,996.35 L1951.0,995.35 L1952.0,994.25 L1953.0,995.65 L1954.0,996.45 L1955.0,996.55 L1956.0,997.25 L1958.0,997.25 L1959.0,996.85 L1960.0,997.25 L1961.0,997.25 L1962.0,996.45 L1963.0,994.95 L1964.0,996.05 L1965.0,996.65 L1966.0,995.15 L1967.0,994.55 L1968.0,996.25 L1969.0,996.05 L1970.0,995.05 L1971.0,996.45 L1972.0,996.45 L1973.0,994.85 L1974.0,995.75 L1975.0,996.55 L1976.0,996.15 L1977.0,996.75 L1978.0,997.25 L1979.0,997.25 L1980.0,996.85 L1981.0,996.15 L1982.0,996.15 L1983.0,995.45 L1984.0,996.55 L1985.0,997.25 L1986.0,996.35 L1987.0,994.65 L1988.0,994.65 L1989.0,993.75 L1990.0,993.75 L1991.0,995.35 L1992.0,996.35 L1993.0,994.55 L1994.0,992.25 L1995.0,994.55 L1996.0,996.35 L1997.0,992.75 L1998.0,987.65 L1998.6,984.25 L1999.0,986.55 L2000.0,991.75 L2001.0,995.95 L2002.0,996.05 L2003.0,995.65 L2004.0,995.05 L2005.0,993.25 L2006.0,995.05 L2007.0,996.55 L2008.0,995.35 L2009.0,995.25 L2010.0,996.65 L2011.0,996.25 L2012.0,994.75 L2013.0,995.65 L2013.4,995.25 L2014.0,994.95 L2015.0,994.25 L2016.0,995.85 L2017.0,996.55 L2018.0,995.35 L2019.0,994.15 L2020.0,993.75 L2021.0,993.95 L2022.0,995.55 L2023.0,995.45 L2024.0,994.95 L2024.5,994.25 L2025.0,994.95 L2026.0,995.15 L2027.0,996.05 L2028.0,996.75 L2029.0,995.65 L2030.0,994.25 L2031.0,995.65 L2032.0,994.75 L2032.8,993.25 L2033.0,993.65 L2034.0,995.05 L2035.0,995.45 L2036.0,993.95 L2037.0,991.25 L2038.0,993.95 L2039.0,995.95 L2040.0,996.35 L2041.0,996.85 L2042.0,996.75 L2043.0,995.85 L2044.0,996.15 L2045.0,996.65 L2046.0,996.75 L2047.0,995.65 L2048.0,994.25 L2049.0,995.65 L2050.0,996.75 L2051.0,995.55 L2052.0,994.55 L2052.3,994.25 L2053.0,995.25 L2054.0,995.25 L2055.0,995.55 L2056.0,996.45 L2057.0,997.25 L2061.0,997.25 L2062.0,995.85 L2063.0,994.15 L2063.5,993.25 L2064.0,994.15 L2065.0,994.55 L2066.0,995.15 L2067.0,995.85 L2067.6,995.25 L2068.0,995.65 L2069.0,996.45 L2069.0,997.25 Z" fill="#5CACEE"/>
<rect x="704.0" y="996.80" width="1431.0" height="1.3" fill="#000" fill-opacity="0.8"/>
<rect x="157.80" y="1004.70" width="4.4" height="159.90" fill="#000"/>
<rect x="148.5" y="1154.90" width="11.50" height="4.4" fill="#333333"/>
<rect x="148.5" y="1117.68" width="11.50" height="4.4" fill="#333333"/>
<rect x="148.5" y="1080.46" width="11.50" height="4.4" fill="#333333"/>
<rect x="148.5" y="1043.24" width="11.50" height="4.4" fill="#333333"/>
<rect x="148.5" y="1006.02" width="11.50" height="4.4" fill="#333333"/>
<text x="431.50" y="1097.90" font-size="37.40" fill="#1A1A1A" text-anchor="middle" textLength="492.66" lengthAdjust="spacingAndGlyphs">cKO Inhba+ Dermal Papilla</text>
<path d="M768.0,1157.10 L768.0,1157.10 L772.0,1157.10 L773.0,1155.50 L774.0,1153.50 L774.6,1152.10 L775.0,1153.00 L776.0,1154.60 L777.0,1150.20 L778.0,1145.10 L779.0,1146.70 L779.3,1145.10 L780.0,1148.80 L781.0,1145.10 L782.0,1150.20 L783.0,1154.60 L784.0,1157.10 L789.0,1157.10 L790.0,1153.80 L791.0,1149.30 L791.8,1145.10 L792.0,1146.20 L793.0,1151.20 L794.0,1155.30 L795.0,1155.90 L796.0,1153.90 L796.8,1152.10 L797.0,1152.60 L798.0,1154.80 L799.0,1156.50 L800.0,1157.10 L869.0,1157.10 L870.0,1156.50 L871.0,1153.40 L872.0,1149.30 L872.5,1147.10 L873.0,1149.30 L874.0,1153.40 L875.0,1156.50 L876.0,1157.10 L890.0,1157.10 L891.0,1156.80 L892.0,1155.20 L893.0,1153.00 L893.4,1152.10 L894.0,1153.50 L895.0,1155.50 L896.0,1157.10 L902.0,1157.10 L903.0,1156.70 L904.0,1155.00 L905.0,1152.80 L905.3,1152.10 L906.0,1153.70 L907.0,1154.40 L908.0,1152.10 L909.0,1154.40 L910.0,1156.20 L911.0,1157.10 L915.0,1157.10 L916.0,1155.00 L917.0,1151.70 L917.9,1148.10 L918.0,1148.50 L919.0,1152.40 L920.0,1155.60 L921.0,1153.00 L922.0,1148.30 L922.6,1145.10 L923.0,1147.20 L924.0,1152.10 L925.0,1156.00 L926.0,1157.10 L931.0,1157.10 L932.0,1156.70 L933.0,1153.70 L934.0,1149.80 L934.6,1147.10 L935.0,1148.90 L936.0,1153.00 L937.0,1156.30 L938.0,1157.10 L955.0,1157.10 L956.0,1156.50 L957.0,1154.80 L958.0,1152.60 L958.2,1152.10 L959.0,1153.90 L960.0,1155.90 L961.0,1157.10 L962.0,1155.90 L963.0,1153.90 L963.8,1152.10 L964.0,1152.60 L965.0,1154.80 L966.0,1156.50 L967.0,1157.10 L973.0,1157.10 L974.0,1156.70 L975.0,1155.00 L976.0,1152.80 L976.3,1152.10 L977.0,1153.70 L978.0,1155.70 L979.0,1157.10 L980.0,1156.30 L981.0,1153.00 L982.0,1148.90 L982.4,1147.10 L983.0,1149.80 L984.0,1153.70 L985.0,1156.30 L986.0,1153.00 L987.0,1148.90 L987.4,1147.10 L988.0,1149.80 L989.0,1145.90 L990.0,1135.20 L990.8,1125.70 L991.0,1128.20 L992.0,1139.70 L993.0,1149.60 L994.0,1151.00 L995.0,1141.60 L996.0,1130.60 L996.3,1127.10 L997.0,1135.20 L998.0,1145.60 L999.0,1144.20 L1000.0,1133.80 L1000.5,1128.10 L1001.0,1133.80 L1002.0,1139.10 L1003.0,1135.10 L1004.0,1138.70 L1005.0,1132.10 L1006.0,1141.40 L1007.0,1139.80 L1008.0,1129.10 L1009.0,1139.60 L1010.0,1132.10 L1011.0,1141.90 L1012.0,1150.40 L1013.0,1156.10 L1014.0,1150.10 L1015.0,1142.20 L1015.8,1135.10 L1016.0,1136.90 L1017.0,1145.50 L1018.0,1152.80 L1019.0,1157.10 L1021.0,1157.10 L1022.0,1151.70 L1023.0,1140.90 L1024.0,1128.00 L1024.7,1118.10 L1025.0,1122.40 L1026.0,1136.00 L1027.0,1147.70 L1028.0,1156.40 L1029.0,1157.10 L1030.0,1157.10 L1031.0,1155.70 L1032.0,1148.30 L1033.0,1138.80 L1033.9,1129.10 L1034.0,1130.20 L1035.0,1140.90 L1036.0,1150.00 L1037.0,1143.70 L1037.5,1140.10 L1038.0,1143.70 L1039.0,1150.30 L1040.0,1152.00 L1040.8,1149.10 L1041.0,1149.80 L1042.0,1150.20 L1043.0,1145.10 L1044.0,1150.10 L1045.0,1142.20 L1045.8,1135.10 L1046.0,1136.90 L1047.0,1145.50 L1048.0,1152.80 L1049.0,1157.10 L1059.0,1157.10 L1060.0,1155.70 L1061.0,1153.70 L1061.7,1152.10 L1062.0,1152.80 L1063.0,1155.00 L1064.0,1156.70 L1065.0,1157.10 L1101.0,1157.10 L1102.0,1154.50 L1103.0,1148.80 L1104.0,1141.90 L1104.3,1139.60 L1105.0,1144.70 L1106.0,1151.20 L1107.0,1156.30 L1108.0,1157.10 L1137.0,1157.10 L1138.0,1155.50 L1139.0,1153.50 L1139.6,1152.10 L1140.0,1153.00 L1141.0,1155.20 L1142.0,1156.10 L1143.0,1152.50 L1144.0,1148.10 L1144.4,1146.10 L1145.0,1149.00 L1146.0,1153.30 L1147.0,1156.70 L1148.0,1155.20 L1149.0,1153.00 L1149.4,1152.10 L1150.0,1153.50 L1151.0,1155.50 L1152.0,1155.30 L1153.0,1153.30 L1153.5,1152.10 L1154.0,1153.30 L1155.0,1155.30 L1156.0,1153.70 L1157.0,1149.50 L1157.7,1146.10 L1158.0,1147.60 L1159.0,1149.10 L1160.0,1152.60 L1161.0,1153.70 L1162.0,1149.50 L1162.7,1146.10 L1163.0,1147.60 L1164.0,1152.10 L1165.0,1155.80 L1166.0,1157.10 L1169.0,1157.10 L1170.0,1155.50 L1171.0,1153.50 L1171.6,1152.10 L1172.0,1153.00 L1173.0,1155.20 L1174.0,1156.70 L1175.0,1155.00 L1176.0,1152.80 L1176.3,1152.10 L1177.0,1153.70 L1178.0,1155.70 L1179.0,1157.10 L1185.0,1157.10 L1186.0,1156.20 L1187.0,1154.40 L1188.0,1152.10 L1189.0,1154.40 L1190.0,1154.40 L1191.0,1152.10 L1192.0,1154.40 L1193.0,1156.20 L1194.0,1154.60 L1195.0,1150.20 L1196.0,1145.10 L1197.0,1150.20 L1198.0,1154.60 L1199.0,1156.20 L1200.0,1154.40 L1201.0,1152.10 L1202.0,1154.40 L1203.0,1156.20 L1204.0,1154.40 L1205.0,1152.10 L1206.0,1154.40 L1207.0,1156.20 L1208.0,1154.40 L1209.0,1152.10 L1210.0,1154.40 L1211.0,1156.20 L1212.0,1157.10 L1215.0,1157.10 L1216.0,1155.50 L1217.0,1153.50 L1217.6,1152.10 L1218.0,1153.00 L1219.0,1155.20 L1220.0,1155.70 L1221.0,1153.70 L1221.7,1152.10 L1222.0,1152.80 L1223.0,1155.00 L1224.0,1156.40 L1225.0,1153.00 L1226.0,1148.50 L1226.5,1146.10 L1227.0,1148.50 L1228.0,1153.00 L1229.0,1156.40 L1230.0,1157.10 L1235.0,1157.10 L1236.0,1156.80 L1237.0,1155.20 L1238.0,1153.00 L1238.4,1152.10 L1239.0,1153.50 L1240.0,1155.50 L1241.0,1155.50 L1242.0,1153.50 L1242.6,1152.10 L1243.0,1153.00 L1244.0,1155.20 L1245.0,1156.80 L1246.0,1157.10 L1259.0,1157.10 L1260.0,1154.40 L1261.0,1142.20 L1262.0,1126.70 L1263.0,1109.00 L1263.5,1099.50 L1264.0,1109.00 L1265.0,1126.70 L1266.0,1142.20 L1267.0,1154.40 L1268.0,1157.10 L1276.0,1157.10 L1277.0,1156.20 L1278.0,1154.60 L1278.8,1153.10 L1279.0,1153.50 L1280.0,1155.20 L1281.0,1156.70 L1282.0,1157.10 L1283.0,1155.30 L1284.0,1151.20 L1285.0,1146.20 L1285.2,1145.10 L1286.0,1149.30 L1287.0,1153.80 L1288.0,1157.10 L1289.0,1154.10 L1290.0,1150.20 L1290.7,1147.10 L1291.0,1148.50 L1292.0,1152.60 L1293.0,1156.00 L1294.0,1157.10 L1303.0,1157.10 L1304.0,1155.10 L1305.0,1151.40 L1306.0,1147.10 L1307.0,1151.40 L1308.0,1155.10 L1309.0,1157.10 L1315.0,1157.10 L1316.0,1153.40 L1317.0,1146.30 L1318.0,1137.80 L1318.3,1135.10 L1319.0,1138.90 L1320.0,1123.90 L1321.0,1107.10 L1322.0,1123.90 L1323.0,1109.50 L1323.3,1104.10 L1324.0,1116.50 L1325.0,1115.70 L1325.5,1107.10 L1326.0,1115.70 L1327.0,1131.70 L1328.0,1145.50 L1329.0,1148.40 L1330.0,1141.60 L1330.2,1140.10 L1331.0,1145.80 L1332.0,1150.20 L1333.0,1145.10 L1334.0,1150.20 L1335.0,1154.60 L1336.0,1150.20 L1337.0,1145.10 L1338.0,1150.20 L1339.0,1154.60 L1340.0,1157.10 L1365.0,1157.10 L1366.0,1153.80 L1367.0,1149.30 L1367.8,1145.10 L1368.0,1146.20 L1369.0,1149.70 L1370.0,1131.50 L1371.0,1109.50 L1372.0,1084.80 L1373.0,1057.90 L1373.4,1046.60 L1374.0,1063.40 L1375.0,1089.90 L1376.0,1114.20 L1377.0,1135.50 L1378.0,1152.60 L1379.0,1151.60 L1380.0,1146.70 L1380.3,1145.10 L1381.0,1148.80 L1382.0,1153.40 L1383.0,1154.80 L1384.0,1150.80 L1385.0,1146.10 L1386.0,1150.80 L1387.0,1154.80 L1388.0,1150.80 L1389.0,1146.10 L1390.0,1150.80 L1391.0,1154.50 L1392.0,1150.40 L1392.9,1146.10 L1393.0,1146.60 L1394.0,1151.30 L1395.0,1155.20 L1396.0,1157.10 L1400.0,1157.10 L1401.0,1155.00 L1402.0,1149.40 L1403.0,1142.60 L1403.4,1139.60 L1404.0,1144.00 L1405.0,1150.70 L1406.0,1155.90 L1407.0,1157.10 L1408.0,1155.30 L1409.0,1153.30 L1409.5,1152.10 L1410.0,1153.30 L1411.0,1155.30 L1412.0,1157.10 L1413.0,1157.10 L1414.0,1156.20 L1415.0,1154.40 L1416.0,1152.10 L1417.0,1154.40 L1418.0,1156.20 L1419.0,1157.10 L1421.0,1157.10 L1422.0,1155.30 L1423.0,1153.30 L1423.5,1152.10 L1424.0,1153.30 L1425.0,1155.30 L1426.0,1157.10 L1427.0,1156.20 L1428.0,1154.40 L1429.0,1152.10 L1430.0,1154.40 L1431.0,1156.20 L1432.0,1157.10 L1433.0,1155.50 L1434.0,1153.50 L1434.6,1152.10 L1435.0,1153.00 L1436.0,1155.20 L1437.0,1153.80 L1438.0,1149.30 L1438.8,1145.10 L1439.0,1146.20 L1440.0,1151.20 L1441.0,1147.00 L1442.0,1133.90 L1443.0,1118.80 L1443.5,1110.60 L1444.0,1118.80 L1445.0,1133.90 L1446.0,1136.90 L1446.3,1134.10 L1447.0,1140.60 L1448.0,1145.60 L1449.0,1132.10 L1450.0,1116.70 L1450.4,1110.10 L1451.0,1119.90 L1452.0,1130.40 L1453.0,1112.20 L1454.0,1092.10 L1455.0,1112.20 L1456.0,1130.40 L1456.8,1122.10 L1457.0,1124.80 L1458.0,1137.40 L1459.0,1148.30 L1460.0,1156.40 L1461.0,1155.20 L1462.0,1153.00 L1462.4,1152.10 L1463.0,1153.50 L1464.0,1155.50 L1465.0,1155.50 L1466.0,1153.50 L1466.6,1152.10 L1467.0,1153.00 L1468.0,1153.90 L1469.0,1144.60 L1469.4,1140.30 L1470.0,1133.30 L1470.8,1123.10 L1471.0,1125.70 L1472.0,1138.00 L1473.0,1147.70 L1473.5,1145.10 L1474.0,1147.70 L1475.0,1151.60 L1476.0,1146.70 L1476.3,1145.10 L1477.0,1148.80 L1478.0,1153.40 L1479.0,1156.80 L1480.0,1157.10 L1485.0,1157.10 L1486.0,1155.30 L1487.0,1153.30 L1487.5,1152.10 L1488.0,1153.30 L1489.0,1155.30 L1490.0,1152.90 L1491.0,1145.70 L1492.0,1137.20 L1492.2,1135.40 L1493.0,1142.40 L1494.0,1150.20 L1495.0,1156.10 L1496.0,1157.10 L1497.0,1157.10 L1498.0,1156.20 L1499.0,1154.40 L1500.0,1152.10 L1501.0,1154.40 L1502.0,1156.20 L1503.0,1157.10 L1512.0,1157.10 L1513.0,1156.70 L1514.0,1155.00 L1515.0,1152.80 L1515.3,1152.10 L1516.0,1153.70 L1517.0,1155.70 L1518.0,1157.10 L1521.0,1157.10 L1522.0,1155.50 L1523.0,1153.50 L1523.6,1152.10 L1524.0,1153.00 L1525.0,1155.20 L1526.0,1153.00 L1526.4,1152.10 L1527.0,1153.50 L1528.0,1155.50 L1529.0,1157.10 L1557.0,1157.10 L1558.0,1156.70 L1559.0,1153.30 L1560.0,1149.00 L1560.6,1146.10 L1561.0,1148.10 L1562.0,1152.50 L1563.0,1156.10 L1564.0,1157.10 L1579.0,1157.10 L1580.0,1156.20 L1581.0,1154.40 L1582.0,1152.10 L1583.0,1154.40 L1584.0,1156.20 L1585.0,1157.10 L1586.0,1157.10 L1587.0,1155.10 L1588.0,1151.40 L1589.0,1147.10 L1590.0,1151.40 L1591.0,1150.60 L1591.8,1147.10 L1592.0,1148.00 L1593.0,1140.10 L1593.7,1133.50 L1594.0,1136.40 L1595.0,1145.40 L1596.0,1152.90 L1597.0,1153.10 L1598.0,1145.70 L1599.0,1136.90 L1599.3,1134.10 L1600.0,1140.60 L1601.0,1148.90 L1602.0,1153.00 L1603.0,1148.50 L1603.5,1146.10 L1604.0,1148.50 L1605.0,1153.00 L1606.0,1156.40 L1607.0,1157.10 L1608.0,1157.10 L1609.0,1155.80 L1610.0,1152.10 L1611.0,1147.60 L1611.3,1146.10 L1612.0,1149.50 L1613.0,1153.70 L1614.0,1157.10 L1616.0,1157.10 L1617.0,1156.10 L1618.0,1151.30 L1619.0,1145.20 L1619.6,1141.10 L1620.0,1143.90 L1621.0,1150.20 L1622.0,1155.30 L1623.0,1154.10 L1624.0,1148.40 L1625.0,1141.60 L1625.2,1140.10 L1626.0,1145.80 L1627.0,1152.00 L1628.0,1152.60 L1629.0,1149.10 L1630.0,1152.60 L1631.0,1155.10 L1632.0,1151.40 L1633.0,1147.10 L1634.0,1151.40 L1635.0,1152.60 L1636.0,1149.10 L1637.0,1152.60 L1638.0,1150.20 L1639.0,1145.10 L1640.0,1150.20 L1641.0,1143.00 L1642.0,1131.20 L1642.7,1122.10 L1643.0,1126.10 L1644.0,1138.50 L1645.0,1140.50 L1646.0,1130.10 L1647.0,1140.50 L1648.0,1132.80 L1649.0,1116.50 L1649.7,1104.10 L1650.0,1109.50 L1651.0,1126.50 L1652.0,1136.00 L1652.2,1134.10 L1653.0,1141.50 L1654.0,1149.60 L1655.0,1152.10 L1656.0,1147.20 L1656.4,1145.10 L1657.0,1148.30 L1658.0,1153.00 L1659.0,1156.60 L1660.0,1157.10 L1661.0,1154.90 L1662.0,1149.60 L1663.0,1143.20 L1663.3,1141.10 L1664.0,1145.80 L1665.0,1151.90 L1665.6,1151.10 L1666.0,1152.20 L1667.0,1154.70 L1668.0,1156.70 L1669.0,1157.10 L1670.0,1153.10 L1671.0,1144.70 L1672.0,1134.60 L1672.5,1129.10 L1673.0,1134.60 L1674.0,1136.10 L1675.0,1119.50 L1676.0,1101.00 L1676.1,1099.10 L1677.0,1116.00 L1678.0,1127.10 L1679.0,1138.50 L1680.0,1148.40 L1681.0,1147.10 L1682.0,1151.40 L1683.0,1155.10 L1684.0,1157.10 L1685.0,1155.80 L1686.0,1152.10 L1687.0,1147.60 L1687.3,1146.10 L1688.0,1149.50 L1689.0,1153.70 L1690.0,1148.40 L1691.0,1141.60 L1691.2,1140.10 L1692.0,1145.80 L1693.0,1152.00 L1694.0,1156.70 L1695.0,1156.70 L1696.0,1153.70 L1697.0,1149.80 L1697.6,1147.10 L1698.0,1148.90 L1699.0,1153.00 L1700.0,1156.30 L1701.0,1153.40 L1702.0,1147.80 L1703.0,1141.10 L1704.0,1147.80 L1705.0,1153.40 L1706.0,1157.10 L1718.0,1157.10 L1719.0,1155.50 L1720.0,1151.70 L1721.0,1147.10 L1721.2,1146.10 L1722.0,1149.90 L1723.0,1154.10 L1724.0,1157.10 L1726.0,1157.10 L1727.0,1154.80 L1728.0,1150.80 L1729.0,1146.10 L1730.0,1150.80 L1731.0,1154.80 L1732.0,1153.80 L1733.0,1151.10 L1734.0,1153.80 L1735.0,1156.00 L1736.0,1157.10 L1739.0,1157.10 L1740.0,1154.60 L1741.0,1150.20 L1742.0,1145.10 L1743.0,1150.20 L1744.0,1154.60 L1745.0,1157.10 L1748.0,1157.10 L1749.0,1156.00 L1750.0,1153.80 L1751.0,1151.10 L1752.0,1153.80 L1753.0,1156.00 L1754.0,1156.00 L1755.0,1153.80 L1756.0,1151.10 L1757.0,1153.80 L1758.0,1156.00 L1759.0,1157.10 L1770.0,1157.10 L1771.0,1156.30 L1772.0,1152.50 L1773.0,1147.70 L1773.5,1145.10 L1774.0,1147.70 L1775.0,1152.50 L1776.0,1156.30 L1777.0,1157.10 L1783.0,1157.10 L1784.0,1156.70 L1785.0,1153.70 L1786.0,1149.80 L1786.6,1147.10 L1787.0,1148.90 L1788.0,1153.00 L1789.0,1155.80 L1790.0,1152.10 L1791.0,1147.60 L1791.3,1146.10 L1792.0,1149.50 L1793.0,1153.70 L1794.0,1157.10 L1805.0,1157.10 L1806.0,1154.60 L1807.0,1150.20 L1808.0,1145.10 L1809.0,1150.20 L1810.0,1154.60 L1811.0,1153.50 L1811.6,1152.10 L1812.0,1153.00 L1813.0,1155.20 L1814.0,1156.80 L1815.0,1157.10 L1817.0,1157.10 L1818.0,1154.80 L1819.0,1150.80 L1820.0,1146.10 L1821.0,1150.80 L1822.0,1150.80 L1823.0,1146.10 L1824.0,1150.80 L1825.0,1149.00 L1825.6,1146.10 L1826.0,1148.10 L1827.0,1152.50 L1828.0,1156.10 L1829.0,1157.10 L1839.0,1157.10 L1840.0,1154.40 L1841.0,1149.00 L1842.0,1142.50 L1842.2,1141.10 L1843.0,1146.50 L1844.0,1152.40 L1845.0,1156.80 L1846.0,1157.10 L1855.0,1157.10 L1856.0,1155.10 L1857.0,1151.40 L1858.0,1147.10 L1859.0,1151.40 L1860.0,1155.10 L1861.0,1157.10 L1863.0,1157.10 L1864.0,1154.60 L1865.0,1150.20 L1866.0,1145.10 L1867.0,1150.20 L1868.0,1154.60 L1869.0,1157.10 L1884.0,1157.10 L1885.0,1155.90 L1886.0,1153.90 L1886.8,1152.10 L1887.0,1152.60 L1888.0,1154.80 L1889.0,1156.50 L1890.0,1151.40 L1891.0,1142.40 L1892.0,1131.80 L1892.3,1128.40 L1893.0,1136.20 L1894.0,1146.20 L1895.0,1154.40 L1896.0,1157.10 L1963.0,1157.10 L1964.0,1156.20 L1965.0,1154.40 L1966.0,1152.10 L1967.0,1154.40 L1968.0,1156.20 L1969.0,1154.10 L1970.0,1149.90 L1970.8,1146.10 L1971.0,1147.10 L1972.0,1151.70 L1973.0,1153.50 L1973.6,1152.10 L1974.0,1153.00 L1975.0,1155.20 L1976.0,1156.80 L1977.0,1157.10 L1984.0,1157.10 L1985.0,1156.20 L1986.0,1154.40 L1987.0,1152.10 L1988.0,1154.40 L1989.0,1156.20 L1990.0,1157.10 L1991.0,1155.30 L1992.0,1153.30 L1992.5,1152.10 L1993.0,1153.30 L1994.0,1155.30 L1995.0,1155.70 L1996.0,1153.70 L1996.7,1152.10 L1997.0,1152.80 L1998.0,1155.00 L1999.0,1150.10 L2000.0,1142.20 L2000.8,1135.10 L2001.0,1136.90 L2002.0,1145.50 L2003.0,1149.80 L2003.6,1147.10 L2004.0,1148.90 L2005.0,1153.00 L2006.0,1156.30 L2007.0,1153.30 L2008.0,1149.00 L2008.6,1146.10 L2009.0,1148.10 L2010.0,1152.50 L2011.0,1156.10 L2012.0,1155.50 L2013.0,1151.70 L2014.0,1147.10 L2014.2,1146.10 L2015.0,1149.90 L2016.0,1154.10 L2017.0,1157.10 L2028.0,1157.10 L2029.0,1154.60 L2030.0,1150.20 L2031.0,1145.10 L2032.0,1150.20 L2033.0,1147.80 L2034.0,1141.10 L2035.0,1147.80 L2036.0,1153.40 L2037.0,1150.20 L2038.0,1143.90 L2038.4,1141.10 L2039.0,1145.20 L2040.0,1151.30 L2041.0,1153.30 L2042.0,1149.00 L2042.6,1146.10 L2043.0,1148.10 L2044.0,1152.50 L2045.0,1156.10 L2046.0,1156.40 L2047.0,1151.90 L2048.0,1145.80 L2048.7,1141.10 L2049.0,1143.20 L2050.0,1149.60 L2051.0,1154.90 L2052.0,1157.10 L2053.0,1157.10 L2054.0,1156.30 L2055.0,1152.50 L2056.0,1147.70 L2056.5,1145.10 L2057.0,1147.70 L2058.0,1152.50 L2059.0,1155.70 L2060.0,1153.70 L2060.7,1152.10 L2061.0,1152.80 L2062.0,1155.00 L2063.0,1155.90 L2064.0,1153.90 L2064.8,1152.10 L2065.0,1152.60 L2066.0,1153.30 L2067.0,1149.00 L2067.6,1146.10 L2068.0,1148.10 L2069.0,1152.50 L2069.0,1157.10 Z" fill="#5CACEE"/>
<rect x="704.0" y="1156.65" width="1431.0" height="1.3" fill="#000" fill-opacity="0.8"/>
<rect x="157.80" y="1164.55" width="4.4" height="159.90" fill="#000"/>
<rect x="148.5" y="1314.75" width="11.50" height="4.4" fill="#333333"/>
<rect x="148.5" y="1277.53" width="11.50" height="4.4" fill="#333333"/>
<rect x="148.5" y="1240.31" width="11.50" height="4.4" fill="#333333"/>
<rect x="148.5" y="1203.09" width="11.50" height="4.4" fill="#333333"/>
<rect x="148.5" y="1165.87" width="11.50" height="4.4" fill="#333333"/>
<text x="431.50" y="1257.75" font-size="37.40" fill="#1A1A1A" text-anchor="middle" textLength="357.78" lengthAdjust="spacingAndGlyphs">WT Dlk1+ Reticular</text>
<path d="M774.0,1316.95 L774.0,1316.95 L775.0,1316.25 L776.0,1315.05 L777.0,1316.05 L778.0,1316.05 L779.0,1314.25 L780.0,1311.95 L781.0,1314.25 L782.0,1316.05 L783.0,1316.95 L784.0,1316.25 L785.0,1314.75 L786.0,1312.95 L787.0,1314.75 L788.0,1316.15 L789.0,1315.25 L790.0,1315.55 L791.0,1315.35 L792.0,1314.05 L793.0,1314.65 L794.0,1316.15 L795.0,1315.95 L796.0,1315.35 L797.0,1313.75 L797.4,1312.95 L798.0,1314.05 L799.0,1314.35 L800.0,1315.25 L801.0,1316.45 L802.0,1316.35 L803.0,1316.15 L804.0,1316.65 L805.0,1316.45 L806.0,1315.25 L807.0,1315.05 L808.0,1315.75 L809.0,1315.55 L810.0,1314.95 L811.0,1315.85 L812.0,1316.25 L813.0,1315.55 L814.0,1315.85 L815.0,1314.95 L816.0,1315.85 L817.0,1316.65 L818.0,1316.35 L819.0,1315.25 L820.0,1315.55 L821.0,1315.05 L822.0,1315.45 L823.0,1316.35 L824.0,1316.25 L825.0,1316.35 L826.0,1316.55 L827.0,1316.25 L828.0,1316.25 L829.0,1316.55 L830.0,1316.95 L831.0,1316.25 L832.0,1314.75 L833.0,1315.05 L834.0,1316.15 L835.0,1316.15 L836.0,1315.75 L837.0,1314.85 L838.0,1315.95 L839.0,1315.85 L840.0,1314.95 L841.0,1315.55 L842.0,1315.75 L843.0,1315.45 L844.0,1315.65 L845.0,1314.65 L846.0,1314.95 L847.0,1315.85 L848.0,1315.35 L849.0,1315.35 L850.0,1313.95 L851.0,1315.35 L852.0,1316.45 L853.0,1316.55 L854.0,1315.75 L855.0,1315.65 L856.0,1315.85 L857.0,1316.55 L858.0,1316.55 L859.0,1315.85 L860.0,1314.95 L861.0,1315.75 L862.0,1316.55 L863.0,1316.95 L864.0,1316.95 L865.0,1316.35 L866.0,1316.05 L867.0,1316.25 L868.0,1316.25 L869.0,1316.45 L870.0,1316.95 L871.0,1316.95 L872.0,1316.55 L873.0,1316.45 L874.0,1316.55 L875.0,1316.05 L876.0,1315.95 L877.0,1316.35 L878.0,1316.65 L879.0,1315.85 L880.0,1314.95 L881.0,1315.85 L882.0,1316.55 L883.0,1316.95 L884.0,1316.45 L885.0,1315.75 L886.0,1315.75 L887.0,1315.85 L888.0,1316.15 L889.0,1315.95 L890.0,1315.65 L891.0,1315.95 L892.0,1316.35 L893.0,1315.85 L894.0,1315.85 L895.0,1314.95 L896.0,1315.85 L897.0,1316.15 L898.0,1315.95 L899.0,1315.95 L900.0,1315.95 L901.0,1316.45 L902.0,1316.45 L903.0,1316.45 L904.0,1315.75 L905.0,1315.25 L906.0,1315.25 L907.0,1313.55 L907.3,1312.95 L908.0,1314.25 L909.0,1315.85 L910.0,1316.95 L911.0,1316.55 L912.0,1316.25 L913.0,1316.45 L914.0,1315.35 L915.0,1313.95 L916.0,1315.35 L917.0,1316.45 L918.0,1316.35 L919.0,1316.15 L920.0,1316.45 L921.0,1316.95 L922.0,1316.95 L923.0,1315.75 L924.0,1313.75 L924.8,1311.95 L925.0,1312.45 L926.0,1314.65 L927.0,1315.55 L928.0,1313.55 L928.7,1311.95 L929.0,1312.65 L930.0,1314.85 L931.0,1316.45 L932.0,1316.95 L934.0,1316.95 L935.0,1316.45 L936.0,1314.35 L937.0,1311.75 L937.3,1310.95 L938.0,1312.85 L939.0,1315.25 L940.0,1316.35 L941.0,1315.55 L942.0,1315.55 L943.0,1315.85 L944.0,1316.25 L945.0,1316.05 L946.0,1315.25 L947.0,1315.15 L948.0,1314.75 L949.0,1312.95 L950.0,1314.75 L951.0,1315.75 L952.0,1316.05 L953.0,1316.45 L954.0,1315.35 L955.0,1313.95 L956.0,1315.35 L957.0,1316.45 L958.0,1316.65 L959.0,1316.05 L960.0,1316.25 L961.0,1315.35 L962.0,1313.95 L963.0,1315.35 L964.0,1316.25 L965.0,1315.75 L966.0,1315.55 L967.0,1316.35 L968.0,1316.55 L969.0,1316.25 L970.0,1313.85 L971.0,1310.95 L971.3,1309.95 L972.0,1312.15 L973.0,1314.95 L974.0,1316.15 L975.0,1316.25 L976.0,1316.65 L977.0,1315.55 L978.0,1314.25 L978.2,1313.95 L979.0,1315.05 L980.0,1316.25 L981.0,1316.05 L982.0,1316.45 L983.0,1316.25 L984.0,1315.35 L985.0,1313.95 L986.0,1315.35 L987.0,1316.45 L988.0,1315.75 L989.0,1312.65 L990.0,1308.75 L990.2,1307.95 L991.0,1311.15 L992.0,1314.55 L993.0,1316.55 L994.0,1316.95 L995.0,1316.55 L996.0,1313.95 L997.0,1303.35 L998.0,1290.15 L999.0,1275.15 L999.1,1273.55 L1000.0,1287.25 L1001.0,1300.85 L1002.0,1308.65 L1002.7,1304.45 L1003.0,1301.75 L1004.0,1291.95 L1005.0,1287.25 L1006.0,1270.55 L1006.3,1265.25 L1007.0,1277.45 L1008.0,1293.45 L1009.0,1306.95 L1010.0,1308.25 L1011.0,1312.55 L1012.0,1313.05 L1013.0,1309.95 L1014.0,1313.05 L1015.0,1315.65 L1016.0,1313.05 L1017.0,1309.95 L1018.0,1313.05 L1019.0,1315.65 L1020.0,1315.85 L1021.0,1314.55 L1021.4,1313.95 L1022.0,1314.75 L1023.0,1314.45 L1024.0,1314.25 L1025.0,1315.05 L1026.0,1315.05 L1027.0,1314.85 L1028.0,1314.75 L1029.0,1314.25 L1029.7,1312.95 L1030.0,1313.55 L1031.0,1313.95 L1032.0,1313.15 L1033.0,1311.95 L1034.0,1314.25 L1035.0,1313.65 L1036.0,1310.95 L1037.0,1313.15 L1038.0,1314.15 L1039.0,1312.35 L1039.5,1310.95 L1040.0,1311.95 L1041.0,1305.05 L1042.0,1296.95 L1043.0,1302.35 L1044.0,1286.65 L1045.0,1268.65 L1045.6,1256.95 L1046.0,1264.75 L1047.0,1283.15 L1048.0,1299.45 L1049.0,1312.65 L1050.0,1315.85 L1051.0,1315.85 L1052.0,1314.95 L1053.0,1315.85 L1054.0,1316.65 L1055.0,1316.95 L1056.0,1316.45 L1057.0,1315.35 L1058.0,1315.35 L1059.0,1315.35 L1060.0,1314.95 L1061.0,1315.65 L1061.7,1314.95 L1062.0,1315.25 L1063.0,1316.05 L1064.0,1315.85 L1065.0,1315.85 L1066.0,1316.55 L1067.0,1315.85 L1068.0,1314.95 L1069.0,1315.85 L1070.0,1316.25 L1071.0,1316.55 L1072.0,1316.45 L1073.0,1315.75 L1074.0,1314.75 L1075.0,1315.55 L1075.6,1314.95 L1076.0,1315.35 L1077.0,1314.75 L1078.0,1314.15 L1079.0,1314.95 L1080.0,1314.65 L1081.0,1314.75 L1082.0,1315.55 L1083.0,1315.25 L1084.0,1313.65 L1085.0,1314.05 L1086.0,1315.45 L1087.0,1315.15 L1088.0,1315.45 L1089.0,1314.55 L1089.5,1313.95 L1090.0,1314.65 L1091.0,1315.65 L1092.0,1315.65 L1093.0,1315.65 L1094.0,1316.25 L1095.0,1316.25 L1096.0,1315.45 L1096.5,1314.95 L1097.0,1315.45 L1098.0,1316.25 L1099.0,1315.25 L1100.0,1315.75 L1101.0,1316.65 L1102.0,1316.05 L1103.0,1314.35 L1104.0,1315.05 L1105.0,1314.65 L1106.0,1314.05 L1107.0,1316.05 L1108.0,1315.95 L1109.0,1314.05 L1110.0,1315.15 L1111.0,1316.15 L1112.0,1315.75 L1113.0,1316.05 L1114.0,1315.45 L1115.0,1314.75 L1116.0,1312.95 L1117.0,1314.75 L1118.0,1313.15 L1118.8,1310.95 L1119.0,1311.55 L1120.0,1314.15 L1121.0,1316.25 L1122.0,1316.35 L1123.0,1315.05 L1124.0,1314.95 L1125.0,1315.45 L1126.0,1315.15 L1127.0,1314.95 L1128.0,1315.85 L1129.0,1316.65 L1130.0,1315.85 L1131.0,1314.95 L1131.8,1314.95 L1132.0,1315.05 L1133.0,1316.05 L1134.0,1315.75 L1135.0,1315.45 L1136.0,1314.75 L1137.0,1315.05 L1138.0,1315.85 L1139.0,1316.05 L1140.0,1315.85 L1141.0,1316.25 L1142.0,1316.45 L1143.0,1315.95 L1144.0,1316.05 L1145.0,1315.95 L1146.0,1315.15 L1147.0,1315.75 L1148.0,1315.65 L1149.0,1313.05 L1150.0,1309.95 L1151.0,1313.05 L1152.0,1315.55 L1153.0,1313.85 L1153.5,1312.95 L1154.0,1313.85 L1155.0,1315.55 L1156.0,1316.25 L1157.0,1314.75 L1158.0,1312.95 L1159.0,1314.75 L1160.0,1316.25 L1161.0,1314.75 L1162.0,1312.95 L1163.0,1314.75 L1164.0,1316.15 L1165.0,1314.95 L1166.0,1315.75 L1167.0,1315.95 L1168.0,1316.25 L1169.0,1315.35 L1170.0,1313.95 L1171.0,1315.35 L1172.0,1315.35 L1173.0,1316.25 L1174.0,1315.35 L1175.0,1313.95 L1176.0,1315.35 L1177.0,1315.05 L1178.0,1315.95 L1179.0,1315.35 L1180.0,1313.95 L1181.0,1315.35 L1182.0,1316.45 L1183.0,1316.95 L1184.0,1316.05 L1185.0,1314.15 L1186.0,1313.95 L1187.0,1314.75 L1188.0,1315.95 L1189.0,1315.65 L1190.0,1315.65 L1191.0,1316.65 L1192.0,1316.05 L1193.0,1314.65 L1194.0,1315.35 L1195.0,1315.25 L1196.0,1315.65 L1197.0,1315.45 L1198.0,1316.15 L1199.0,1316.25 L1200.0,1316.15 L1201.0,1316.95 L1202.0,1315.95 L1203.0,1314.35 L1204.0,1315.05 L1205.0,1313.75 L1206.0,1313.35 L1207.0,1313.35 L1208.0,1312.65 L1209.0,1313.95 L1210.0,1315.35 L1211.0,1316.15 L1212.0,1315.05 L1213.0,1315.25 L1214.0,1315.65 L1215.0,1315.35 L1216.0,1313.95 L1217.0,1315.75 L1218.0,1316.35 L1219.0,1314.85 L1220.0,1314.05 L1221.0,1314.75 L1222.0,1315.95 L1223.0,1316.65 L1224.0,1315.85 L1225.0,1314.85 L1226.0,1315.05 L1227.0,1316.45 L1228.0,1316.25 L1229.0,1314.15 L1230.0,1313.25 L1231.0,1315.05 L1232.0,1316.45 L1233.0,1315.95 L1234.0,1315.45 L1235.0,1316.05 L1236.0,1316.95 L1237.0,1315.75 L1238.0,1312.85 L1239.0,1312.95 L1240.0,1315.85 L1241.0,1314.95 L1242.0,1315.85 L1243.0,1316.65 L1244.0,1316.55 L1245.0,1316.95 L1246.0,1316.45 L1247.0,1315.65 L1248.0,1316.45 L1249.0,1316.05 L1250.0,1314.35 L1251.0,1314.95 L1252.0,1316.15 L1253.0,1316.95 L1254.0,1316.45 L1255.0,1314.35 L1256.0,1313.35 L1257.0,1315.35 L1258.0,1315.95 L1259.0,1315.25 L1260.0,1312.85 L1260.7,1310.95 L1261.0,1311.75 L1262.0,1314.35 L1263.0,1315.95 L1264.0,1313.05 L1265.0,1312.45 L1266.0,1314.95 L1267.0,1316.25 L1268.0,1316.45 L1269.0,1315.35 L1270.0,1313.95 L1271.0,1315.35 L1272.0,1316.45 L1273.0,1316.95 L1274.0,1316.45 L1275.0,1315.55 L1276.0,1313.25 L1277.0,1313.75 L1278.0,1315.95 L1279.0,1315.35 L1280.0,1313.95 L1281.0,1315.35 L1282.0,1315.75 L1283.0,1315.35 L1284.0,1313.25 L1285.0,1308.65 L1285.7,1304.95 L1286.0,1306.55 L1287.0,1311.45 L1288.0,1314.95 L1289.0,1311.25 L1290.0,1306.95 L1291.0,1311.25 L1292.0,1306.15 L1293.0,1298.05 L1293.2,1296.35 L1294.0,1303.05 L1295.0,1310.45 L1296.0,1316.15 L1297.0,1316.35 L1298.0,1314.25 L1299.0,1312.85 L1300.0,1314.55 L1301.0,1315.55 L1302.0,1314.65 L1303.0,1316.05 L1304.0,1316.45 L1305.0,1315.75 L1306.0,1316.25 L1307.0,1316.25 L1308.0,1316.65 L1309.0,1316.95 L1310.0,1315.75 L1311.0,1313.05 L1312.0,1313.25 L1313.0,1314.05 L1313.6,1312.95 L1314.0,1313.75 L1315.0,1315.45 L1316.0,1315.35 L1317.0,1316.15 L1318.0,1316.05 L1319.0,1315.55 L1320.0,1315.95 L1321.0,1315.35 L1322.0,1306.55 L1323.0,1295.05 L1324.0,1281.95 L1324.1,1280.55 L1325.0,1292.55 L1326.0,1304.35 L1327.0,1313.95 L1328.0,1316.15 L1329.0,1315.35 L1330.0,1316.35 L1331.0,1315.85 L1332.0,1313.65 L1333.0,1310.95 L1334.0,1313.65 L1335.0,1315.85 L1336.0,1314.75 L1337.0,1314.25 L1338.0,1315.25 L1339.0,1314.85 L1340.0,1316.15 L1341.0,1316.95 L1342.0,1316.25 L1343.0,1315.15 L1344.0,1316.05 L1345.0,1316.45 L1346.0,1316.95 L1347.0,1316.95 L1348.0,1316.35 L1349.0,1315.25 L1350.0,1314.25 L1351.0,1314.55 L1352.0,1315.65 L1353.0,1315.85 L1354.0,1313.65 L1355.0,1310.95 L1356.0,1313.65 L1357.0,1313.65 L1358.0,1310.95 L1359.0,1313.65 L1360.0,1315.85 L1361.0,1316.45 L1362.0,1316.55 L1363.0,1316.65 L1364.0,1316.45 L1365.0,1316.05 L1366.0,1316.55 L1367.0,1316.95 L1368.0,1316.45 L1369.0,1310.25 L1370.0,1301.75 L1371.0,1291.95 L1372.0,1292.35 L1373.0,1275.25 L1373.9,1258.25 L1374.0,1260.25 L1375.0,1278.85 L1376.0,1295.55 L1376.5,1291.95 L1377.0,1296.95 L1378.0,1306.15 L1379.0,1313.45 L1380.0,1310.05 L1380.3,1308.95 L1381.0,1311.45 L1382.0,1314.65 L1383.0,1316.95 L1386.0,1316.95 L1387.0,1316.65 L1388.0,1316.45 L1389.0,1316.25 L1390.0,1315.95 L1391.0,1314.65 L1391.5,1313.95 L1392.0,1314.65 L1393.0,1315.85 L1394.0,1315.25 L1395.0,1316.05 L1396.0,1316.35 L1397.0,1315.35 L1398.0,1313.95 L1399.0,1315.35 L1400.0,1316.45 L1401.0,1316.15 L1402.0,1315.55 L1403.0,1315.75 L1404.0,1315.55 L1405.0,1314.55 L1405.4,1313.95 L1406.0,1314.75 L1407.0,1315.55 L1408.0,1315.85 L1409.0,1315.85 L1410.0,1316.55 L1411.0,1316.95 L1412.0,1316.95 L1413.0,1316.35 L1414.0,1315.75 L1415.0,1316.35 L1416.0,1316.95 L1417.0,1316.65 L1418.0,1316.55 L1419.0,1316.45 L1420.0,1316.45 L1421.0,1316.65 L1422.0,1316.95 L1423.0,1316.65 L1424.0,1315.85 L1425.0,1314.95 L1426.0,1315.85 L1427.0,1316.45 L1428.0,1316.25 L1429.0,1316.65 L1430.0,1316.95 L1431.0,1316.95 L1432.0,1316.65 L1433.0,1316.05 L1434.0,1316.15 L1435.0,1315.85 L1436.0,1314.95 L1437.0,1315.55 L1438.0,1315.35 L1439.0,1316.25 L1440.0,1316.95 L1441.0,1316.95 L1442.0,1316.15 L1443.0,1316.25 L1444.0,1316.35 L1445.0,1312.45 L1446.0,1307.35 L1446.6,1303.95 L1447.0,1306.25 L1448.0,1311.45 L1449.0,1315.65 L1450.0,1312.45 L1451.0,1308.35 L1451.3,1306.95 L1452.0,1310.05 L1453.0,1310.35 L1454.0,1303.65 L1454.6,1299.15 L1455.0,1302.15 L1456.0,1309.15 L1457.0,1314.75 L1458.0,1316.45 L1459.0,1316.25 L1460.0,1314.75 L1461.0,1312.95 L1462.0,1314.75 L1463.0,1315.85 L1464.0,1315.75 L1465.0,1315.95 L1466.0,1316.45 L1467.0,1316.55 L1468.0,1314.55 L1469.0,1312.05 L1469.4,1310.95 L1470.0,1312.65 L1471.0,1315.05 L1472.0,1315.85 L1473.0,1313.65 L1474.0,1310.95 L1475.0,1313.65 L1476.0,1315.85 L1477.0,1316.65 L1478.0,1316.65 L1479.0,1316.65 L1480.0,1316.95 L1481.0,1316.95 L1482.0,1315.65 L1483.0,1314.35 L1483.3,1313.95 L1484.0,1314.95 L1485.0,1316.15 L1486.0,1316.95 L1487.0,1316.55 L1488.0,1316.45 L1489.0,1310.75 L1490.0,1302.85 L1491.0,1293.55 L1492.0,1302.85 L1493.0,1310.75 L1494.0,1316.55 L1495.0,1316.25 L1496.0,1314.15 L1497.0,1311.55 L1497.2,1310.95 L1498.0,1313.15 L1499.0,1315.45 L1500.0,1316.95 L1501.0,1316.45 L1502.0,1316.55 L1503.0,1316.55 L1504.0,1316.95 L1505.0,1316.35 L1506.0,1315.35 L1507.0,1313.95 L1508.0,1315.35 L1509.0,1316.15 L1510.0,1316.55 L1511.0,1316.55 L1512.0,1316.55 L1513.0,1316.65 L1514.0,1316.55 L1515.0,1316.15 L1516.0,1316.45 L1517.0,1316.55 L1518.0,1316.35 L1519.0,1316.65 L1520.0,1316.95 L1521.0,1316.45 L1522.0,1316.45 L1523.0,1316.95 L1525.0,1316.95 L1526.0,1316.65 L1527.0,1316.45 L1528.0,1316.95 L1529.0,1316.55 L1530.0,1315.95 L1531.0,1316.55 L1532.0,1316.65 L1533.0,1315.75 L1534.0,1315.05 L1535.0,1315.35 L1536.0,1316.45 L1537.0,1316.55 L1538.0,1315.45 L1539.0,1314.95 L1540.0,1315.85 L1541.0,1316.35 L1542.0,1315.45 L1543.0,1314.35 L1544.0,1315.05 L1545.0,1316.15 L1546.0,1315.85 L1547.0,1314.35 L1548.0,1314.25 L1549.0,1313.65 L1550.0,1313.95 L1551.0,1313.35 L1552.0,1314.25 L1553.0,1315.95 L1554.0,1315.85 L1555.0,1315.55 L1555.6,1314.95 L1556.0,1315.35 L1557.0,1314.85 L1558.0,1313.25 L1559.0,1314.25 L1560.0,1315.75 L1561.0,1314.45 L1562.0,1312.45 L1563.0,1312.95 L1564.0,1315.15 L1565.0,1313.95 L1566.0,1315.35 L1567.0,1313.75 L1568.0,1314.15 L1569.0,1314.05 L1570.0,1312.95 L1571.0,1314.75 L1572.0,1313.45 L1573.0,1313.75 L1574.0,1315.25 L1575.0,1313.95 L1576.0,1315.35 L1577.0,1314.95 L1578.0,1313.75 L1579.0,1313.75 L1580.0,1313.35 L1580.7,1311.95 L1581.0,1312.65 L1582.0,1314.85 L1583.0,1314.25 L1584.0,1314.05 L1585.0,1313.65 L1586.0,1314.95 L1587.0,1314.75 L1588.0,1315.75 L1589.0,1315.75 L1590.0,1315.75 L1591.0,1316.65 L1592.0,1315.95 L1593.0,1314.35 L1594.0,1314.55 L1595.0,1313.75 L1596.0,1314.65 L1597.0,1316.25 L1598.0,1315.85 L1599.0,1315.05 L1600.0,1314.65 L1601.0,1313.95 L1602.0,1315.65 L1603.0,1315.65 L1604.0,1313.55 L1605.0,1312.95 L1606.0,1314.45 L1607.0,1314.05 L1608.0,1313.75 L1609.0,1314.55 L1610.0,1315.05 L1611.0,1314.85 L1612.0,1313.55 L1612.7,1311.95 L1613.0,1312.65 L1614.0,1314.85 L1615.0,1314.75 L1616.0,1315.95 L1617.0,1316.05 L1618.0,1315.45 L1619.0,1316.25 L1620.0,1314.75 L1621.0,1312.95 L1622.0,1314.75 L1623.0,1316.25 L1624.0,1316.05 L1625.0,1314.85 L1626.0,1315.35 L1627.0,1315.95 L1628.0,1316.15 L1629.0,1316.25 L1630.0,1315.85 L1631.0,1316.05 L1632.0,1315.45 L1633.0,1316.05 L1634.0,1316.25 L1635.0,1315.15 L1636.0,1314.95 L1637.0,1314.95 L1638.0,1314.95 L1639.0,1315.95 L1640.0,1314.85 L1641.0,1311.55 L1641.9,1307.95 L1642.0,1308.35 L1643.0,1311.85 L1644.0,1307.95 L1645.0,1311.85 L1646.0,1315.15 L1647.0,1314.65 L1648.0,1313.25 L1649.0,1308.65 L1649.7,1304.95 L1650.0,1306.55 L1651.0,1311.45 L1652.0,1313.65 L1653.0,1310.95 L1654.0,1313.65 L1655.0,1315.75 L1656.0,1313.65 L1657.0,1313.55 L1658.0,1314.35 L1658.6,1313.95 L1659.0,1313.95 L1660.0,1312.65 L1661.0,1312.95 L1662.0,1311.85 L1662.8,1308.95 L1663.0,1309.65 L1664.0,1313.15 L1665.0,1309.55 L1666.0,1302.85 L1666.4,1299.95 L1667.0,1304.25 L1668.0,1308.35 L1668.3,1306.95 L1669.0,1310.05 L1670.0,1313.95 L1671.0,1311.95 L1672.0,1305.05 L1673.0,1296.95 L1674.0,1286.15 L1675.0,1269.05 L1675.3,1263.55 L1676.0,1276.05 L1677.0,1292.45 L1677.5,1296.95 L1678.0,1301.15 L1679.0,1308.65 L1680.0,1311.25 L1681.0,1306.95 L1682.0,1311.25 L1683.0,1314.95 L1684.0,1314.35 L1685.0,1313.75 L1686.0,1310.45 L1686.4,1308.95 L1687.0,1311.15 L1688.0,1314.35 L1689.0,1315.35 L1690.0,1314.75 L1690.6,1313.95 L1691.0,1314.55 L1692.0,1315.85 L1693.0,1316.35 L1694.0,1315.45 L1695.0,1315.75 L1696.0,1316.45 L1697.0,1315.35 L1698.0,1313.95 L1699.0,1315.35 L1700.0,1316.45 L1701.0,1316.55 L1702.0,1315.95 L1703.0,1316.45 L1704.0,1316.15 L1705.0,1315.35 L1706.0,1313.95 L1707.0,1315.35 L1708.0,1316.45 L1709.0,1316.05 L1710.0,1316.05 L1711.0,1316.55 L1712.0,1316.55 L1713.0,1315.85 L1714.0,1315.85 L1715.0,1316.35 L1716.0,1316.35 L1717.0,1315.95 L1718.0,1315.85 L1719.0,1316.65 L1720.0,1316.95 L1721.0,1316.65 L1722.0,1316.65 L1723.0,1316.45 L1724.0,1315.85 L1725.0,1314.95 L1726.0,1315.65 L1727.0,1316.25 L1728.0,1316.35 L1729.0,1316.45 L1730.0,1316.95 L1733.0,1316.95 L1734.0,1316.15 L1735.0,1315.35 L1736.0,1315.95 L1737.0,1315.75 L1738.0,1315.85 L1739.0,1315.85 L1740.0,1314.95 L1741.0,1315.85 L1742.0,1314.95 L1743.0,1314.75 L1744.0,1315.65 L1745.0,1315.35 L1746.0,1313.95 L1747.0,1315.35 L1748.0,1316.45 L1749.0,1316.65 L1750.0,1316.65 L1751.0,1316.55 L1752.0,1316.15 L1753.0,1316.35 L1754.0,1316.35 L1755.0,1316.35 L1756.0,1315.65 L1757.0,1315.65 L1758.0,1316.55 L1759.0,1316.95 L1760.0,1316.55 L1761.0,1316.15 L1762.0,1316.65 L1763.0,1316.65 L1764.0,1316.25 L1765.0,1316.45 L1766.0,1316.15 L1767.0,1315.95 L1768.0,1316.35 L1769.0,1315.55 L1770.0,1314.85 L1771.0,1315.25 L1772.0,1315.75 L1773.0,1315.25 L1774.0,1315.65 L1775.0,1316.35 L1776.0,1316.05 L1777.0,1314.25 L1778.0,1311.95 L1779.0,1314.25 L1780.0,1316.05 L1781.0,1315.05 L1782.0,1312.85 L1782.4,1311.95 L1783.0,1313.35 L1784.0,1315.35 L1785.0,1316.45 L1786.0,1316.05 L1787.0,1316.05 L1788.0,1316.25 L1789.0,1316.05 L1790.0,1316.45 L1791.0,1316.55 L1792.0,1316.55 L1793.0,1316.55 L1794.0,1316.65 L1795.0,1316.95 L1796.0,1316.95 L1797.0,1316.35 L1798.0,1316.95 L1800.0,1316.95 L1801.0,1316.65 L1802.0,1316.15 L1803.0,1316.05 L1804.0,1316.25 L1805.0,1316.15 L1806.0,1316.35 L1807.0,1315.35 L1808.0,1313.95 L1809.0,1315.35 L1810.0,1315.95 L1811.0,1315.95 L1812.0,1316.65 L1813.0,1316.45 L1814.0,1315.35 L1815.0,1313.95 L1816.0,1315.35 L1817.0,1316.45 L1818.0,1316.25 L1819.0,1314.75 L1820.0,1312.95 L1821.0,1314.75 L1822.0,1316.25 L1823.0,1316.35 L1824.0,1316.15 L1825.0,1316.25 L1826.0,1314.75 L1827.0,1312.95 L1828.0,1314.75 L1829.0,1316.25 L1830.0,1315.85 L1831.0,1315.95 L1832.0,1316.25 L1833.0,1316.55 L1834.0,1316.95 L1836.0,1316.95 L1837.0,1316.55 L1838.0,1316.25 L1839.0,1315.65 L1840.0,1316.05 L1841.0,1315.35 L1842.0,1314.95 L1843.0,1315.15 L1844.0,1314.85 L1845.0,1315.15 L1846.0,1316.45 L1847.0,1316.95 L1850.0,1316.95 L1851.0,1315.65 L1852.0,1314.45 L1853.0,1315.55 L1854.0,1315.85 L1855.0,1316.55 L1856.0,1316.95 L1857.0,1316.95 L1858.0,1316.15 L1859.0,1314.45 L1860.0,1314.75 L1861.0,1315.55 L1862.0,1316.35 L1863.0,1316.15 L1864.0,1315.25 L1865.0,1314.15 L1866.0,1314.45 L1867.0,1314.85 L1868.0,1315.45 L1869.0,1314.65 L1870.0,1315.25 L1871.0,1314.85 L1872.0,1316.15 L1873.0,1315.35 L1874.0,1313.95 L1875.0,1315.35 L1876.0,1315.55 L1877.0,1315.95 L1878.0,1316.25 L1879.0,1315.35 L1880.0,1313.95 L1881.0,1315.35 L1882.0,1314.85 L1883.0,1314.75 L1884.0,1315.35 L1885.0,1313.95 L1886.0,1315.05 L1887.0,1315.55 L1888.0,1316.05 L1889.0,1315.25 L1890.0,1315.15 L1891.0,1316.05 L1892.0,1316.95 L1897.0,1316.95 L1898.0,1316.15 L1899.0,1315.85 L1900.0,1315.75 L1901.0,1316.45 L1902.0,1316.25 L1903.0,1315.75 L1904.0,1315.35 L1905.0,1313.95 L1906.0,1315.35 L1907.0,1316.45 L1908.0,1316.55 L1909.0,1316.05 L1910.0,1316.45 L1911.0,1316.55 L1912.0,1316.45 L1913.0,1316.95 L1914.0,1316.45 L1915.0,1315.35 L1916.0,1313.95 L1917.0,1315.35 L1918.0,1315.65 L1919.0,1315.55 L1920.0,1315.45 L1921.0,1316.15 L1922.0,1316.95 L1923.0,1316.55 L1924.0,1315.65 L1925.0,1315.65 L1926.0,1316.05 L1927.0,1315.35 L1928.0,1316.15 L1929.0,1316.35 L1930.0,1315.55 L1931.0,1316.35 L1932.0,1316.15 L1933.0,1314.75 L1934.0,1312.95 L1935.0,1314.75 L1936.0,1315.65 L1937.0,1315.45 L1938.0,1315.15 L1939.0,1315.05 L1940.0,1315.15 L1941.0,1315.25 L1942.0,1316.05 L1943.0,1315.05 L1944.0,1312.85 L1944.4,1311.95 L1945.0,1313.35 L1946.0,1315.35 L1947.0,1315.35 L1948.0,1313.95 L1949.0,1315.35 L1950.0,1316.45 L1951.0,1315.35 L1952.0,1313.95 L1953.0,1314.45 L1954.0,1314.55 L1955.0,1315.35 L1956.0,1313.95 L1957.0,1315.35 L1958.0,1315.35 L1959.0,1315.85 L1960.0,1316.15 L1961.0,1315.55 L1962.0,1314.85 L1963.0,1312.65 L1963.3,1311.95 L1964.0,1313.55 L1965.0,1313.65 L1966.0,1310.95 L1967.0,1313.65 L1968.0,1310.85 L1969.0,1302.05 L1970.0,1291.65 L1970.2,1289.45 L1971.0,1298.05 L1972.0,1307.55 L1973.0,1315.05 L1974.0,1316.95 L1975.0,1316.65 L1976.0,1315.85 L1977.0,1314.95 L1978.0,1315.55 L1979.0,1315.75 L1980.0,1316.45 L1981.0,1316.25 L1982.0,1315.65 L1982.8,1314.95 L1983.0,1315.15 L1984.0,1315.75 L1985.0,1316.15 L1986.0,1315.75 L1987.0,1316.15 L1988.0,1315.85 L1989.0,1314.95 L1989.7,1313.95 L1990.0,1314.35 L1991.0,1315.65 L1992.0,1315.75 L1993.0,1313.55 L1994.0,1308.25 L1995.0,1301.95 L1996.0,1301.85 L1997.0,1288.25 L1998.0,1272.95 L1999.0,1288.25 L2000.0,1301.85 L2001.0,1301.95 L2002.0,1308.25 L2003.0,1313.55 L2003.6,1313.95 L2004.0,1314.55 L2005.0,1315.85 L2006.0,1315.35 L2007.0,1313.95 L2008.0,1315.35 L2009.0,1316.05 L2010.0,1314.75 L2010.6,1313.95 L2011.0,1314.55 L2012.0,1315.85 L2013.0,1316.55 L2014.0,1316.25 L2015.0,1314.45 L2016.0,1312.15 L2016.1,1311.95 L2017.0,1313.95 L2018.0,1315.95 L2019.0,1315.25 L2020.0,1313.55 L2020.3,1312.95 L2021.0,1314.25 L2022.0,1315.85 L2023.0,1316.95 L2024.0,1316.95 L2025.0,1316.55 L2026.0,1316.45 L2027.0,1316.95 L2028.0,1316.95 L2029.0,1316.25 L2030.0,1316.15 L2031.0,1316.45 L2032.0,1316.95 L2033.0,1316.95 L2034.0,1316.35 L2035.0,1315.55 L2035.6,1314.95 L2036.0,1315.35 L2037.0,1316.15 L2038.0,1316.35 L2039.0,1316.25 L2040.0,1315.95 L2041.0,1315.25 L2042.0,1315.15 L2043.0,1315.55 L2044.0,1314.95 L2045.0,1315.75 L2046.0,1315.65 L2047.0,1315.45 L2048.0,1315.35 L2049.0,1315.75 L2050.0,1316.45 L2051.0,1316.15 L2052.0,1315.25 L2052.3,1314.95 L2053.0,1315.55 L2054.0,1314.75 L2055.0,1314.85 L2056.0,1315.75 L2057.0,1315.35 L2058.0,1316.35 L2059.0,1316.95 L2060.0,1316.35 L2061.0,1315.35 L2062.0,1315.85 L2063.0,1315.45 L2063.5,1314.95 L2064.0,1315.45 L2065.0,1315.65 L2066.0,1316.45 L2066.0,1316.95 Z" fill="#FF3030"/>
<rect x="704.0" y="1316.50" width="1431.0" height="1.3" fill="#000" fill-opacity="0.8"/>
<rect x="157.80" y="1324.40" width="4.4" height="159.90" fill="#000"/>
<rect x="148.5" y="1474.60" width="11.50" height="4.4" fill="#333333"/>
<rect x="148.5" y="1437.38" width="11.50" height="4.4" fill="#333333"/>
<rect x="148.5" y="1400.16" width="11.50" height="4.4" fill="#333333"/>
<rect x="148.5" y="1362.94" width="11.50" height="4.4" fill="#333333"/>
<rect x="148.5" y="1325.72" width="11.50" height="4.4" fill="#333333"/>
<text x="431.50" y="1417.60" font-size="37.40" fill="#1A1A1A" text-anchor="middle" textLength="370.19" lengthAdjust="spacingAndGlyphs">cKO Dlk1+ Reticular</text>
<path d="M768.0,1476.80 L768.0,1474.60 L769.0,1472.80 L770.0,1474.10 L771.0,1473.60 L772.0,1475.30 L773.0,1476.30 L774.0,1476.80 L775.0,1476.20 L776.0,1475.20 L777.0,1474.60 L778.0,1472.80 L779.0,1474.60 L780.0,1474.60 L781.0,1475.10 L782.0,1476.20 L783.0,1476.40 L784.0,1475.90 L785.0,1475.50 L786.0,1472.90 L787.0,1469.80 L788.0,1472.90 L789.0,1475.50 L790.0,1475.60 L791.0,1476.30 L792.0,1476.50 L793.0,1475.90 L794.0,1475.90 L795.0,1476.30 L796.0,1475.20 L797.0,1473.80 L798.0,1475.20 L799.0,1476.10 L800.0,1476.40 L801.0,1475.80 L802.0,1475.60 L803.0,1476.00 L804.0,1476.30 L805.0,1476.00 L806.0,1475.10 L807.0,1474.80 L808.0,1474.50 L809.0,1474.80 L810.0,1475.50 L811.0,1476.00 L812.0,1475.90 L813.0,1474.10 L814.0,1471.80 L815.0,1474.10 L816.0,1475.90 L817.0,1476.00 L818.0,1475.80 L819.0,1475.10 L820.0,1474.70 L821.0,1475.90 L822.0,1476.40 L823.0,1476.00 L824.0,1476.40 L825.0,1475.20 L826.0,1473.20 L826.6,1471.80 L827.0,1472.70 L828.0,1474.90 L829.0,1475.40 L830.0,1474.60 L831.0,1472.80 L832.0,1474.60 L833.0,1476.10 L834.0,1475.60 L835.0,1475.40 L836.0,1475.30 L837.0,1476.30 L838.0,1476.50 L839.0,1476.10 L840.0,1476.40 L841.0,1476.10 L842.0,1475.70 L843.0,1475.60 L844.0,1475.30 L845.0,1475.20 L846.0,1474.80 L847.0,1474.60 L848.0,1474.80 L849.0,1475.70 L850.0,1475.20 L851.0,1474.20 L852.0,1474.80 L853.0,1475.70 L854.0,1476.50 L855.0,1476.80 L856.0,1476.40 L857.0,1476.30 L858.0,1476.50 L859.0,1476.20 L860.0,1475.80 L861.0,1476.10 L862.0,1475.50 L863.0,1475.30 L864.0,1475.80 L865.0,1475.80 L866.0,1475.60 L867.0,1475.50 L868.0,1475.90 L869.0,1475.80 L870.0,1475.60 L871.0,1475.40 L872.0,1475.50 L873.0,1475.60 L874.0,1476.40 L875.0,1476.30 L876.0,1475.60 L877.0,1476.20 L878.0,1476.30 L879.0,1475.30 L880.0,1475.10 L881.0,1475.60 L882.0,1475.90 L883.0,1476.10 L884.0,1476.40 L885.0,1476.40 L886.0,1476.00 L887.0,1476.20 L888.0,1476.00 L889.0,1476.10 L890.0,1475.60 L891.0,1475.90 L892.0,1476.20 L893.0,1475.70 L894.0,1475.90 L895.0,1476.40 L896.0,1476.50 L897.0,1476.40 L898.0,1476.50 L899.0,1475.70 L900.0,1474.80 L901.0,1475.70 L902.0,1475.80 L903.0,1475.80 L904.0,1476.10 L905.0,1476.20 L906.0,1475.90 L907.0,1475.40 L908.0,1475.10 L909.0,1475.10 L910.0,1475.20 L911.0,1475.40 L912.0,1476.10 L913.0,1476.00 L914.0,1475.70 L915.0,1474.80 L916.0,1475.70 L917.0,1476.00 L918.0,1476.10 L919.0,1475.30 L920.0,1474.80 L921.0,1475.40 L922.0,1476.30 L923.0,1476.40 L924.0,1476.10 L925.0,1474.60 L926.0,1472.80 L927.0,1474.60 L928.0,1475.80 L929.0,1476.20 L930.0,1476.10 L931.0,1475.50 L932.0,1475.80 L933.0,1474.60 L934.0,1472.80 L935.0,1474.60 L936.0,1476.10 L937.0,1476.80 L938.0,1476.80 L939.0,1475.40 L940.0,1473.40 L940.7,1471.80 L941.0,1472.50 L942.0,1474.70 L943.0,1476.30 L944.0,1476.30 L945.0,1476.20 L946.0,1476.30 L947.0,1473.50 L948.0,1469.80 L948.5,1467.80 L949.0,1469.80 L950.0,1473.50 L951.0,1475.40 L952.0,1471.90 L953.0,1467.70 L953.2,1466.80 L954.0,1470.30 L955.0,1474.10 L956.0,1476.80 L957.0,1475.30 L958.0,1473.00 L958.8,1470.80 L959.0,1471.40 L960.0,1474.00 L961.0,1476.00 L962.0,1476.40 L963.0,1476.10 L964.0,1474.60 L965.0,1472.80 L966.0,1474.60 L967.0,1474.70 L968.0,1474.80 L969.0,1474.60 L970.0,1472.80 L971.0,1474.60 L972.0,1475.30 L973.0,1475.70 L974.0,1475.60 L975.0,1474.70 L976.0,1472.50 L976.3,1471.80 L977.0,1473.40 L978.0,1475.40 L979.0,1476.40 L980.0,1476.10 L981.0,1475.70 L982.0,1476.00 L983.0,1475.30 L984.0,1474.50 L985.0,1472.80 L986.0,1474.60 L987.0,1476.10 L988.0,1476.80 L989.0,1474.20 L990.0,1468.50 L991.0,1461.60 L991.3,1459.30 L992.0,1464.40 L993.0,1470.90 L994.0,1473.80 L995.0,1474.90 L996.0,1474.80 L997.0,1465.80 L998.0,1454.10 L999.0,1440.60 L999.1,1439.20 L1000.0,1451.50 L1001.0,1457.10 L1001.9,1446.80 L1002.0,1448.00 L1003.0,1458.20 L1004.0,1446.80 L1005.0,1433.90 L1006.0,1413.30 L1006.3,1406.80 L1007.0,1421.80 L1008.0,1441.60 L1008.5,1446.80 L1009.0,1452.60 L1010.0,1463.30 L1010.2,1464.80 L1011.0,1469.00 L1012.0,1473.50 L1013.0,1473.80 L1014.0,1471.10 L1014.4,1469.80 L1015.0,1471.70 L1016.0,1473.80 L1017.0,1469.90 L1017.7,1466.80 L1018.0,1468.20 L1019.0,1472.30 L1020.0,1475.00 L1021.0,1474.40 L1022.0,1474.30 L1022.8,1472.80 L1023.0,1473.20 L1024.0,1474.90 L1025.0,1474.80 L1026.0,1473.80 L1027.0,1475.20 L1028.0,1475.50 L1029.0,1473.80 L1030.0,1472.90 L1031.0,1474.70 L1032.0,1472.20 L1032.5,1470.80 L1033.0,1472.00 L1034.0,1474.20 L1035.0,1473.50 L1036.0,1470.80 L1037.0,1473.50 L1038.0,1473.00 L1039.0,1472.20 L1039.5,1470.80 L1040.0,1469.90 L1041.0,1462.60 L1041.7,1456.80 L1042.0,1459.30 L1043.0,1462.00 L1044.0,1448.60 L1045.0,1433.40 L1046.0,1448.60 L1047.0,1456.80 L1048.0,1464.90 L1049.0,1471.80 L1050.0,1475.10 L1051.0,1473.50 L1052.0,1470.80 L1053.0,1472.50 L1054.0,1473.30 L1055.0,1474.50 L1056.0,1475.50 L1057.0,1474.40 L1058.0,1473.70 L1059.0,1473.10 L1060.0,1472.40 L1061.0,1471.90 L1061.7,1472.80 L1062.0,1472.10 L1063.0,1473.30 L1064.0,1473.60 L1065.0,1471.90 L1066.0,1471.90 L1067.0,1473.70 L1068.0,1474.10 L1068.7,1472.80 L1069.0,1473.40 L1070.0,1475.10 L1071.0,1474.90 L1072.0,1473.90 L1073.0,1474.10 L1074.0,1474.20 L1075.0,1473.00 L1076.0,1475.00 L1077.0,1476.40 L1078.0,1475.90 L1079.0,1475.50 L1080.0,1474.60 L1081.0,1472.80 L1082.0,1473.30 L1083.0,1473.60 L1084.0,1474.00 L1085.0,1475.60 L1086.0,1475.50 L1087.0,1474.50 L1088.0,1474.30 L1089.0,1474.40 L1090.0,1473.80 L1091.0,1473.70 L1092.0,1475.40 L1093.0,1475.70 L1094.0,1475.10 L1095.0,1475.50 L1096.0,1473.50 L1097.0,1472.10 L1098.0,1474.40 L1099.0,1474.40 L1100.0,1473.00 L1101.0,1474.10 L1102.0,1474.80 L1103.0,1474.10 L1104.0,1473.10 L1105.0,1475.10 L1106.0,1474.70 L1107.0,1472.30 L1108.0,1471.60 L1109.0,1472.10 L1109.8,1472.80 L1110.0,1473.20 L1111.0,1474.00 L1112.0,1475.20 L1113.0,1475.30 L1114.0,1473.30 L1115.0,1473.10 L1116.0,1472.10 L1117.0,1473.10 L1118.0,1474.30 L1119.0,1475.20 L1120.0,1473.80 L1121.0,1474.00 L1122.0,1471.80 L1123.0,1474.20 L1124.0,1474.20 L1125.0,1470.90 L1126.0,1469.70 L1127.0,1470.90 L1128.0,1472.50 L1129.0,1472.40 L1130.0,1473.80 L1131.0,1474.90 L1132.0,1473.30 L1133.0,1473.90 L1134.0,1474.40 L1135.0,1473.80 L1136.0,1474.30 L1137.0,1472.20 L1138.0,1473.40 L1139.0,1475.10 L1140.0,1475.60 L1141.0,1475.30 L1142.0,1473.00 L1143.0,1472.20 L1144.0,1471.80 L1145.0,1473.00 L1146.0,1474.10 L1147.0,1472.50 L1148.0,1471.50 L1149.0,1474.20 L1150.0,1474.40 L1151.0,1472.30 L1152.0,1471.10 L1153.0,1471.80 L1154.0,1474.10 L1155.0,1473.00 L1156.0,1472.30 L1157.0,1472.00 L1157.7,1469.80 L1158.0,1470.80 L1159.0,1471.50 L1160.0,1472.60 L1161.0,1474.90 L1162.0,1474.00 L1163.0,1473.30 L1164.0,1472.20 L1165.0,1471.20 L1166.0,1473.30 L1167.0,1475.00 L1168.0,1475.60 L1169.0,1475.30 L1170.0,1473.50 L1171.0,1473.40 L1172.0,1471.80 L1173.0,1472.10 L1174.0,1475.00 L1175.0,1475.40 L1176.0,1475.10 L1177.0,1474.60 L1178.0,1474.60 L1179.0,1475.50 L1180.0,1476.00 L1181.0,1474.20 L1182.0,1472.20 L1183.0,1473.30 L1184.0,1474.70 L1185.0,1473.80 L1186.0,1475.20 L1187.0,1473.10 L1188.0,1473.70 L1189.0,1475.40 L1190.0,1474.90 L1191.0,1474.10 L1192.0,1472.50 L1193.0,1473.20 L1194.0,1473.90 L1195.0,1472.80 L1196.0,1472.60 L1197.0,1475.70 L1198.0,1476.80 L1199.0,1476.40 L1200.0,1475.80 L1201.0,1476.20 L1202.0,1476.10 L1203.0,1476.00 L1204.0,1475.60 L1205.0,1473.10 L1206.0,1471.50 L1207.0,1473.10 L1208.0,1474.80 L1209.0,1474.20 L1210.0,1471.00 L1210.6,1468.80 L1211.0,1470.30 L1212.0,1472.60 L1213.0,1472.80 L1214.0,1474.00 L1215.0,1473.80 L1216.0,1475.00 L1217.0,1475.20 L1218.0,1473.80 L1219.0,1474.30 L1220.0,1475.70 L1221.0,1475.50 L1222.0,1474.00 L1223.0,1473.70 L1224.0,1472.30 L1225.0,1468.80 L1226.0,1472.30 L1227.0,1473.60 L1228.0,1473.90 L1229.0,1473.70 L1230.0,1474.30 L1231.0,1474.40 L1232.0,1473.30 L1233.0,1473.30 L1234.0,1471.40 L1235.0,1472.50 L1236.0,1473.80 L1237.0,1473.40 L1238.0,1474.20 L1239.0,1471.90 L1240.0,1471.30 L1241.0,1472.40 L1242.0,1472.40 L1243.0,1475.00 L1244.0,1474.60 L1245.0,1472.80 L1246.0,1474.60 L1247.0,1476.10 L1248.0,1476.40 L1249.0,1475.30 L1250.0,1475.10 L1251.0,1475.50 L1252.0,1474.40 L1253.0,1472.20 L1254.0,1472.90 L1255.0,1472.70 L1256.0,1472.40 L1257.0,1472.70 L1258.0,1472.80 L1259.0,1474.60 L1260.0,1474.00 L1261.0,1473.50 L1262.0,1470.80 L1263.0,1473.50 L1264.0,1475.60 L1265.0,1473.50 L1266.0,1469.00 L1266.8,1464.80 L1267.0,1465.90 L1268.0,1470.90 L1269.0,1475.00 L1270.0,1475.80 L1271.0,1474.20 L1272.0,1472.80 L1273.0,1474.60 L1274.0,1475.50 L1275.0,1475.30 L1276.0,1474.50 L1277.0,1475.20 L1278.0,1475.50 L1279.0,1473.50 L1280.0,1470.80 L1281.0,1473.40 L1282.0,1468.10 L1283.0,1461.80 L1284.0,1467.90 L1285.0,1459.20 L1285.7,1452.30 L1286.0,1455.30 L1287.0,1464.60 L1288.0,1461.80 L1289.0,1468.10 L1290.0,1470.80 L1291.0,1465.50 L1291.3,1463.80 L1292.0,1467.70 L1293.0,1472.70 L1294.0,1475.10 L1295.0,1472.20 L1296.0,1473.10 L1297.0,1471.80 L1298.0,1473.70 L1299.0,1474.40 L1300.0,1474.10 L1301.0,1471.80 L1302.0,1474.10 L1303.0,1475.90 L1304.0,1474.10 L1305.0,1471.80 L1306.0,1474.10 L1307.0,1474.90 L1308.0,1475.50 L1309.0,1475.10 L1310.0,1475.00 L1311.0,1475.70 L1312.0,1475.90 L1313.0,1474.60 L1314.0,1472.80 L1315.0,1474.20 L1316.0,1474.90 L1317.0,1473.50 L1318.0,1470.80 L1319.0,1473.50 L1320.0,1472.30 L1321.0,1468.80 L1322.0,1472.30 L1323.0,1472.20 L1324.0,1467.70 L1324.7,1463.80 L1325.0,1465.50 L1326.0,1470.80 L1327.0,1469.00 L1327.5,1466.80 L1328.0,1469.00 L1329.0,1472.50 L1330.0,1473.80 L1331.0,1470.20 L1331.6,1467.80 L1332.0,1469.40 L1333.0,1473.10 L1334.0,1473.00 L1335.0,1473.50 L1336.0,1471.80 L1337.0,1473.60 L1338.0,1472.80 L1339.0,1473.80 L1340.0,1471.80 L1341.0,1474.10 L1342.0,1475.30 L1343.0,1472.50 L1344.0,1474.70 L1345.0,1475.90 L1346.0,1474.10 L1347.0,1471.80 L1348.0,1474.10 L1349.0,1475.30 L1350.0,1475.70 L1351.0,1475.50 L1352.0,1475.00 L1353.0,1475.20 L1354.0,1470.80 L1355.0,1465.50 L1355.3,1463.80 L1356.0,1467.70 L1357.0,1472.70 L1358.0,1475.90 L1359.0,1475.90 L1360.0,1476.30 L1361.0,1476.30 L1362.0,1476.00 L1363.0,1476.30 L1364.0,1476.40 L1365.0,1476.20 L1366.0,1475.90 L1367.0,1476.30 L1368.0,1476.30 L1369.0,1470.10 L1370.0,1461.60 L1371.0,1451.80 L1372.0,1456.30 L1373.0,1442.70 L1373.4,1436.80 L1374.0,1445.50 L1375.0,1458.80 L1376.0,1451.80 L1377.0,1461.60 L1378.0,1470.10 L1379.0,1474.10 L1380.0,1471.80 L1381.0,1474.10 L1382.0,1475.90 L1383.0,1474.10 L1384.0,1471.80 L1385.0,1474.10 L1386.0,1475.90 L1387.0,1474.10 L1388.0,1471.80 L1389.0,1474.10 L1390.0,1475.00 L1391.0,1473.00 L1391.5,1471.80 L1392.0,1473.00 L1393.0,1474.80 L1394.0,1475.80 L1395.0,1475.40 L1396.0,1473.20 L1397.0,1472.50 L1398.0,1473.30 L1399.0,1474.20 L1400.0,1473.40 L1401.0,1474.00 L1402.0,1474.60 L1402.6,1473.80 L1403.0,1474.40 L1404.0,1475.70 L1405.0,1475.40 L1406.0,1475.00 L1407.0,1475.20 L1408.0,1473.80 L1409.0,1473.20 L1410.0,1474.50 L1411.0,1475.30 L1412.0,1475.90 L1413.0,1476.30 L1414.0,1475.00 L1415.0,1473.00 L1416.0,1472.80 L1416.5,1472.80 L1417.0,1474.20 L1418.0,1473.20 L1419.0,1472.40 L1420.0,1474.10 L1421.0,1476.00 L1422.0,1475.90 L1423.0,1475.40 L1424.0,1474.50 L1425.0,1473.30 L1426.0,1475.00 L1427.0,1475.20 L1428.0,1475.60 L1429.0,1476.50 L1430.0,1476.80 L1431.0,1475.80 L1432.0,1473.10 L1433.0,1473.00 L1433.2,1472.80 L1434.0,1474.30 L1435.0,1475.20 L1436.0,1475.10 L1437.0,1473.20 L1438.0,1473.40 L1439.0,1474.50 L1440.0,1473.40 L1441.0,1474.10 L1442.0,1476.00 L1443.0,1473.30 L1444.0,1469.90 L1444.3,1468.80 L1445.0,1471.30 L1446.0,1474.50 L1447.0,1473.00 L1448.0,1473.60 L1449.0,1473.40 L1450.0,1468.10 L1451.0,1461.80 L1452.0,1466.00 L1453.0,1456.80 L1453.5,1451.80 L1454.0,1456.80 L1455.0,1466.00 L1456.0,1461.80 L1457.0,1468.10 L1458.0,1473.40 L1459.0,1475.60 L1460.0,1476.30 L1461.0,1474.90 L1462.0,1472.70 L1462.4,1471.80 L1463.0,1473.20 L1464.0,1475.20 L1465.0,1474.70 L1466.0,1473.70 L1467.0,1473.60 L1468.0,1473.30 L1469.0,1474.20 L1470.0,1473.60 L1471.0,1473.90 L1472.0,1471.40 L1472.2,1470.80 L1473.0,1473.00 L1474.0,1475.30 L1475.0,1475.90 L1476.0,1475.30 L1477.0,1475.70 L1478.0,1476.80 L1479.0,1476.40 L1480.0,1474.70 L1481.0,1473.20 L1482.0,1473.10 L1483.0,1473.60 L1483.3,1473.60 L1484.0,1474.80 L1485.0,1475.20 L1486.0,1475.60 L1487.0,1476.10 L1488.0,1474.80 L1489.0,1470.30 L1490.0,1465.00 L1490.2,1463.80 L1491.0,1468.30 L1492.0,1468.40 L1493.0,1460.40 L1493.6,1455.10 L1494.0,1458.70 L1495.0,1466.90 L1496.0,1473.40 L1497.0,1472.00 L1498.0,1472.30 L1499.0,1474.60 L1500.0,1473.80 L1501.0,1474.00 L1502.0,1472.90 L1503.0,1474.00 L1504.0,1473.30 L1505.0,1473.60 L1506.0,1473.80 L1507.0,1475.20 L1508.0,1474.40 L1509.0,1474.40 L1510.0,1474.70 L1511.0,1475.10 L1512.0,1473.40 L1513.0,1472.50 L1514.0,1472.60 L1515.0,1473.00 L1516.0,1473.40 L1516.7,1471.80 L1517.0,1472.50 L1518.0,1473.40 L1519.0,1474.40 L1520.0,1474.00 L1521.0,1474.70 L1522.0,1474.20 L1523.0,1473.90 L1524.0,1475.00 L1525.0,1473.80 L1526.0,1473.90 L1527.0,1475.20 L1528.0,1475.90 L1529.0,1474.10 L1530.0,1471.80 L1531.0,1474.10 L1532.0,1473.20 L1533.0,1475.10 L1534.0,1475.80 L1535.0,1475.50 L1536.0,1474.40 L1537.0,1472.90 L1538.0,1473.40 L1539.0,1474.50 L1540.0,1473.80 L1541.0,1474.00 L1542.0,1474.50 L1543.0,1474.90 L1544.0,1474.60 L1545.0,1472.80 L1546.0,1474.60 L1547.0,1474.60 L1548.0,1472.90 L1549.0,1473.70 L1550.0,1475.00 L1551.0,1475.40 L1552.0,1475.00 L1553.0,1473.80 L1554.0,1475.20 L1555.0,1474.90 L1556.0,1473.60 L1557.0,1474.90 L1558.0,1474.80 L1559.0,1475.20 L1560.0,1473.80 L1561.0,1474.90 L1562.0,1473.40 L1563.0,1474.10 L1564.0,1474.60 L1565.0,1472.80 L1566.0,1474.60 L1567.0,1475.80 L1568.0,1475.30 L1569.0,1475.70 L1570.0,1474.90 L1571.0,1475.00 L1572.0,1476.20 L1573.0,1476.30 L1574.0,1475.20 L1575.0,1473.80 L1576.0,1475.10 L1577.0,1475.40 L1578.0,1475.00 L1579.0,1474.50 L1580.0,1474.10 L1581.0,1471.80 L1582.0,1474.10 L1583.0,1475.90 L1584.0,1475.70 L1585.0,1473.00 L1586.0,1469.50 L1586.2,1468.80 L1587.0,1471.70 L1588.0,1474.70 L1589.0,1476.20 L1590.0,1475.90 L1591.0,1474.10 L1592.0,1471.80 L1593.0,1474.10 L1594.0,1474.80 L1595.0,1474.90 L1596.0,1475.70 L1597.0,1475.10 L1598.0,1475.50 L1599.0,1474.10 L1600.0,1471.80 L1601.0,1474.10 L1602.0,1473.90 L1603.0,1474.90 L1604.0,1474.10 L1605.0,1471.80 L1606.0,1474.10 L1607.0,1474.70 L1608.0,1474.30 L1609.0,1475.50 L1610.0,1471.80 L1611.0,1467.30 L1611.3,1465.80 L1612.0,1469.20 L1613.0,1473.00 L1614.0,1468.70 L1614.6,1465.80 L1615.0,1467.80 L1616.0,1472.20 L1617.0,1475.60 L1618.0,1474.80 L1619.0,1474.30 L1620.0,1474.70 L1621.0,1474.10 L1622.0,1471.80 L1623.0,1474.10 L1624.0,1475.40 L1625.0,1475.90 L1626.0,1474.10 L1627.0,1471.80 L1628.0,1474.00 L1629.0,1475.10 L1630.0,1473.40 L1630.7,1471.80 L1631.0,1472.50 L1632.0,1474.70 L1633.0,1475.10 L1634.0,1475.20 L1635.0,1475.00 L1636.0,1476.10 L1637.0,1474.60 L1638.0,1470.40 L1639.0,1465.30 L1639.1,1464.80 L1640.0,1469.50 L1641.0,1473.10 L1642.0,1466.00 L1643.0,1457.50 L1643.3,1454.80 L1644.0,1461.10 L1645.0,1469.00 L1646.0,1464.80 L1647.0,1469.90 L1648.0,1473.90 L1649.0,1469.20 L1650.0,1463.10 L1650.2,1461.80 L1651.0,1466.90 L1652.0,1472.50 L1653.0,1470.40 L1654.0,1464.40 L1654.4,1461.80 L1655.0,1465.70 L1656.0,1471.10 L1657.0,1473.50 L1658.0,1471.80 L1659.0,1473.30 L1660.0,1472.70 L1661.0,1473.20 L1662.0,1471.80 L1663.0,1474.10 L1664.0,1475.80 L1665.0,1474.10 L1666.0,1472.50 L1667.0,1466.90 L1667.8,1461.80 L1668.0,1463.10 L1669.0,1469.20 L1670.0,1472.30 L1671.0,1468.80 L1672.0,1464.90 L1673.0,1456.80 L1674.0,1451.00 L1675.0,1435.70 L1675.3,1430.80 L1676.0,1442.00 L1677.0,1456.70 L1677.5,1456.80 L1678.0,1461.00 L1679.0,1468.50 L1680.0,1474.70 L1681.0,1474.60 L1682.0,1472.80 L1683.0,1474.60 L1684.0,1476.10 L1685.0,1476.40 L1686.0,1476.30 L1687.0,1475.20 L1688.0,1473.80 L1689.0,1475.20 L1690.0,1476.30 L1691.0,1476.10 L1692.0,1475.30 L1693.0,1474.00 L1694.0,1473.80 L1695.0,1474.50 L1696.0,1474.30 L1697.0,1475.40 L1698.0,1476.30 L1699.0,1475.20 L1700.0,1473.80 L1701.0,1475.20 L1702.0,1472.90 L1703.0,1469.80 L1704.0,1472.90 L1705.0,1475.10 L1706.0,1475.60 L1707.0,1476.00 L1708.0,1475.40 L1709.0,1474.90 L1710.0,1475.90 L1711.0,1476.10 L1712.0,1475.10 L1713.0,1475.10 L1714.0,1475.70 L1715.0,1475.80 L1716.0,1475.80 L1717.0,1476.20 L1718.0,1476.00 L1719.0,1476.10 L1720.0,1475.90 L1721.0,1475.20 L1722.0,1475.30 L1723.0,1474.10 L1724.0,1471.80 L1725.0,1474.00 L1726.0,1475.50 L1727.0,1474.10 L1728.0,1471.80 L1729.0,1474.10 L1730.0,1475.10 L1731.0,1474.10 L1732.0,1471.80 L1733.0,1474.10 L1734.0,1475.30 L1735.0,1475.90 L1736.0,1475.00 L1737.0,1474.50 L1738.0,1473.40 L1739.0,1473.50 L1740.0,1472.60 L1741.0,1472.10 L1742.0,1471.50 L1743.0,1472.70 L1744.0,1475.20 L1745.0,1474.90 L1746.0,1474.40 L1747.0,1474.70 L1748.0,1474.20 L1749.0,1473.70 L1750.0,1473.50 L1751.0,1473.40 L1752.0,1473.80 L1753.0,1474.30 L1754.0,1475.60 L1755.0,1474.90 L1756.0,1473.90 L1757.0,1474.80 L1758.0,1475.80 L1759.0,1476.80 L1760.0,1476.10 L1761.0,1475.00 L1762.0,1476.10 L1763.0,1476.80 L1764.0,1475.70 L1765.0,1474.40 L1766.0,1474.10 L1767.0,1474.70 L1768.0,1475.00 L1769.0,1473.60 L1770.0,1473.10 L1771.0,1474.00 L1772.0,1475.50 L1773.0,1475.50 L1774.0,1474.70 L1775.0,1474.80 L1776.0,1475.70 L1777.0,1475.60 L1778.0,1475.80 L1779.0,1476.00 L1780.0,1475.80 L1781.0,1475.20 L1782.0,1475.30 L1783.0,1475.10 L1784.0,1475.70 L1785.0,1474.80 L1786.0,1475.70 L1787.0,1475.20 L1788.0,1475.40 L1789.0,1475.20 L1790.0,1473.80 L1791.0,1475.20 L1792.0,1475.20 L1793.0,1474.30 L1794.0,1474.50 L1795.0,1474.90 L1796.0,1473.80 L1797.0,1473.90 L1798.0,1474.50 L1799.0,1474.50 L1800.0,1475.10 L1801.0,1475.20 L1802.0,1473.80 L1803.0,1475.20 L1804.0,1473.10 L1805.0,1470.80 L1806.0,1470.60 L1807.0,1470.50 L1808.0,1472.80 L1809.0,1471.60 L1810.0,1470.70 L1811.0,1472.50 L1812.0,1472.90 L1813.0,1469.80 L1814.0,1472.90 L1815.0,1474.20 L1816.0,1474.00 L1817.0,1473.70 L1818.0,1474.40 L1819.0,1473.30 L1820.0,1473.10 L1821.0,1474.00 L1822.0,1473.60 L1823.0,1475.20 L1824.0,1476.40 L1825.0,1476.10 L1826.0,1475.60 L1827.0,1474.30 L1828.0,1473.40 L1829.0,1475.40 L1830.0,1475.20 L1831.0,1473.80 L1832.0,1474.00 L1833.0,1474.50 L1834.0,1474.80 L1835.0,1475.00 L1836.0,1474.80 L1837.0,1474.60 L1838.0,1472.80 L1839.0,1474.60 L1840.0,1476.10 L1841.0,1475.50 L1842.0,1474.80 L1843.0,1473.90 L1844.0,1474.50 L1845.0,1473.80 L1846.0,1475.20 L1847.0,1475.90 L1848.0,1474.00 L1849.0,1473.90 L1850.0,1474.40 L1851.0,1475.20 L1852.0,1474.80 L1853.0,1474.60 L1854.0,1474.80 L1855.0,1474.60 L1856.0,1474.60 L1857.0,1474.30 L1858.0,1475.50 L1859.0,1475.70 L1860.0,1474.80 L1861.0,1473.60 L1862.0,1473.40 L1863.0,1474.50 L1864.0,1474.10 L1865.0,1474.40 L1866.0,1473.50 L1867.0,1473.50 L1868.0,1474.40 L1869.0,1473.40 L1870.0,1472.60 L1871.0,1473.30 L1872.0,1474.50 L1873.0,1476.20 L1874.0,1476.40 L1875.0,1475.80 L1876.0,1475.90 L1877.0,1475.50 L1878.0,1474.80 L1879.0,1473.60 L1880.0,1472.80 L1881.0,1472.90 L1882.0,1472.00 L1883.0,1472.20 L1884.0,1472.50 L1885.0,1471.80 L1886.0,1474.10 L1887.0,1474.60 L1888.0,1473.50 L1889.0,1470.80 L1890.0,1473.50 L1891.0,1473.80 L1892.0,1474.10 L1893.0,1472.70 L1893.7,1470.80 L1894.0,1471.60 L1895.0,1474.20 L1896.0,1474.30 L1897.0,1475.20 L1898.0,1473.80 L1899.0,1475.20 L1900.0,1475.50 L1901.0,1474.50 L1902.0,1474.60 L1903.0,1472.80 L1904.0,1473.20 L1905.0,1474.90 L1906.0,1475.80 L1907.0,1475.20 L1908.0,1473.80 L1909.0,1475.20 L1910.0,1474.70 L1911.0,1474.90 L1912.0,1474.30 L1913.0,1473.40 L1914.0,1472.70 L1915.0,1473.70 L1916.0,1475.30 L1917.0,1476.10 L1918.0,1476.00 L1919.0,1475.30 L1920.0,1474.90 L1921.0,1473.20 L1921.5,1472.80 L1922.0,1473.70 L1923.0,1474.90 L1924.0,1474.30 L1925.0,1474.70 L1926.0,1476.00 L1927.0,1475.30 L1928.0,1472.80 L1929.0,1471.90 L1930.0,1472.80 L1931.0,1474.70 L1932.0,1475.50 L1933.0,1476.00 L1934.0,1475.00 L1935.0,1473.30 L1936.0,1473.10 L1937.0,1473.80 L1938.0,1475.20 L1939.0,1474.80 L1940.0,1475.70 L1941.0,1474.60 L1942.0,1472.80 L1943.0,1474.60 L1944.0,1475.70 L1945.0,1475.20 L1946.0,1473.20 L1946.6,1471.80 L1947.0,1472.70 L1948.0,1474.30 L1949.0,1473.60 L1950.0,1473.80 L1951.0,1475.20 L1952.0,1476.30 L1953.0,1475.30 L1954.0,1474.50 L1955.0,1472.80 L1956.0,1474.60 L1957.0,1475.60 L1958.0,1474.50 L1959.0,1472.60 L1960.0,1473.40 L1961.0,1471.70 L1962.0,1467.80 L1963.0,1471.70 L1964.0,1475.00 L1965.0,1474.50 L1966.0,1474.10 L1967.0,1469.90 L1968.0,1464.80 L1969.0,1467.70 L1970.0,1458.50 L1970.8,1450.10 L1971.0,1452.30 L1972.0,1462.40 L1973.0,1471.00 L1974.0,1473.90 L1975.0,1473.00 L1975.8,1470.80 L1976.0,1471.40 L1977.0,1473.70 L1978.0,1472.50 L1978.6,1470.80 L1979.0,1471.90 L1980.0,1473.20 L1981.0,1472.90 L1982.0,1475.20 L1983.0,1474.70 L1984.0,1473.00 L1985.0,1474.60 L1986.0,1475.80 L1987.0,1475.80 L1988.0,1474.90 L1989.0,1475.70 L1990.0,1474.80 L1991.0,1471.10 L1992.0,1466.80 L1993.0,1471.10 L1994.0,1463.70 L1995.0,1454.00 L1995.3,1450.80 L1996.0,1458.00 L1997.0,1464.90 L1998.0,1456.80 L1999.0,1464.90 L2000.0,1471.80 L2001.0,1475.90 L2002.0,1475.10 L2003.0,1473.80 L2004.0,1472.50 L2005.0,1472.30 L2006.0,1474.00 L2007.0,1476.20 L2008.0,1475.60 L2009.0,1473.60 L2010.0,1475.10 L2011.0,1474.10 L2012.0,1471.80 L2013.0,1470.50 L2014.0,1471.60 L2015.0,1474.20 L2016.0,1472.80 L2017.0,1474.60 L2018.0,1474.60 L2019.0,1472.80 L2020.0,1473.60 L2021.0,1474.10 L2021.7,1472.80 L2022.0,1473.40 L2023.0,1475.10 L2024.0,1475.00 L2025.0,1474.20 L2026.0,1475.70 L2027.0,1475.70 L2028.0,1474.80 L2029.0,1474.10 L2030.0,1471.80 L2031.0,1474.10 L2032.0,1474.90 L2033.0,1474.10 L2034.0,1471.80 L2035.0,1474.10 L2036.0,1475.90 L2037.0,1474.00 L2038.0,1471.10 L2038.4,1469.80 L2039.0,1471.70 L2040.0,1472.80 L2041.0,1474.60 L2042.0,1472.90 L2043.0,1472.90 L2044.0,1475.10 L2045.0,1475.40 L2046.0,1476.20 L2047.0,1476.80 L2048.0,1475.30 L2049.0,1472.30 L2050.0,1472.40 L2051.0,1472.20 L2052.0,1473.50 L2053.0,1472.80 L2054.0,1471.70 L2055.0,1471.80 L2056.0,1474.10 L2057.0,1474.40 L2058.0,1472.80 L2059.0,1473.10 L2060.0,1474.00 L2060.7,1474.80 L2061.0,1475.10 L2062.0,1474.60 L2063.0,1474.80 L2064.0,1474.20 L2065.0,1474.20 L2066.0,1474.30 L2067.0,1472.80 L2068.0,1473.30 L2069.0,1474.20 L2070.0,1475.70 L2070.0,1476.80 Z" fill="#FF3030"/>
<rect x="704.0" y="1476.35" width="1431.0" height="1.3" fill="#000" fill-opacity="0.8"/>
<rect x="157.80" y="1484.25" width="4.4" height="159.90" fill="#000"/>
<rect x="148.5" y="1634.45" width="11.50" height="4.4" fill="#333333"/>
<rect x="148.5" y="1597.23" width="11.50" height="4.4" fill="#333333"/>
<rect x="148.5" y="1560.01" width="11.50" height="4.4" fill="#333333"/>
<rect x="148.5" y="1522.79" width="11.50" height="4.4" fill="#333333"/>
<rect x="148.5" y="1485.57" width="11.50" height="4.4" fill="#333333"/>
<text x="431.50" y="1577.45" font-size="37.40" fill="#1A1A1A" text-anchor="middle" textLength="495.03" lengthAdjust="spacingAndGlyphs">WT Fabp4+ Pre-Adipocytes</text>
<path d="M768.0,1636.65 L768.0,1636.65 L796.0,1636.65 L797.0,1635.75 L798.0,1634.15 L798.8,1632.65 L799.0,1633.05 L800.0,1634.75 L801.0,1636.25 L802.0,1636.65 L803.0,1636.65 L804.0,1635.55 L805.0,1633.95 L805.7,1632.65 L806.0,1633.25 L807.0,1634.95 L808.0,1636.35 L809.0,1636.65 L869.0,1636.65 L870.0,1635.95 L871.0,1634.45 L872.0,1632.65 L873.0,1634.45 L874.0,1635.95 L875.0,1636.65 L876.0,1635.95 L877.0,1634.45 L878.0,1632.65 L879.0,1634.45 L880.0,1635.95 L881.0,1636.65 L885.0,1636.65 L886.0,1635.75 L887.0,1634.15 L887.8,1632.65 L888.0,1633.05 L889.0,1634.75 L890.0,1636.25 L891.0,1636.65 L894.0,1636.65 L895.0,1636.15 L896.0,1635.05 L897.0,1633.65 L898.0,1635.05 L899.0,1636.15 L900.0,1636.65 L916.0,1636.65 L917.0,1635.15 L918.0,1633.45 L918.4,1632.65 L919.0,1633.75 L920.0,1635.45 L921.0,1636.65 L922.0,1636.65 L923.0,1635.75 L924.0,1634.15 L924.8,1632.65 L925.0,1633.05 L926.0,1634.75 L927.0,1636.25 L928.0,1636.65 L934.0,1636.65 L935.0,1634.85 L936.0,1631.55 L937.0,1627.65 L938.0,1631.55 L939.0,1634.85 L940.0,1633.25 L940.7,1631.65 L941.0,1632.35 L942.0,1634.55 L943.0,1636.25 L944.0,1636.65 L945.0,1636.65 L946.0,1636.35 L947.0,1634.15 L948.0,1631.25 L948.5,1629.65 L949.0,1631.25 L950.0,1634.15 L951.0,1636.35 L952.0,1635.75 L953.0,1634.15 L953.8,1632.65 L954.0,1633.05 L955.0,1634.75 L956.0,1635.15 L957.0,1633.45 L957.4,1632.65 L958.0,1633.75 L959.0,1635.45 L960.0,1636.65 L974.0,1636.65 L975.0,1633.95 L976.0,1630.15 L976.8,1626.65 L977.0,1627.55 L978.0,1627.95 L979.0,1621.65 L980.0,1627.95 L981.0,1633.25 L982.0,1633.45 L982.4,1632.65 L983.0,1633.75 L984.0,1634.45 L985.0,1632.65 L986.0,1634.45 L987.0,1634.45 L988.0,1632.65 L989.0,1631.65 L990.0,1625.55 L990.8,1619.95 L991.0,1621.35 L992.0,1628.15 L993.0,1633.55 L993.5,1632.65 L994.0,1633.55 L995.0,1635.25 L996.0,1630.95 L997.0,1620.35 L998.0,1607.85 L998.6,1599.65 L999.0,1605.15 L1000.0,1614.15 L1000.5,1608.65 L1001.0,1614.15 L1002.0,1624.25 L1002.4,1625.75 L1003.0,1618.45 L1004.0,1604.65 L1004.7,1594.05 L1005.0,1598.65 L1006.0,1613.15 L1007.0,1618.25 L1007.4,1614.65 L1008.0,1620.05 L1009.0,1622.55 L1009.4,1619.65 L1010.0,1623.95 L1011.0,1630.45 L1012.0,1635.05 L1013.0,1636.65 L1024.0,1636.65 L1025.0,1635.95 L1026.0,1634.45 L1027.0,1632.65 L1028.0,1634.45 L1029.0,1635.95 L1030.0,1634.45 L1031.0,1632.65 L1032.0,1634.45 L1033.0,1635.95 L1034.0,1636.65 L1035.0,1635.85 L1036.0,1634.65 L1036.7,1633.65 L1037.0,1634.05 L1038.0,1635.35 L1039.0,1634.85 L1040.0,1627.95 L1041.0,1619.35 L1041.7,1612.65 L1042.0,1615.55 L1043.0,1624.75 L1044.0,1613.05 L1045.0,1597.35 L1045.6,1587.15 L1046.0,1594.05 L1047.0,1610.05 L1048.0,1624.05 L1049.0,1629.75 L1050.0,1634.15 L1051.0,1636.65 L1114.0,1636.65 L1115.0,1633.35 L1116.0,1626.85 L1117.0,1618.95 L1117.3,1616.35 L1118.0,1622.15 L1119.0,1629.65 L1120.0,1635.45 L1121.0,1636.65 L1126.0,1636.65 L1127.0,1635.25 L1128.0,1633.55 L1128.5,1632.65 L1129.0,1633.55 L1130.0,1635.25 L1131.0,1635.55 L1132.0,1633.95 L1132.7,1632.65 L1133.0,1633.25 L1134.0,1634.95 L1135.0,1634.45 L1136.0,1632.65 L1137.0,1634.45 L1138.0,1634.45 L1139.0,1632.65 L1140.0,1633.35 L1141.0,1628.85 L1141.8,1624.65 L1142.0,1625.75 L1143.0,1630.75 L1144.0,1632.65 L1145.0,1634.45 L1146.0,1635.95 L1147.0,1636.65 L1155.0,1636.65 L1156.0,1635.55 L1157.0,1633.95 L1157.7,1632.65 L1158.0,1633.25 L1159.0,1634.95 L1160.0,1636.35 L1161.0,1636.65 L1163.0,1636.65 L1164.0,1634.35 L1165.0,1630.35 L1166.0,1625.65 L1167.0,1630.35 L1168.0,1634.35 L1169.0,1634.45 L1170.0,1632.65 L1171.0,1634.45 L1172.0,1634.45 L1173.0,1632.65 L1174.0,1634.45 L1175.0,1635.95 L1176.0,1636.15 L1177.0,1632.55 L1178.0,1627.85 L1178.6,1624.65 L1179.0,1626.75 L1180.0,1631.65 L1181.0,1628.55 L1182.0,1622.05 L1182.2,1620.65 L1183.0,1626.05 L1184.0,1631.95 L1185.0,1633.75 L1185.6,1632.65 L1186.0,1633.45 L1187.0,1635.15 L1188.0,1636.65 L1189.0,1635.35 L1190.0,1632.75 L1191.0,1629.65 L1192.0,1632.75 L1193.0,1635.35 L1194.0,1634.85 L1195.0,1631.85 L1195.9,1628.65 L1196.0,1629.05 L1197.0,1632.45 L1198.0,1635.35 L1199.0,1635.35 L1200.0,1632.75 L1201.0,1629.65 L1202.0,1632.75 L1203.0,1635.35 L1204.0,1634.75 L1205.0,1632.35 L1205.6,1630.65 L1206.0,1631.75 L1207.0,1634.25 L1208.0,1636.25 L1209.0,1636.65 L1210.0,1634.35 L1211.0,1630.35 L1212.0,1625.65 L1213.0,1630.35 L1214.0,1632.85 L1215.0,1628.55 L1215.6,1625.65 L1216.0,1627.65 L1217.0,1632.05 L1218.0,1635.65 L1219.0,1636.65 L1249.0,1636.65 L1250.0,1635.75 L1251.0,1634.15 L1251.8,1632.65 L1252.0,1633.05 L1253.0,1634.75 L1254.0,1636.25 L1255.0,1636.65 L1260.0,1636.65 L1261.0,1635.95 L1262.0,1632.55 L1263.0,1628.05 L1263.5,1625.65 L1264.0,1628.05 L1265.0,1632.55 L1266.0,1635.45 L1267.0,1630.75 L1268.0,1624.85 L1268.5,1621.65 L1269.0,1624.85 L1270.0,1630.75 L1271.0,1631.55 L1271.8,1628.65 L1272.0,1629.35 L1273.0,1632.85 L1274.0,1635.65 L1275.0,1634.45 L1276.0,1632.65 L1277.0,1634.45 L1278.0,1634.15 L1278.8,1632.65 L1279.0,1633.05 L1280.0,1634.75 L1281.0,1636.25 L1282.0,1636.65 L1283.0,1636.65 L1284.0,1635.65 L1285.0,1630.85 L1286.0,1624.75 L1286.6,1620.65 L1287.0,1623.45 L1288.0,1629.75 L1289.0,1634.85 L1290.0,1636.65 L1312.0,1636.65 L1313.0,1636.15 L1314.0,1635.05 L1315.0,1633.65 L1316.0,1635.05 L1317.0,1636.15 L1318.0,1636.65 L1319.0,1635.65 L1320.0,1634.35 L1320.5,1633.65 L1321.0,1634.35 L1322.0,1634.05 L1323.0,1629.95 L1323.9,1625.65 L1324.0,1626.15 L1325.0,1630.85 L1326.0,1634.75 L1327.0,1633.55 L1327.5,1632.65 L1328.0,1633.55 L1329.0,1635.25 L1330.0,1631.65 L1331.0,1626.25 L1331.6,1622.65 L1332.0,1625.15 L1333.0,1630.65 L1334.0,1635.25 L1335.0,1634.15 L1335.8,1632.65 L1336.0,1633.05 L1337.0,1634.75 L1338.0,1636.25 L1339.0,1636.65 L1343.0,1636.65 L1344.0,1635.45 L1345.0,1633.75 L1345.6,1632.65 L1346.0,1633.45 L1347.0,1635.15 L1348.0,1636.65 L1349.0,1635.15 L1350.0,1632.15 L1351.0,1628.65 L1352.0,1632.15 L1353.0,1635.15 L1354.0,1635.35 L1355.0,1634.05 L1355.3,1633.65 L1356.0,1634.65 L1357.0,1632.75 L1358.0,1629.65 L1359.0,1632.75 L1360.0,1635.35 L1361.0,1636.65 L1363.0,1636.65 L1364.0,1636.05 L1365.0,1633.45 L1366.0,1630.15 L1366.4,1628.65 L1367.0,1630.85 L1368.0,1634.05 L1369.0,1630.85 L1370.0,1624.75 L1370.6,1620.65 L1371.0,1623.45 L1372.0,1609.25 L1373.0,1591.85 L1373.7,1578.65 L1374.0,1584.45 L1375.0,1602.55 L1376.0,1618.65 L1376.2,1621.55 L1377.0,1627.45 L1378.0,1630.95 L1379.0,1626.65 L1380.0,1630.95 L1381.0,1634.65 L1382.0,1636.65 L1390.0,1636.65 L1391.0,1636.05 L1392.0,1634.85 L1392.9,1633.65 L1393.0,1633.75 L1394.0,1635.15 L1395.0,1636.25 L1396.0,1636.65 L1397.0,1636.65 L1398.0,1634.85 L1399.0,1632.15 L1399.8,1629.65 L1400.0,1630.35 L1401.0,1633.35 L1402.0,1635.75 L1403.0,1636.65 L1404.0,1635.55 L1405.0,1634.25 L1405.4,1633.65 L1406.0,1634.45 L1407.0,1635.75 L1408.0,1636.65 L1419.0,1636.65 L1420.0,1635.25 L1421.0,1633.55 L1421.5,1632.65 L1422.0,1633.55 L1423.0,1635.25 L1424.0,1636.65 L1443.0,1636.65 L1444.0,1636.25 L1445.0,1632.85 L1446.0,1628.55 L1446.6,1625.65 L1447.0,1627.65 L1448.0,1632.05 L1449.0,1635.65 L1450.0,1634.05 L1451.0,1631.45 L1451.3,1630.65 L1452.0,1632.55 L1453.0,1634.95 L1454.0,1636.65 L1459.0,1636.65 L1460.0,1636.15 L1461.0,1633.85 L1462.0,1630.95 L1462.4,1629.65 L1463.0,1631.55 L1464.0,1634.35 L1465.0,1636.65 L1466.0,1636.65 L1467.0,1636.05 L1468.0,1633.45 L1469.0,1630.15 L1469.4,1628.65 L1470.0,1630.85 L1471.0,1634.05 L1472.0,1636.65 L1480.0,1636.65 L1481.0,1635.85 L1482.0,1634.65 L1482.7,1633.65 L1483.0,1634.05 L1484.0,1635.35 L1485.0,1636.65 L1486.0,1636.65 L1487.0,1634.25 L1488.0,1630.85 L1488.8,1627.65 L1489.0,1628.45 L1490.0,1631.55 L1491.0,1623.55 L1492.0,1614.15 L1492.2,1612.15 L1493.0,1619.95 L1494.0,1628.55 L1495.0,1635.25 L1496.0,1632.85 L1497.0,1629.35 L1497.2,1628.65 L1498.0,1631.55 L1499.0,1633.35 L1500.0,1628.85 L1500.8,1624.65 L1501.0,1625.75 L1502.0,1630.75 L1503.0,1634.85 L1504.0,1636.65 L1512.0,1636.65 L1513.0,1635.55 L1514.0,1633.95 L1514.7,1632.65 L1515.0,1633.25 L1516.0,1634.15 L1517.0,1629.75 L1518.0,1624.65 L1519.0,1629.75 L1520.0,1631.65 L1521.0,1626.75 L1521.4,1624.65 L1522.0,1627.85 L1523.0,1632.55 L1524.0,1636.15 L1525.0,1635.15 L1526.0,1633.45 L1526.4,1632.65 L1527.0,1633.75 L1528.0,1635.45 L1529.0,1636.65 L1590.0,1636.65 L1591.0,1635.95 L1592.0,1633.85 L1593.0,1631.25 L1593.2,1630.65 L1594.0,1632.85 L1595.0,1635.15 L1596.0,1636.65 L1603.0,1636.65 L1604.0,1635.55 L1605.0,1633.95 L1605.7,1632.65 L1606.0,1633.25 L1607.0,1634.95 L1608.0,1636.35 L1609.0,1636.15 L1610.0,1634.05 L1611.0,1631.45 L1611.3,1630.65 L1612.0,1632.55 L1613.0,1634.95 L1614.0,1636.65 L1616.0,1636.65 L1617.0,1635.75 L1618.0,1634.15 L1618.8,1632.65 L1619.0,1633.05 L1620.0,1634.75 L1621.0,1636.25 L1622.0,1636.65 L1626.0,1636.65 L1627.0,1636.15 L1628.0,1633.85 L1629.0,1630.95 L1629.4,1629.65 L1630.0,1631.55 L1631.0,1634.35 L1632.0,1636.65 L1640.0,1636.65 L1641.0,1636.35 L1642.0,1634.95 L1643.0,1633.25 L1643.3,1632.65 L1644.0,1633.95 L1645.0,1635.55 L1646.0,1636.65 L1647.0,1634.85 L1648.0,1632.15 L1648.8,1629.65 L1649.0,1630.35 L1650.0,1633.35 L1651.0,1635.75 L1652.0,1636.65 L1653.0,1635.15 L1654.0,1633.45 L1654.4,1632.65 L1655.0,1633.75 L1656.0,1635.45 L1657.0,1635.95 L1658.0,1634.45 L1659.0,1632.65 L1660.0,1634.45 L1661.0,1633.45 L1661.4,1632.65 L1662.0,1633.55 L1663.0,1630.65 L1663.3,1629.65 L1664.0,1631.85 L1665.0,1629.95 L1666.0,1621.45 L1667.0,1611.65 L1668.0,1621.45 L1669.0,1626.15 L1669.7,1623.05 L1670.0,1619.95 L1671.0,1606.75 L1671.7,1596.65 L1672.0,1601.05 L1673.0,1603.85 L1674.0,1586.55 L1675.0,1561.95 L1676.0,1535.45 L1676.1,1532.65 L1677.0,1556.85 L1677.3,1564.55 L1678.0,1579.95 L1679.0,1600.05 L1680.0,1617.95 L1681.0,1632.25 L1682.0,1632.65 L1683.0,1634.45 L1684.0,1635.95 L1685.0,1635.15 L1686.0,1633.45 L1686.4,1632.65 L1687.0,1633.75 L1688.0,1635.45 L1689.0,1636.65 L1709.0,1636.65 L1710.0,1635.15 L1711.0,1632.15 L1712.0,1628.65 L1713.0,1632.15 L1714.0,1635.15 L1715.0,1636.65 L1834.0,1636.65 L1835.0,1635.55 L1836.0,1633.95 L1836.7,1632.65 L1837.0,1633.25 L1838.0,1634.95 L1839.0,1636.35 L1840.0,1636.65 L1841.0,1635.95 L1842.0,1634.45 L1843.0,1632.65 L1844.0,1634.45 L1845.0,1635.95 L1846.0,1636.65 L1884.0,1636.65 L1885.0,1635.75 L1886.0,1634.15 L1886.8,1632.65 L1887.0,1633.05 L1888.0,1634.75 L1889.0,1633.55 L1889.5,1632.65 L1890.0,1633.55 L1891.0,1635.25 L1892.0,1636.65 L1896.0,1636.65 L1897.0,1635.55 L1898.0,1633.95 L1898.7,1632.65 L1899.0,1633.25 L1900.0,1634.95 L1901.0,1636.35 L1902.0,1636.65 L1921.0,1636.65 L1922.0,1636.35 L1923.0,1634.95 L1924.0,1633.25 L1924.3,1632.65 L1925.0,1633.95 L1926.0,1635.55 L1927.0,1635.95 L1928.0,1634.45 L1929.0,1632.65 L1930.0,1634.45 L1931.0,1635.95 L1932.0,1636.65 L1937.0,1636.65 L1938.0,1636.25 L1939.0,1633.75 L1940.0,1630.45 L1940.5,1628.65 L1941.0,1630.45 L1942.0,1633.75 L1943.0,1636.25 L1944.0,1636.65 L1965.0,1636.65 L1966.0,1634.15 L1967.0,1629.75 L1968.0,1624.65 L1969.0,1627.95 L1969.7,1624.15 L1970.0,1625.85 L1971.0,1627.25 L1971.5,1624.65 L1972.0,1627.25 L1973.0,1632.05 L1974.0,1634.45 L1975.0,1635.95 L1976.0,1636.65 L1977.0,1636.25 L1978.0,1634.25 L1979.0,1631.75 L1979.4,1630.65 L1980.0,1632.35 L1981.0,1634.75 L1982.0,1636.65 L1991.0,1636.65 L1992.0,1635.35 L1993.0,1632.75 L1994.0,1629.65 L1995.0,1632.75 L1996.0,1626.55 L1997.0,1617.85 L1997.5,1613.05 L1998.0,1617.85 L1999.0,1626.55 L2000.0,1633.75 L2001.0,1634.75 L2002.0,1633.05 L2002.2,1632.65 L2003.0,1634.15 L2004.0,1635.75 L2005.0,1636.65 L2022.0,1636.65 L2023.0,1635.25 L2024.0,1633.55 L2024.5,1632.65 L2025.0,1633.55 L2026.0,1635.25 L2027.0,1636.65 L2031.0,1636.65 L2032.0,1636.25 L2033.0,1634.75 L2034.0,1633.05 L2034.2,1632.65 L2035.0,1634.15 L2036.0,1635.75 L2036.0,1636.65 Z" fill="#B23AEE"/>
<rect x="704.0" y="1636.20" width="1431.0" height="1.3" fill="#000" fill-opacity="0.8"/>
<rect x="157.80" y="1644.10" width="4.4" height="159.90" fill="#000"/>
<rect x="148.5" y="1794.30" width="11.50" height="4.4" fill="#333333"/>
<rect x="148.5" y="1757.08" width="11.50" height="4.4" fill="#333333"/>
<rect x="148.5" y="1719.86" width="11.50" height="4.4" fill="#333333"/>
<rect x="148.5" y="1682.64" width="11.50" height="4.4" fill="#333333"/>
<rect x="148.5" y="1645.42" width="11.50" height="4.4" fill="#333333"/>
<text x="431.50" y="1737.30" font-size="37.40" fill="#1A1A1A" text-anchor="middle" textLength="507.44" lengthAdjust="spacingAndGlyphs">cKO Fabp4+ Pre-Adipocytes</text>
<path d="M769.0,1796.50 L769.0,1796.50 L770.0,1796.50 L771.0,1792.60 L772.0,1787.20 L772.9,1781.50 L773.0,1782.20 L774.0,1788.40 L775.0,1793.60 L776.0,1792.40 L777.0,1788.30 L777.4,1786.50 L778.0,1786.70 L778.7,1782.50 L779.0,1784.30 L780.0,1790.00 L781.0,1790.90 L782.0,1783.80 L782.9,1776.50 L783.0,1777.40 L784.0,1784.50 L785.0,1775.00 L785.4,1770.90 L786.0,1777.00 L787.0,1786.30 L788.0,1793.80 L789.0,1792.80 L790.0,1789.10 L790.4,1787.50 L791.0,1789.90 L792.0,1793.50 L793.0,1796.20 L794.0,1796.50 L795.0,1795.80 L796.0,1792.80 L797.0,1789.10 L797.4,1787.50 L798.0,1789.90 L799.0,1793.50 L800.0,1796.20 L801.0,1796.50 L816.0,1796.50 L817.0,1796.20 L818.0,1793.50 L819.0,1789.90 L819.6,1787.50 L820.0,1789.10 L821.0,1792.80 L822.0,1795.80 L823.0,1795.40 L824.0,1793.80 L824.7,1792.50 L825.0,1793.10 L826.0,1794.80 L827.0,1796.20 L828.0,1794.60 L829.0,1792.40 L829.4,1791.50 L830.0,1792.90 L831.0,1794.90 L832.0,1796.50 L835.0,1796.50 L836.0,1795.70 L837.0,1793.00 L838.0,1789.60 L838.3,1788.50 L839.0,1791.00 L840.0,1794.20 L841.0,1791.60 L842.0,1786.00 L842.7,1781.50 L843.0,1783.50 L844.0,1789.50 L844.7,1792.50 L845.0,1793.10 L846.0,1794.80 L847.0,1796.20 L848.0,1796.50 L850.0,1796.50 L851.0,1795.60 L852.0,1793.80 L853.0,1791.50 L854.0,1793.80 L855.0,1795.60 L856.0,1796.50 L862.0,1796.50 L863.0,1793.50 L864.0,1789.60 L864.7,1786.50 L865.0,1787.90 L866.0,1792.00 L867.0,1790.00 L867.8,1786.50 L868.0,1787.40 L869.0,1791.60 L870.0,1795.10 L871.0,1796.50 L872.0,1796.50 L873.0,1795.40 L874.0,1793.80 L874.7,1792.50 L875.0,1793.10 L876.0,1794.80 L877.0,1796.20 L878.0,1796.50 L881.0,1796.50 L882.0,1794.90 L883.0,1792.90 L883.6,1791.50 L884.0,1792.40 L885.0,1794.50 L886.0,1789.50 L887.0,1783.50 L887.3,1781.50 L888.0,1786.00 L889.0,1791.60 L890.0,1793.60 L890.6,1792.50 L891.0,1793.30 L892.0,1795.00 L893.0,1796.50 L914.0,1796.50 L915.0,1794.50 L916.0,1790.80 L917.0,1786.50 L918.0,1790.80 L919.0,1790.00 L919.8,1786.50 L920.0,1787.40 L921.0,1791.60 L922.0,1792.90 L922.6,1791.50 L923.0,1792.40 L924.0,1794.60 L925.0,1796.20 L926.0,1796.50 L937.0,1796.50 L938.0,1796.10 L939.0,1790.10 L940.0,1782.00 L941.0,1772.50 L942.0,1782.00 L943.0,1790.10 L944.0,1796.10 L945.0,1796.50 L946.0,1795.40 L947.0,1791.00 L948.0,1785.50 L948.5,1782.50 L949.0,1785.50 L950.0,1791.00 L951.0,1795.40 L952.0,1793.80 L953.0,1791.50 L954.0,1793.80 L955.0,1793.80 L956.0,1791.50 L957.0,1793.80 L958.0,1793.30 L958.8,1791.50 L959.0,1792.00 L960.0,1792.80 L961.0,1788.70 L961.5,1786.50 L962.0,1788.70 L963.0,1792.00 L964.0,1787.90 L964.3,1786.50 L965.0,1789.60 L966.0,1793.50 L967.0,1796.50 L975.0,1796.50 L976.0,1794.30 L977.0,1789.50 L978.0,1783.70 L978.2,1782.50 L979.0,1785.90 L980.0,1778.50 L981.0,1785.90 L982.0,1783.60 L983.0,1774.00 L983.3,1770.90 L984.0,1778.00 L985.0,1787.10 L986.0,1784.50 L987.0,1789.60 L988.0,1794.00 L989.0,1794.90 L990.0,1788.90 L991.0,1781.50 L991.6,1776.50 L992.0,1779.90 L993.0,1786.50 L994.0,1779.50 L995.0,1786.50 L996.0,1788.80 L997.0,1787.20 L997.2,1786.50 L998.0,1782.70 L999.0,1768.90 L1000.0,1753.30 L1000.2,1750.00 L1001.0,1762.90 L1002.0,1777.50 L1003.0,1779.00 L1003.3,1776.50 L1004.0,1782.30 L1005.0,1774.00 L1005.5,1768.50 L1006.0,1774.00 L1007.0,1771.20 L1007.4,1766.50 L1008.0,1773.50 L1009.0,1784.00 L1009.4,1781.50 L1010.0,1785.40 L1011.0,1791.10 L1012.0,1795.10 L1013.0,1790.50 L1014.0,1785.00 L1014.4,1782.50 L1015.0,1786.10 L1016.0,1791.50 L1017.0,1795.70 L1018.0,1796.50 L1019.0,1795.10 L1020.0,1790.50 L1021.0,1785.00 L1021.4,1782.50 L1022.0,1786.10 L1023.0,1791.50 L1024.0,1795.70 L1025.0,1796.50 L1027.0,1796.50 L1028.0,1795.10 L1029.0,1793.10 L1029.7,1791.50 L1030.0,1792.20 L1031.0,1794.40 L1032.0,1793.80 L1033.0,1791.50 L1034.0,1793.80 L1035.0,1795.10 L1036.0,1790.60 L1036.7,1786.60 L1037.0,1784.70 L1037.5,1781.50 L1038.0,1784.70 L1039.0,1790.60 L1040.0,1793.50 L1041.0,1789.60 L1041.7,1786.50 L1042.0,1787.90 L1043.0,1792.00 L1044.0,1795.40 L1045.0,1792.70 L1046.0,1786.10 L1047.0,1778.20 L1047.2,1776.50 L1048.0,1783.10 L1049.0,1790.30 L1050.0,1787.70 L1050.6,1784.50 L1051.0,1786.60 L1052.0,1791.50 L1053.0,1790.00 L1053.4,1788.50 L1054.0,1790.70 L1055.0,1793.90 L1056.0,1796.50 L1057.0,1796.50 L1058.0,1796.20 L1059.0,1794.80 L1060.0,1793.10 L1060.3,1792.50 L1061.0,1793.80 L1062.0,1794.30 L1063.0,1792.50 L1064.0,1794.30 L1065.0,1795.80 L1066.0,1796.50 L1070.0,1796.50 L1071.0,1796.00 L1072.0,1791.60 L1073.0,1786.00 L1073.7,1781.50 L1074.0,1783.50 L1075.0,1789.50 L1076.0,1794.50 L1077.0,1792.80 L1078.0,1789.10 L1078.4,1787.50 L1079.0,1789.90 L1080.0,1793.50 L1081.0,1796.20 L1082.0,1796.50 L1091.0,1796.50 L1092.0,1795.40 L1093.0,1791.00 L1094.0,1785.50 L1094.5,1782.50 L1095.0,1785.50 L1096.0,1791.00 L1097.0,1795.40 L1098.0,1796.50 L1099.0,1793.80 L1100.0,1790.30 L1100.7,1787.50 L1101.0,1788.70 L1102.0,1792.50 L1103.0,1795.50 L1104.0,1795.60 L1105.0,1793.80 L1106.0,1791.50 L1107.0,1793.80 L1108.0,1795.60 L1109.0,1794.60 L1110.0,1792.40 L1110.4,1791.50 L1111.0,1792.90 L1112.0,1794.90 L1113.0,1796.50 L1115.0,1796.50 L1116.0,1795.30 L1117.0,1792.20 L1118.0,1788.30 L1118.2,1787.50 L1119.0,1790.70 L1120.0,1794.10 L1121.0,1796.50 L1123.0,1796.50 L1124.0,1793.50 L1125.0,1789.60 L1125.7,1786.50 L1126.0,1787.90 L1127.0,1792.00 L1128.0,1795.40 L1129.0,1796.50 L1137.0,1796.50 L1138.0,1794.90 L1139.0,1792.90 L1139.6,1791.50 L1140.0,1792.40 L1141.0,1794.60 L1142.0,1796.20 L1143.0,1796.50 L1144.0,1796.50 L1145.0,1794.80 L1146.0,1791.20 L1147.0,1787.00 L1147.1,1786.50 L1148.0,1790.40 L1149.0,1794.20 L1150.0,1795.80 L1151.0,1794.00 L1152.0,1791.70 L1152.1,1791.50 L1153.0,1793.50 L1154.0,1795.50 L1155.0,1794.20 L1156.0,1790.40 L1156.9,1786.50 L1157.0,1787.00 L1158.0,1791.20 L1159.0,1793.10 L1159.7,1791.50 L1160.0,1792.20 L1161.0,1794.40 L1162.0,1796.10 L1163.0,1796.50 L1167.0,1796.50 L1168.0,1795.30 L1169.0,1792.20 L1170.0,1788.30 L1170.2,1787.50 L1171.0,1790.70 L1172.0,1794.10 L1173.0,1796.50 L1193.0,1796.50 L1194.0,1793.40 L1195.0,1788.40 L1196.0,1782.50 L1197.0,1788.40 L1198.0,1793.40 L1199.0,1796.50 L1206.0,1796.50 L1207.0,1795.60 L1208.0,1793.80 L1209.0,1791.50 L1210.0,1793.80 L1211.0,1792.60 L1212.0,1789.50 L1213.0,1792.60 L1214.0,1790.70 L1214.8,1787.50 L1215.0,1788.30 L1216.0,1792.20 L1217.0,1790.80 L1218.0,1786.50 L1219.0,1789.50 L1220.0,1783.50 L1220.3,1781.50 L1221.0,1786.00 L1222.0,1791.60 L1223.0,1796.00 L1224.0,1795.60 L1225.0,1793.80 L1226.0,1791.50 L1227.0,1793.80 L1228.0,1793.80 L1229.0,1791.50 L1230.0,1793.80 L1231.0,1795.60 L1232.0,1796.50 L1237.0,1796.50 L1238.0,1795.70 L1239.0,1792.40 L1240.0,1788.30 L1240.4,1786.50 L1241.0,1789.20 L1242.0,1793.10 L1243.0,1793.80 L1244.0,1791.50 L1245.0,1793.80 L1246.0,1795.60 L1247.0,1794.20 L1248.0,1792.00 L1248.2,1791.50 L1249.0,1792.40 L1250.0,1788.30 L1250.4,1786.50 L1251.0,1789.20 L1252.0,1793.10 L1253.0,1796.10 L1254.0,1796.50 L1276.0,1796.50 L1277.0,1794.50 L1278.0,1789.50 L1279.0,1783.50 L1279.3,1781.50 L1280.0,1786.00 L1281.0,1791.60 L1282.0,1796.00 L1283.0,1796.50 L1294.0,1796.50 L1295.0,1795.50 L1296.0,1793.50 L1296.9,1791.50 L1297.0,1791.70 L1298.0,1794.00 L1299.0,1794.20 L1300.0,1792.00 L1300.2,1791.50 L1301.0,1793.30 L1302.0,1795.30 L1303.0,1796.50 L1318.0,1796.50 L1319.0,1795.60 L1320.0,1793.80 L1321.0,1791.50 L1322.0,1793.80 L1323.0,1787.10 L1324.0,1778.00 L1324.7,1770.90 L1325.0,1774.00 L1326.0,1783.60 L1327.0,1791.80 L1328.0,1796.50 L1347.0,1796.50 L1348.0,1795.10 L1349.0,1793.10 L1349.7,1791.50 L1350.0,1792.20 L1351.0,1794.40 L1352.0,1793.80 L1353.0,1791.50 L1354.0,1793.80 L1355.0,1795.60 L1356.0,1793.80 L1357.0,1791.50 L1358.0,1793.80 L1359.0,1795.60 L1360.0,1795.90 L1361.0,1794.20 L1362.0,1792.00 L1362.2,1791.50 L1363.0,1793.30 L1364.0,1795.30 L1365.0,1796.50 L1366.0,1795.30 L1367.0,1793.30 L1367.8,1791.50 L1368.0,1792.00 L1369.0,1794.20 L1370.0,1794.50 L1371.0,1790.80 L1372.0,1786.50 L1373.0,1778.90 L1374.0,1767.30 L1374.2,1764.80 L1375.0,1774.40 L1376.0,1785.10 L1376.2,1786.50 L1377.0,1790.00 L1378.0,1793.80 L1379.0,1795.10 L1380.0,1791.60 L1381.0,1787.40 L1381.2,1786.50 L1382.0,1790.00 L1383.0,1793.80 L1384.0,1796.50 L1390.0,1796.50 L1391.0,1795.50 L1392.0,1793.50 L1392.9,1791.50 L1393.0,1791.70 L1394.0,1794.00 L1395.0,1795.80 L1396.0,1796.50 L1398.0,1796.50 L1399.0,1794.90 L1400.0,1792.90 L1400.6,1791.50 L1401.0,1792.40 L1402.0,1794.60 L1403.0,1796.20 L1404.0,1796.50 L1405.0,1795.30 L1406.0,1793.30 L1406.8,1791.50 L1407.0,1792.00 L1408.0,1792.00 L1409.0,1788.50 L1410.0,1790.80 L1411.0,1786.50 L1412.0,1790.80 L1413.0,1793.10 L1414.0,1789.20 L1414.6,1786.50 L1415.0,1788.30 L1416.0,1792.40 L1417.0,1792.20 L1417.3,1791.50 L1418.0,1793.10 L1419.0,1795.10 L1420.0,1796.50 L1433.0,1796.50 L1434.0,1794.50 L1435.0,1790.80 L1436.0,1786.50 L1437.0,1790.80 L1438.0,1794.50 L1439.0,1796.50 L1441.0,1796.50 L1442.0,1795.40 L1443.0,1792.00 L1444.0,1787.90 L1444.3,1786.50 L1445.0,1786.70 L1445.7,1782.50 L1446.0,1784.30 L1447.0,1790.00 L1448.0,1794.70 L1449.0,1791.60 L1450.0,1786.00 L1450.7,1781.50 L1451.0,1783.50 L1452.0,1789.50 L1453.0,1790.80 L1454.0,1786.50 L1455.0,1790.80 L1456.0,1794.50 L1457.0,1796.50 L1459.0,1796.50 L1460.0,1796.20 L1461.0,1794.60 L1462.0,1792.40 L1462.4,1791.50 L1463.0,1792.90 L1464.0,1794.90 L1465.0,1794.90 L1466.0,1792.90 L1466.6,1791.50 L1467.0,1792.40 L1468.0,1794.60 L1469.0,1796.20 L1470.0,1796.50 L1480.0,1796.50 L1481.0,1796.10 L1482.0,1794.40 L1483.0,1792.20 L1483.3,1791.50 L1484.0,1793.10 L1485.0,1795.10 L1486.0,1793.80 L1487.0,1791.50 L1488.0,1793.80 L1489.0,1795.60 L1490.0,1793.80 L1491.0,1791.50 L1492.0,1793.80 L1493.0,1793.80 L1494.0,1791.50 L1495.0,1793.80 L1496.0,1794.20 L1497.0,1792.00 L1497.2,1791.50 L1498.0,1793.30 L1499.0,1795.30 L1500.0,1796.50 L1510.0,1796.50 L1511.0,1794.70 L1512.0,1792.70 L1512.5,1791.50 L1513.0,1792.70 L1514.0,1794.70 L1515.0,1795.10 L1516.0,1793.10 L1516.7,1791.50 L1517.0,1792.20 L1518.0,1794.40 L1519.0,1796.10 L1520.0,1796.50 L1530.0,1796.50 L1531.0,1796.20 L1532.0,1794.60 L1533.0,1792.40 L1533.4,1791.50 L1534.0,1792.90 L1535.0,1794.90 L1536.0,1796.50 L1538.0,1796.50 L1539.0,1795.50 L1540.0,1793.50 L1540.9,1791.50 L1541.0,1791.70 L1542.0,1794.00 L1543.0,1795.80 L1544.0,1796.50 L1555.0,1796.50 L1556.0,1795.30 L1557.0,1793.30 L1557.8,1791.50 L1558.0,1792.00 L1559.0,1794.20 L1560.0,1795.10 L1561.0,1793.10 L1561.7,1791.50 L1562.0,1792.20 L1563.0,1794.40 L1564.0,1796.10 L1565.0,1796.50 L1601.0,1796.50 L1602.0,1794.70 L1603.0,1790.00 L1604.0,1784.30 L1604.3,1782.50 L1605.0,1786.70 L1606.0,1792.00 L1607.0,1796.00 L1608.0,1796.50 L1612.0,1796.50 L1613.0,1794.20 L1614.0,1790.40 L1614.9,1786.50 L1615.0,1787.00 L1616.0,1791.20 L1617.0,1794.80 L1618.0,1796.50 L1619.0,1796.50 L1620.0,1795.30 L1621.0,1793.30 L1621.8,1791.50 L1622.0,1792.00 L1623.0,1794.20 L1624.0,1795.90 L1625.0,1796.50 L1640.0,1796.50 L1641.0,1795.40 L1642.0,1792.00 L1643.0,1787.90 L1643.3,1786.50 L1644.0,1788.70 L1645.0,1781.50 L1645.5,1777.50 L1646.0,1781.50 L1647.0,1786.30 L1648.0,1778.10 L1648.3,1775.50 L1649.0,1781.50 L1650.0,1789.20 L1651.0,1795.20 L1652.0,1795.70 L1653.0,1792.40 L1654.0,1788.30 L1654.4,1786.50 L1655.0,1789.20 L1656.0,1793.10 L1657.0,1794.90 L1658.0,1792.90 L1658.6,1791.50 L1659.0,1792.40 L1660.0,1793.80 L1661.0,1791.50 L1662.0,1793.80 L1663.0,1795.60 L1664.0,1796.50 L1665.0,1791.50 L1666.0,1784.60 L1667.0,1776.50 L1668.0,1784.60 L1669.0,1791.50 L1670.0,1795.30 L1671.0,1790.60 L1672.0,1784.70 L1672.5,1781.50 L1673.0,1784.70 L1674.0,1777.70 L1674.7,1770.50 L1675.0,1773.70 L1676.0,1783.40 L1677.0,1787.90 L1677.3,1786.50 L1678.0,1789.60 L1679.0,1793.50 L1680.0,1790.80 L1681.0,1786.50 L1682.0,1790.80 L1683.0,1794.50 L1684.0,1795.70 L1685.0,1792.40 L1686.0,1788.30 L1686.4,1786.50 L1687.0,1789.20 L1688.0,1793.10 L1689.0,1796.10 L1690.0,1794.90 L1691.0,1788.90 L1692.0,1781.50 L1692.6,1776.50 L1693.0,1779.90 L1694.0,1787.50 L1695.0,1793.80 L1696.0,1791.50 L1697.0,1793.80 L1698.0,1793.80 L1699.0,1791.50 L1700.0,1793.80 L1701.0,1793.10 L1701.7,1791.50 L1702.0,1792.20 L1703.0,1794.40 L1704.0,1796.10 L1705.0,1796.50 L1707.0,1796.50 L1708.0,1794.50 L1709.0,1790.80 L1710.0,1786.50 L1711.0,1790.80 L1712.0,1794.50 L1713.0,1793.10 L1713.7,1791.50 L1714.0,1792.20 L1715.0,1794.40 L1716.0,1795.50 L1717.0,1793.50 L1717.9,1791.50 L1718.0,1791.70 L1719.0,1794.00 L1720.0,1795.80 L1721.0,1796.50 L1732.0,1796.50 L1733.0,1794.50 L1734.0,1790.80 L1735.0,1786.50 L1736.0,1790.80 L1737.0,1794.50 L1738.0,1796.50 L1741.0,1796.50 L1742.0,1796.10 L1743.0,1790.90 L1744.0,1783.80 L1744.9,1776.50 L1745.0,1777.40 L1746.0,1785.30 L1747.0,1792.20 L1748.0,1796.50 L1784.0,1796.50 L1785.0,1794.90 L1786.0,1792.90 L1786.6,1791.50 L1787.0,1792.40 L1788.0,1794.60 L1789.0,1796.20 L1790.0,1796.50 L1791.0,1796.50 L1792.0,1796.20 L1793.0,1794.60 L1794.0,1792.40 L1794.4,1791.50 L1795.0,1792.90 L1796.0,1794.90 L1797.0,1796.50 L1887.0,1796.50 L1888.0,1794.70 L1889.0,1792.70 L1889.5,1791.50 L1890.0,1792.70 L1891.0,1794.40 L1892.0,1792.20 L1892.3,1791.50 L1893.0,1793.10 L1894.0,1795.10 L1895.0,1796.50 L1901.0,1796.50 L1902.0,1795.40 L1903.0,1792.00 L1904.0,1787.90 L1904.3,1786.50 L1905.0,1789.60 L1906.0,1793.50 L1907.0,1796.50 L1948.0,1796.50 L1949.0,1793.80 L1950.0,1790.00 L1950.8,1786.50 L1951.0,1787.40 L1952.0,1791.60 L1953.0,1795.10 L1954.0,1796.50 L1963.0,1796.50 L1964.0,1791.50 L1965.0,1784.60 L1966.0,1776.50 L1967.0,1784.60 L1968.0,1784.50 L1968.8,1778.50 L1969.0,1780.00 L1970.0,1787.20 L1971.0,1782.50 L1972.0,1788.40 L1973.0,1793.40 L1974.0,1796.50 L1987.0,1796.50 L1988.0,1793.50 L1989.0,1789.60 L1989.7,1786.50 L1990.0,1787.90 L1991.0,1792.00 L1992.0,1795.40 L1993.0,1796.50 L1994.0,1796.10 L1995.0,1786.70 L1996.0,1773.90 L1997.0,1758.90 L1997.5,1750.90 L1998.0,1758.90 L1999.0,1773.90 L2000.0,1786.70 L2001.0,1793.80 L2002.0,1790.00 L2002.8,1786.50 L2003.0,1787.40 L2004.0,1791.60 L2005.0,1794.60 L2006.0,1792.40 L2006.4,1791.50 L2007.0,1792.90 L2008.0,1794.90 L2009.0,1793.80 L2010.0,1791.50 L2011.0,1793.80 L2012.0,1795.60 L2013.0,1796.50 L2015.0,1796.50 L2016.0,1794.70 L2017.0,1792.70 L2017.5,1791.50 L2018.0,1792.70 L2019.0,1792.70 L2019.5,1791.50 L2020.0,1792.70 L2021.0,1794.70 L2022.0,1796.50 L2023.0,1794.70 L2024.0,1792.70 L2024.5,1791.50 L2025.0,1792.70 L2026.0,1794.70 L2027.0,1793.80 L2028.0,1791.50 L2029.0,1793.80 L2030.0,1792.70 L2030.5,1791.50 L2031.0,1792.70 L2032.0,1793.30 L2032.8,1791.50 L2033.0,1792.00 L2034.0,1794.20 L2034.0,1796.50 Z" fill="#B23AEE"/>
<rect x="704.0" y="1796.05" width="1431.0" height="1.3" fill="#000" fill-opacity="0.8"/>
<text transform="translate(79.00,932.15) rotate(-90)" x="0" y="0" font-size="46.75" fill="#000" text-anchor="middle" textLength="410.03" lengthAdjust="spacingAndGlyphs">Normalized signal</text>
<text transform="translate(128.00,924.70) rotate(-90)" x="0" y="0" font-size="46.75" fill="#000" text-anchor="middle" textLength="316.74" lengthAdjust="spacingAndGlyphs">(range 0 - 39)</text>
<rect x="157.80" y="1861" width="4.4" height="175.70" fill="#000"/>
<text transform="translate(79.00,1948.85) rotate(-90)" x="0" y="0" font-size="46.75" fill="#000" text-anchor="middle" textLength="132.70" lengthAdjust="spacingAndGlyphs">Peaks</text>
<rect x="931.7" y="1940.0" width="19.8" height="17.5" fill="#676767"/>
<rect x="982.7" y="1940.0" width="36.5" height="17.5" fill="#676767"/>
<rect x="1029.8" y="1940.0" width="21.6" height="17.5" fill="#676767"/>
<rect x="1151.4" y="1940.0" width="12.3" height="17.5" fill="#676767"/>
<rect x="1203.4" y="1940.0" width="5.3" height="17.5" fill="#676767"/>
<rect x="1258.9" y="1940.0" width="8.8" height="17.5" fill="#676767"/>
<rect x="1285.3" y="1940.0" width="11.5" height="17.5" fill="#676767"/>
<rect x="1317.0" y="1940.0" width="13.2" height="17.5" fill="#676767"/>
<rect x="1366.0" y="1940.0" width="19.0" height="17.5" fill="#676767"/>
<rect x="1438.8" y="1940.0" width="37.9" height="17.5" fill="#676767"/>
<rect x="1485.5" y="1940.0" width="13.6" height="17.5" fill="#676767"/>
<rect x="1610.2" y="1940.0" width="5.2" height="17.5" fill="#676767"/>
<rect x="1638.8" y="1940.0" width="56.4" height="17.5" fill="#676767"/>
<rect x="1965.7" y="1940.0" width="7.9" height="17.5" fill="#676767"/>
<rect x="1990.8" y="1940.0" width="11.0" height="17.5" fill="#676767"/>
<rect x="2025.6" y="1940.0" width="8.8" height="17.5" fill="#676767"/>
<rect x="704.0" y="2034.50" width="1431.0" height="4.4" fill="#000"/>
<rect x="1004.10" y="2036.70" width="4.4" height="11.20" fill="#333333"/>
<text x="1006.30" y="2083.00" font-size="37.40" fill="#4D4D4D" text-anchor="middle" textLength="209.98" lengthAdjust="spacingAndGlyphs">122640000</text>
<rect x="1349.35" y="2036.70" width="4.4" height="11.20" fill="#333333"/>
<text x="1351.55" y="2083.00" font-size="37.40" fill="#4D4D4D" text-anchor="middle" textLength="209.98" lengthAdjust="spacingAndGlyphs">122660000</text>
<rect x="1694.60" y="2036.70" width="4.4" height="11.20" fill="#333333"/>
<text x="1696.80" y="2083.00" font-size="37.40" fill="#4D4D4D" text-anchor="middle" textLength="209.98" lengthAdjust="spacingAndGlyphs">122680000</text>
<rect x="2039.85" y="2036.70" width="4.4" height="11.20" fill="#333333"/>
<text x="2042.05" y="2083.00" font-size="37.40" fill="#4D4D4D" text-anchor="middle" textLength="209.98" lengthAdjust="spacingAndGlyphs">122700000</text>
<rect x="157.80" y="2136.10" width="4.4" height="199.10" fill="#000"/>
<path d="M1001.9,2144.90 Q1513.9,2506.50 2025.9,2144.90" fill="none" stroke="#D0B4FF" stroke-width="4.4"/>
<path d="M1376.5,2144.90 Q1701.2,2506.50 2025.9,2144.90" fill="none" stroke="#CCADFF" stroke-width="4.4"/>
<path d="M1458.3,2144.90 Q1742.1,2506.50 2025.9,2144.90" fill="none" stroke="#C9A9FF" stroke-width="4.4"/>
<path d="M1492.6,2144.90 Q1759.2,2506.50 2025.9,2144.90" fill="none" stroke="#DAC6FF" stroke-width="4.4"/>
<path d="M1667.5,2144.90 Q1846.7,2506.50 2025.9,2144.90" fill="none" stroke="#C4A4FF" stroke-width="4.4"/>
<rect x="704.0" y="2143.10" width="1431.0" height="3.6" fill="#BEBEBE"/>
<text x="2263.34" y="2180.40" font-size="46.75" fill="#000" text-anchor="middle" textLength="123.15" lengthAdjust="spacingAndGlyphs">score</text>
<rect x="2203.2" y="2209.40" width="23.8" height="116.6" fill="url(#gb)"/>
<text x="2249.30" y="2222.70" font-size="37.40" fill="#000" text-anchor="start" textLength="81.65" lengthAdjust="spacingAndGlyphs">1.00</text>
<rect x="2203.2" y="2237.85" width="4.8" height="1.4" fill="#fff"/>
<rect x="2222.2" y="2237.85" width="4.8" height="1.4" fill="#fff"/>
<text x="2249.30" y="2251.85" font-size="37.40" fill="#000" text-anchor="start" textLength="81.65" lengthAdjust="spacingAndGlyphs">0.75</text>
<rect x="2203.2" y="2267.00" width="4.8" height="1.4" fill="#fff"/>
<rect x="2222.2" y="2267.00" width="4.8" height="1.4" fill="#fff"/>
<text x="2249.30" y="2281.00" font-size="37.40" fill="#000" text-anchor="start" textLength="81.65" lengthAdjust="spacingAndGlyphs">0.50</text>
<rect x="2203.2" y="2296.15" width="4.8" height="1.4" fill="#fff"/>
<rect x="2222.2" y="2296.15" width="4.8" height="1.4" fill="#fff"/>
<text x="2249.30" y="2310.15" font-size="37.40" fill="#000" text-anchor="start" textLength="81.65" lengthAdjust="spacingAndGlyphs">0.25</text>
<text x="2249.30" y="2339.30" font-size="37.40" fill="#000" text-anchor="start" textLength="81.65" lengthAdjust="spacingAndGlyphs">0.00</text>
<text transform="translate(79.00,2235.65) rotate(-90)" x="0" y="0" font-size="46.75" fill="#000" text-anchor="middle" textLength="205.61" lengthAdjust="spacingAndGlyphs">WT Links</text>
<rect x="157.80" y="2392.10" width="4.4" height="198.50" fill="#000"/>
<path d="M1001.9,2400.90 Q1513.9,2762.50 2025.9,2400.90" fill="none" stroke="#FFB39A" stroke-width="4.4"/>
<path d="M1040.5,2400.90 Q1533.2,2762.50 2025.9,2400.90" fill="none" stroke="#FECBB8" stroke-width="4.4"/>
<path d="M1375.5,2400.90 Q1700.7,2762.50 2025.9,2400.90" fill="none" stroke="#FFBFAA" stroke-width="4.4"/>
<path d="M1457.5,2400.90 Q1741.7,2762.50 2025.9,2400.90" fill="none" stroke="#FFC0AA" stroke-width="4.4"/>
<path d="M1667.5,2400.90 Q1846.7,2762.50 2025.9,2400.90" fill="none" stroke="#FFB7A0" stroke-width="4.4"/>
<rect x="704.0" y="2399.10" width="1431.0" height="3.6" fill="#BEBEBE"/>
<text x="2263.34" y="2436.60" font-size="46.75" fill="#000" text-anchor="middle" textLength="123.15" lengthAdjust="spacingAndGlyphs">score</text>
<rect x="2203.2" y="2465.60" width="23.8" height="116.6" fill="url(#gr)"/>
<text x="2249.30" y="2478.90" font-size="37.40" fill="#000" text-anchor="start" textLength="81.65" lengthAdjust="spacingAndGlyphs">1.00</text>
<rect x="2203.2" y="2494.05" width="4.8" height="1.4" fill="#fff"/>
<rect x="2222.2" y="2494.05" width="4.8" height="1.4" fill="#fff"/>
<text x="2249.30" y="2508.05" font-size="37.40" fill="#000" text-anchor="start" textLength="81.65" lengthAdjust="spacingAndGlyphs">0.75</text>
<rect x="2203.2" y="2523.20" width="4.8" height="1.4" fill="#fff"/>
<rect x="2222.2" y="2523.20" width="4.8" height="1.4" fill="#fff"/>
<text x="2249.30" y="2537.20" font-size="37.40" fill="#000" text-anchor="start" textLength="81.65" lengthAdjust="spacingAndGlyphs">0.50</text>
<rect x="2203.2" y="2552.35" width="4.8" height="1.4" fill="#fff"/>
<rect x="2222.2" y="2552.35" width="4.8" height="1.4" fill="#fff"/>
<text x="2249.30" y="2566.35" font-size="37.40" fill="#000" text-anchor="start" textLength="81.65" lengthAdjust="spacingAndGlyphs">0.25</text>
<text x="2249.30" y="2595.50" font-size="37.40" fill="#000" text-anchor="start" textLength="81.65" lengthAdjust="spacingAndGlyphs">0.00</text>
<text transform="translate(79.00,2491.35) rotate(-90)" x="0" y="0" font-size="46.75" fill="#000" text-anchor="middle" textLength="195.92" lengthAdjust="spacingAndGlyphs">KO Links</text>
<rect x="157.80" y="2648" width="4.4" height="199.30" fill="#000"/>
<text transform="translate(79.00,2747.65) rotate(-90)" x="0" y="0" font-size="46.75" fill="#000" text-anchor="middle" textLength="144.83" lengthAdjust="spacingAndGlyphs">Genes</text>
<rect x="809" y="2703.10" width="1217" height="4.6" fill="#006400"/>
<path d="M819.8,2697.1 L811.5,2705.4 L819.8,2713.7" fill="none" stroke="#006400" stroke-width="4.4" stroke-linejoin="miter"/>
<path d="M872.6,2697.1 L864.3,2705.4 L872.6,2713.7" fill="none" stroke="#006400" stroke-width="4.4" stroke-linejoin="miter"/>
<path d="M898.6,2697.1 L890.3,2705.4 L898.6,2713.7" fill="none" stroke="#006400" stroke-width="4.4" stroke-linejoin="miter"/>
<path d="M924.6,2697.1 L916.3,2705.4 L924.6,2713.7" fill="none" stroke="#006400" stroke-width="4.4" stroke-linejoin="miter"/>
<path d="M950.7,2697.1 L942.4,2705.4 L950.7,2713.7" fill="none" stroke="#006400" stroke-width="4.4" stroke-linejoin="miter"/>
<path d="M976.7,2697.1 L968.4,2705.4 L976.7,2713.7" fill="none" stroke="#006400" stroke-width="4.4" stroke-linejoin="miter"/>
<path d="M1002.7,2697.1 L994.4,2705.4 L1002.7,2713.7" fill="none" stroke="#006400" stroke-width="4.4" stroke-linejoin="miter"/>
<path d="M1028.7,2697.1 L1020.4,2705.4 L1028.7,2713.7" fill="none" stroke="#006400" stroke-width="4.4" stroke-linejoin="miter"/>
<path d="M1054.7,2697.1 L1046.4,2705.4 L1054.7,2713.7" fill="none" stroke="#006400" stroke-width="4.4" stroke-linejoin="miter"/>
<path d="M1080.8,2697.1 L1072.5,2705.4 L1080.8,2713.7" fill="none" stroke="#006400" stroke-width="4.4" stroke-linejoin="miter"/>
<path d="M1106.8,2697.1 L1098.5,2705.4 L1106.8,2713.7" fill="none" stroke="#006400" stroke-width="4.4" stroke-linejoin="miter"/>
<path d="M1132.8,2697.1 L1124.5,2705.4 L1132.8,2713.7" fill="none" stroke="#006400" stroke-width="4.4" stroke-linejoin="miter"/>
<path d="M1158.8,2697.1 L1150.5,2705.4 L1158.8,2713.7" fill="none" stroke="#006400" stroke-width="4.4" stroke-linejoin="miter"/>
<path d="M1184.8,2697.1 L1176.5,2705.4 L1184.8,2713.7" fill="none" stroke="#006400" stroke-width="4.4" stroke-linejoin="miter"/>
<path d="M1210.9,2697.1 L1202.6,2705.4 L1210.9,2713.7" fill="none" stroke="#006400" stroke-width="4.4" stroke-linejoin="miter"/>
<path d="M1236.9,2697.1 L1228.6,2705.4 L1236.9,2713.7" fill="none" stroke="#006400" stroke-width="4.4" stroke-linejoin="miter"/>
<path d="M1262.9,2697.1 L1254.6,2705.4 L1262.9,2713.7" fill="none" stroke="#006400" stroke-width="4.4" stroke-linejoin="miter"/>
<path d="M1288.9,2697.1 L1280.6,2705.4 L1288.9,2713.7" fill="none" stroke="#006400" stroke-width="4.4" stroke-linejoin="miter"/>
<path d="M1314.9,2697.1 L1306.6,2705.4 L1314.9,2713.7" fill="none" stroke="#006400" stroke-width="4.4" stroke-linejoin="miter"/>
<path d="M1341.0,2697.1 L1332.7,2705.4 L1341.0,2713.7" fill="none" stroke="#006400" stroke-width="4.4" stroke-linejoin="miter"/>
<path d="M1367.0,2697.1 L1358.7,2705.4 L1367.0,2713.7" fill="none" stroke="#006400" stroke-width="4.4" stroke-linejoin="miter"/>
<path d="M1393.0,2697.1 L1384.7,2705.4 L1393.0,2713.7" fill="none" stroke="#006400" stroke-width="4.4" stroke-linejoin="miter"/>
<path d="M1419.0,2697.1 L1410.7,2705.4 L1419.0,2713.7" fill="none" stroke="#006400" stroke-width="4.4" stroke-linejoin="miter"/>
<path d="M1445.0,2697.1 L1436.7,2705.4 L1445.0,2713.7" fill="none" stroke="#006400" stroke-width="4.4" stroke-linejoin="miter"/>
<path d="M1471.1,2697.1 L1462.8,2705.4 L1471.1,2713.7" fill="none" stroke="#006400" stroke-width="4.4" stroke-linejoin="miter"/>
<path d="M1497.1,2697.1 L1488.8,2705.4 L1497.1,2713.7" fill="none" stroke="#006400" stroke-width="4.4" stroke-linejoin="miter"/>
<path d="M1523.1,2697.1 L1514.8,2705.4 L1523.1,2713.7" fill="none" stroke="#006400" stroke-width="4.4" stroke-linejoin="miter"/>
<path d="M1549.1,2697.1 L1540.8,2705.4 L1549.1,2713.7" fill="none" stroke="#006400" stroke-width="4.4" stroke-linejoin="miter"/>
<path d="M1575.1,2697.1 L1566.8,2705.4 L1575.1,2713.7" fill="none" stroke="#006400" stroke-width="4.4" stroke-linejoin="miter"/>
<path d="M1601.2,2697.1 L1592.9,2705.4 L1601.2,2713.7" fill="none" stroke="#006400" stroke-width="4.4" stroke-linejoin="miter"/>
<path d="M1627.2,2697.1 L1618.9,2705.4 L1627.2,2713.7" fill="none" stroke="#006400" stroke-width="4.4" stroke-linejoin="miter"/>
<path d="M1653.2,2697.1 L1644.9,2705.4 L1653.2,2713.7" fill="none" stroke="#006400" stroke-width="4.4" stroke-linejoin="miter"/>
<path d="M1679.2,2697.1 L1670.9,2705.4 L1679.2,2713.7" fill="none" stroke="#006400" stroke-width="4.4" stroke-linejoin="miter"/>
<path d="M1705.2,2697.1 L1696.9,2705.4 L1705.2,2713.7" fill="none" stroke="#006400" stroke-width="4.4" stroke-linejoin="miter"/>
<path d="M1731.3,2697.1 L1723.0,2705.4 L1731.3,2713.7" fill="none" stroke="#006400" stroke-width="4.4" stroke-linejoin="miter"/>
<path d="M1757.3,2697.1 L1749.0,2705.4 L1757.3,2713.7" fill="none" stroke="#006400" stroke-width="4.4" stroke-linejoin="miter"/>
<path d="M1783.3,2697.1 L1775.0,2705.4 L1783.3,2713.7" fill="none" stroke="#006400" stroke-width="4.4" stroke-linejoin="miter"/>
<path d="M1809.3,2697.1 L1801.0,2705.4 L1809.3,2713.7" fill="none" stroke="#006400" stroke-width="4.4" stroke-linejoin="miter"/>
<path d="M1835.3,2697.1 L1827.0,2705.4 L1835.3,2713.7" fill="none" stroke="#006400" stroke-width="4.4" stroke-linejoin="miter"/>
<path d="M1861.4,2697.1 L1853.1,2705.4 L1861.4,2713.7" fill="none" stroke="#006400" stroke-width="4.4" stroke-linejoin="miter"/>
<path d="M1887.4,2697.1 L1879.1,2705.4 L1887.4,2713.7" fill="none" stroke="#006400" stroke-width="4.4" stroke-linejoin="miter"/>
<path d="M1913.4,2697.1 L1905.1,2705.4 L1913.4,2713.7" fill="none" stroke="#006400" stroke-width="4.4" stroke-linejoin="miter"/>
<path d="M1939.4,2697.1 L1931.1,2705.4 L1939.4,2713.7" fill="none" stroke="#006400" stroke-width="4.4" stroke-linejoin="miter"/>
<path d="M1965.4,2697.1 L1957.1,2705.4 L1965.4,2713.7" fill="none" stroke="#006400" stroke-width="4.4" stroke-linejoin="miter"/>
<path d="M1991.5,2697.1 L1983.2,2705.4 L1991.5,2713.7" fill="none" stroke="#006400" stroke-width="4.4" stroke-linejoin="miter"/>
<path d="M2017.5,2697.1 L2009.2,2705.4 L2017.5,2713.7" fill="none" stroke="#006400" stroke-width="4.4" stroke-linejoin="miter"/>
<rect x="812.1" y="2692.2" width="38.4" height="26.4" fill="#006400"/>
<rect x="891.1" y="2692.2" width="3.5" height="26.4" fill="#006400"/>
<rect x="909.0" y="2692.2" width="1.1" height="26.4" fill="#006400"/>
<rect x="919.2" y="2692.2" width="3.2" height="26.4" fill="#006400"/>
<rect x="933.3" y="2692.2" width="1.2" height="26.4" fill="#006400"/>
<rect x="971.6" y="2692.2" width="3.9" height="26.4" fill="#006400"/>
<rect x="986.2" y="2692.2" width="3.5" height="26.4" fill="#006400"/>
<rect x="1056.9" y="2692.2" width="1.0" height="26.4" fill="#006400"/>
<rect x="1063.0" y="2692.2" width="4.6" height="26.4" fill="#006400"/>
<rect x="1117.2" y="2692.2" width="1.0" height="26.4" fill="#006400"/>
<rect x="1139.2" y="2692.2" width="1.4" height="26.4" fill="#006400"/>
<rect x="1179.6" y="2692.2" width="7.6" height="26.4" fill="#006400"/>
<rect x="1659.4" y="2692.2" width="4.9" height="26.4" fill="#006400"/>
<rect x="1673.3" y="2692.2" width="1.0" height="26.4" fill="#006400"/>
<rect x="2021.7" y="2692.2" width="4.4" height="26.4" fill="#006400"/>
<text x="1418.90" y="2691.30" font-size="30.19" fill="#000" text-anchor="middle" textLength="117.29" lengthAdjust="spacingAndGlyphs">Cbfa2t3</text>
<rect x="761" y="2824.20" width="1310" height="4.6" fill="#000080"/>
<path d="M760.4,2818.2 L768.6,2826.5 L760.4,2834.8" fill="none" stroke="#000080" stroke-width="4.4" stroke-linejoin="miter"/>
<path d="M786.4,2818.2 L794.6,2826.5 L786.4,2834.8" fill="none" stroke="#000080" stroke-width="4.4" stroke-linejoin="miter"/>
<path d="M812.4,2818.2 L820.6,2826.5 L812.4,2834.8" fill="none" stroke="#000080" stroke-width="4.4" stroke-linejoin="miter"/>
<path d="M838.4,2818.2 L846.6,2826.5 L838.4,2834.8" fill="none" stroke="#000080" stroke-width="4.4" stroke-linejoin="miter"/>
<path d="M864.4,2818.2 L872.6,2826.5 L864.4,2834.8" fill="none" stroke="#000080" stroke-width="4.4" stroke-linejoin="miter"/>
<path d="M890.4,2818.2 L898.6,2826.5 L890.4,2834.8" fill="none" stroke="#000080" stroke-width="4.4" stroke-linejoin="miter"/>
<path d="M916.4,2818.2 L924.6,2826.5 L916.4,2834.8" fill="none" stroke="#000080" stroke-width="4.4" stroke-linejoin="miter"/>
<path d="M942.4,2818.2 L950.6,2826.5 L942.4,2834.8" fill="none" stroke="#000080" stroke-width="4.4" stroke-linejoin="miter"/>
<path d="M968.4,2818.2 L976.6,2826.5 L968.4,2834.8" fill="none" stroke="#000080" stroke-width="4.4" stroke-linejoin="miter"/>
<path d="M994.4,2818.2 L1002.6,2826.5 L994.4,2834.8" fill="none" stroke="#000080" stroke-width="4.4" stroke-linejoin="miter"/>
<path d="M1020.4,2818.2 L1028.7,2826.5 L1020.4,2834.8" fill="none" stroke="#000080" stroke-width="4.4" stroke-linejoin="miter"/>
<path d="M1046.4,2818.2 L1054.7,2826.5 L1046.4,2834.8" fill="none" stroke="#000080" stroke-width="4.4" stroke-linejoin="miter"/>
<path d="M1072.4,2818.2 L1080.7,2826.5 L1072.4,2834.8" fill="none" stroke="#000080" stroke-width="4.4" stroke-linejoin="miter"/>
<path d="M1098.4,2818.2 L1106.7,2826.5 L1098.4,2834.8" fill="none" stroke="#000080" stroke-width="4.4" stroke-linejoin="miter"/>
<path d="M1124.4,2818.2 L1132.7,2826.5 L1124.4,2834.8" fill="none" stroke="#000080" stroke-width="4.4" stroke-linejoin="miter"/>
<path d="M1150.4,2818.2 L1158.7,2826.5 L1150.4,2834.8" fill="none" stroke="#000080" stroke-width="4.4" stroke-linejoin="miter"/>
<path d="M1176.4,2818.2 L1184.7,2826.5 L1176.4,2834.8" fill="none" stroke="#000080" stroke-width="4.4" stroke-linejoin="miter"/>
<path d="M1202.4,2818.2 L1210.7,2826.5 L1202.4,2834.8" fill="none" stroke="#000080" stroke-width="4.4" stroke-linejoin="miter"/>
<path d="M1228.4,2818.2 L1236.7,2826.5 L1228.4,2834.8" fill="none" stroke="#000080" stroke-width="4.4" stroke-linejoin="miter"/>
<path d="M1254.4,2818.2 L1262.7,2826.5 L1254.4,2834.8" fill="none" stroke="#000080" stroke-width="4.4" stroke-linejoin="miter"/>
<path d="M1280.4,2818.2 L1288.7,2826.5 L1280.4,2834.8" fill="none" stroke="#000080" stroke-width="4.4" stroke-linejoin="miter"/>
<path d="M1306.4,2818.2 L1314.7,2826.5 L1306.4,2834.8" fill="none" stroke="#000080" stroke-width="4.4" stroke-linejoin="miter"/>
<path d="M1332.4,2818.2 L1340.7,2826.5 L1332.4,2834.8" fill="none" stroke="#000080" stroke-width="4.4" stroke-linejoin="miter"/>
<path d="M1358.4,2818.2 L1366.7,2826.5 L1358.4,2834.8" fill="none" stroke="#000080" stroke-width="4.4" stroke-linejoin="miter"/>
<path d="M1384.4,2818.2 L1392.7,2826.5 L1384.4,2834.8" fill="none" stroke="#000080" stroke-width="4.4" stroke-linejoin="miter"/>
<path d="M1410.4,2818.2 L1418.7,2826.5 L1410.4,2834.8" fill="none" stroke="#000080" stroke-width="4.4" stroke-linejoin="miter"/>
<path d="M1436.4,2818.2 L1444.7,2826.5 L1436.4,2834.8" fill="none" stroke="#000080" stroke-width="4.4" stroke-linejoin="miter"/>
<path d="M1462.4,2818.2 L1470.7,2826.5 L1462.4,2834.8" fill="none" stroke="#000080" stroke-width="4.4" stroke-linejoin="miter"/>
<path d="M1488.4,2818.2 L1496.7,2826.5 L1488.4,2834.8" fill="none" stroke="#000080" stroke-width="4.4" stroke-linejoin="miter"/>
<path d="M1514.4,2818.2 L1522.7,2826.5 L1514.4,2834.8" fill="none" stroke="#000080" stroke-width="4.4" stroke-linejoin="miter"/>
<path d="M1540.4,2818.2 L1548.7,2826.5 L1540.4,2834.8" fill="none" stroke="#000080" stroke-width="4.4" stroke-linejoin="miter"/>
<path d="M1566.4,2818.2 L1574.7,2826.5 L1566.4,2834.8" fill="none" stroke="#000080" stroke-width="4.4" stroke-linejoin="miter"/>
<path d="M1592.4,2818.2 L1600.7,2826.5 L1592.4,2834.8" fill="none" stroke="#000080" stroke-width="4.4" stroke-linejoin="miter"/>
<path d="M1618.4,2818.2 L1626.7,2826.5 L1618.4,2834.8" fill="none" stroke="#000080" stroke-width="4.4" stroke-linejoin="miter"/>
<path d="M1644.4,2818.2 L1652.7,2826.5 L1644.4,2834.8" fill="none" stroke="#000080" stroke-width="4.4" stroke-linejoin="miter"/>
<path d="M1670.4,2818.2 L1678.7,2826.5 L1670.4,2834.8" fill="none" stroke="#000080" stroke-width="4.4" stroke-linejoin="miter"/>
<path d="M1696.4,2818.2 L1704.7,2826.5 L1696.4,2834.8" fill="none" stroke="#000080" stroke-width="4.4" stroke-linejoin="miter"/>
<path d="M1722.4,2818.2 L1730.7,2826.5 L1722.4,2834.8" fill="none" stroke="#000080" stroke-width="4.4" stroke-linejoin="miter"/>
<path d="M1748.4,2818.2 L1756.7,2826.5 L1748.4,2834.8" fill="none" stroke="#000080" stroke-width="4.4" stroke-linejoin="miter"/>
<path d="M1774.4,2818.2 L1782.7,2826.5 L1774.4,2834.8" fill="none" stroke="#000080" stroke-width="4.4" stroke-linejoin="miter"/>
<path d="M1800.4,2818.2 L1808.7,2826.5 L1800.4,2834.8" fill="none" stroke="#000080" stroke-width="4.4" stroke-linejoin="miter"/>
<path d="M1826.4,2818.2 L1834.7,2826.5 L1826.4,2834.8" fill="none" stroke="#000080" stroke-width="4.4" stroke-linejoin="miter"/>
<path d="M1852.4,2818.2 L1860.7,2826.5 L1852.4,2834.8" fill="none" stroke="#000080" stroke-width="4.4" stroke-linejoin="miter"/>
<path d="M1878.4,2818.2 L1886.7,2826.5 L1878.4,2834.8" fill="none" stroke="#000080" stroke-width="4.4" stroke-linejoin="miter"/>
<path d="M1904.4,2818.2 L1912.7,2826.5 L1904.4,2834.8" fill="none" stroke="#000080" stroke-width="4.4" stroke-linejoin="miter"/>
<path d="M1930.4,2818.2 L1938.7,2826.5 L1930.4,2834.8" fill="none" stroke="#000080" stroke-width="4.4" stroke-linejoin="miter"/>
<path d="M1956.4,2818.2 L1964.7,2826.5 L1956.4,2834.8" fill="none" stroke="#000080" stroke-width="4.4" stroke-linejoin="miter"/>
<path d="M1982.4,2818.2 L1990.7,2826.5 L1982.4,2834.8" fill="none" stroke="#000080" stroke-width="4.4" stroke-linejoin="miter"/>
<path d="M2008.4,2818.2 L2016.7,2826.5 L2008.4,2834.8" fill="none" stroke="#000080" stroke-width="4.4" stroke-linejoin="miter"/>
<path d="M2034.4,2818.2 L2042.7,2826.5 L2034.4,2834.8" fill="none" stroke="#000080" stroke-width="4.4" stroke-linejoin="miter"/>
<path d="M2062.1,2818.2 L2070.4,2826.5 L2062.1,2834.8" fill="none" stroke="#000080" stroke-width="4.4" stroke-linejoin="miter"/>
<text x="1418.60" y="2812.20" font-size="30.19" fill="#000" text-anchor="middle" textLength="145.94" lengthAdjust="spacingAndGlyphs">Gm20388</text>
<rect x="704.0" y="2845.10" width="1431.0" height="4.4" fill="#000"/>
<rect x="1004.10" y="2847.30" width="4.4" height="11.20" fill="#333333"/>
<text x="1006.30" y="2893.60" font-size="37.40" fill="#4D4D4D" text-anchor="middle" textLength="209.98" lengthAdjust="spacingAndGlyphs">122640000</text>
<rect x="1349.35" y="2847.30" width="4.4" height="11.20" fill="#333333"/>
<text x="1351.55" y="2893.60" font-size="37.40" fill="#4D4D4D" text-anchor="middle" textLength="209.98" lengthAdjust="spacingAndGlyphs">122660000</text>
<rect x="1694.60" y="2847.30" width="4.4" height="11.20" fill="#333333"/>
<text x="1696.80" y="2893.60" font-size="37.40" fill="#4D4D4D" text-anchor="middle" textLength="209.98" lengthAdjust="spacingAndGlyphs">122680000</text>
<rect x="2039.85" y="2847.30" width="4.4" height="11.20" fill="#333333"/>
<text x="2042.05" y="2893.60" font-size="37.40" fill="#4D4D4D" text-anchor="middle" textLength="209.98" lengthAdjust="spacingAndGlyphs">122700000</text>
<text x="1418.80" y="2945.50" font-size="46.75" fill="#000" text-anchor="middle" textLength="406.85" lengthAdjust="spacingAndGlyphs">chr8 position (bp)</text>
</svg></body></html>
